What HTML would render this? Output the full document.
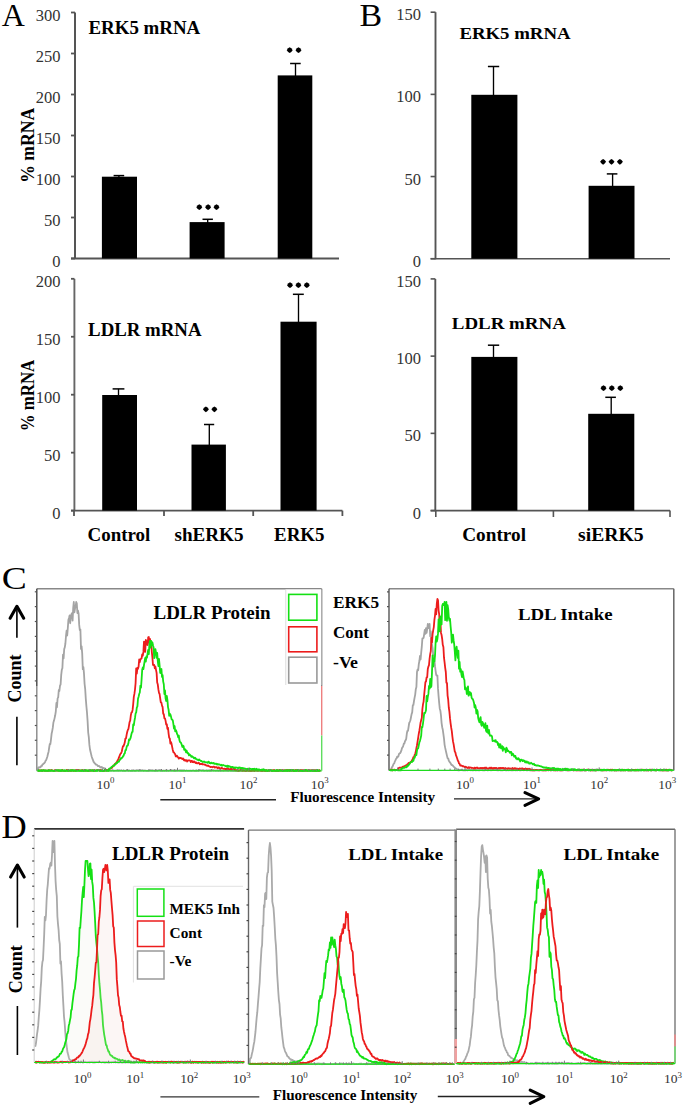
<!DOCTYPE html>
<html><head><meta charset="utf-8"><style>
html,body{margin:0;padding:0;background:#fff;}
svg{display:block;font-family:"Liberation Serif",serif;}
</style></head><body>
<svg width="685" height="1115" viewBox="0 0 685 1115">
<rect width="685" height="1115" fill="#fff"/>
<text x="1.8" y="26.3" font-size="32" font-weight="normal" text-anchor="start" fill="#000">A</text>
<line x1="75" y1="12.5" x2="75" y2="259.0" stroke="#555" stroke-width="2"/>
<line x1="71" y1="258.5" x2="339" y2="258.5" stroke="#555" stroke-width="1.8"/>
<line x1="71" y1="12.5" x2="75" y2="12.5" stroke="#555" stroke-width="1.8"/>
<text x="60.5" y="20.5" font-size="16.5" font-weight="normal" text-anchor="end" fill="#333">300</text>
<line x1="71" y1="53.5" x2="75" y2="53.5" stroke="#555" stroke-width="1.8"/>
<text x="60.5" y="61.5" font-size="16.5" font-weight="normal" text-anchor="end" fill="#333">250</text>
<line x1="71" y1="94.5" x2="75" y2="94.5" stroke="#555" stroke-width="1.8"/>
<text x="60.5" y="102.5" font-size="16.5" font-weight="normal" text-anchor="end" fill="#333">200</text>
<line x1="71" y1="135.5" x2="75" y2="135.5" stroke="#555" stroke-width="1.8"/>
<text x="60.5" y="143.5" font-size="16.5" font-weight="normal" text-anchor="end" fill="#333">150</text>
<line x1="71" y1="176.5" x2="75" y2="176.5" stroke="#555" stroke-width="1.8"/>
<text x="60.5" y="184.5" font-size="16.5" font-weight="normal" text-anchor="end" fill="#333">100</text>
<line x1="71" y1="217.5" x2="75" y2="217.5" stroke="#555" stroke-width="1.8"/>
<text x="60.5" y="225.5" font-size="16.5" font-weight="normal" text-anchor="end" fill="#333">50</text>
<line x1="71" y1="258.5" x2="75" y2="258.5" stroke="#555" stroke-width="1.8"/>
<text x="60.5" y="266.5" font-size="16.5" font-weight="normal" text-anchor="end" fill="#333">0</text>
<text x="88.5" y="33.6" font-size="18.5" font-weight="bold" text-anchor="start" fill="#000" textLength="111.7" lengthAdjust="spacingAndGlyphs">ERK5 mRNA</text>
<text transform="translate(34.3,145.2) rotate(-90)" font-size="17.8" font-weight="bold" text-anchor="middle" textLength="75" lengthAdjust="spacingAndGlyphs">% mRNA</text>
<line x1="118.9" y1="175.6" x2="118.9" y2="177.7" stroke="#000" stroke-width="1.35"/>
<line x1="113.6" y1="175.6" x2="124.2" y2="175.6" stroke="#000" stroke-width="1.5"/>
<rect x="101.9" y="176.7" width="35.099999999999994" height="81.80000000000001" fill="#000" stroke="#000" stroke-width="0"/>
<line x1="207.7" y1="219.3" x2="207.7" y2="223.1" stroke="#000" stroke-width="1.35"/>
<line x1="202.5" y1="219.3" x2="212.9" y2="219.3" stroke="#000" stroke-width="1.5"/>
<rect x="189.6" y="222.1" width="35.0" height="36.400000000000006" fill="#000" stroke="#000" stroke-width="0"/>
<line x1="295.5" y1="63.5" x2="295.5" y2="76.4" stroke="#000" stroke-width="1.35"/>
<line x1="290.1" y1="63.5" x2="300.7" y2="63.5" stroke="#000" stroke-width="1.5"/>
<rect x="277.7" y="75.4" width="34.60000000000002" height="183.1" fill="#000" stroke="#000" stroke-width="0"/>
<path d="M196.30,207.2 Q197.65,205.02 199.3,204.30 Q200.95,205.02 202.30,207.2 Q200.95,209.38 199.3,210.10 Q197.65,209.38 196.30,207.2 Z" fill="#000"/>
<path d="M205.10,207.2 Q206.45,205.02 208.1,204.30 Q209.75,205.02 211.10,207.2 Q209.75,209.38 208.1,210.10 Q206.45,209.38 205.10,207.2 Z" fill="#000"/>
<path d="M213.50,207.2 Q214.85,205.02 216.5,204.30 Q218.15,205.02 219.50,207.2 Q218.15,209.38 216.5,210.10 Q214.85,209.38 213.50,207.2 Z" fill="#000"/>
<path d="M286.70,50.2 Q288.05,48.03 289.7,47.30 Q291.35,48.03 292.70,50.2 Q291.35,52.38 289.7,53.10 Q288.05,52.38 286.70,50.2 Z" fill="#000"/>
<path d="M295.50,50.2 Q296.85,48.03 298.5,47.30 Q300.15,48.03 301.50,50.2 Q300.15,52.38 298.5,53.10 Q296.85,52.38 295.50,50.2 Z" fill="#000"/>
<line x1="74.4" y1="278.8" x2="74.4" y2="511.1" stroke="#666" stroke-width="1.9"/>
<line x1="71" y1="510.6" x2="342.4" y2="510.6" stroke="#555" stroke-width="1.8"/>
<line x1="74" y1="510.6" x2="74" y2="516" stroke="#555" stroke-width="1.8"/>
<line x1="164" y1="510.6" x2="164" y2="516" stroke="#555" stroke-width="1.8"/>
<line x1="253.2" y1="510.6" x2="253.2" y2="516" stroke="#555" stroke-width="1.8"/>
<line x1="342.4" y1="510.6" x2="342.4" y2="516" stroke="#555" stroke-width="1.8"/>
<line x1="71" y1="278.8" x2="74.4" y2="278.8" stroke="#555" stroke-width="1.8"/>
<text x="60.5" y="286.8" font-size="16.5" font-weight="normal" text-anchor="end" fill="#333">200</text>
<line x1="71" y1="336.75" x2="74.4" y2="336.75" stroke="#555" stroke-width="1.8"/>
<text x="60.5" y="344.75" font-size="16.5" font-weight="normal" text-anchor="end" fill="#333">150</text>
<line x1="71" y1="394.70000000000005" x2="74.4" y2="394.70000000000005" stroke="#555" stroke-width="1.8"/>
<text x="60.5" y="402.70000000000005" font-size="16.5" font-weight="normal" text-anchor="end" fill="#333">100</text>
<line x1="71" y1="452.65000000000003" x2="74.4" y2="452.65000000000003" stroke="#555" stroke-width="1.8"/>
<text x="60.5" y="460.65000000000003" font-size="16.5" font-weight="normal" text-anchor="end" fill="#333">50</text>
<line x1="71" y1="510.6" x2="74.4" y2="510.6" stroke="#555" stroke-width="1.8"/>
<text x="60.5" y="518.6" font-size="16.5" font-weight="normal" text-anchor="end" fill="#333">0</text>
<text x="88.1" y="336.2" font-size="18.5" font-weight="bold" text-anchor="start" fill="#000" textLength="113.4" lengthAdjust="spacingAndGlyphs">LDLR mRNA</text>
<text transform="translate(34.2,395.5) rotate(-90)" font-size="18" font-weight="bold" text-anchor="middle" textLength="71.5" lengthAdjust="spacingAndGlyphs">% mRNA</text>
<line x1="118.5" y1="388.9" x2="118.5" y2="396" stroke="#000" stroke-width="1.35"/>
<line x1="112.6" y1="388.9" x2="124.4" y2="388.9" stroke="#000" stroke-width="1.5"/>
<rect x="102.2" y="395" width="34.8" height="115.60000000000002" fill="#000" stroke="#000" stroke-width="0"/>
<line x1="209.3" y1="424.5" x2="209.3" y2="445.6" stroke="#000" stroke-width="1.35"/>
<line x1="204" y1="424.5" x2="214.2" y2="424.5" stroke="#000" stroke-width="1.5"/>
<rect x="191.5" y="444.6" width="34.400000000000006" height="66.0" fill="#000" stroke="#000" stroke-width="0"/>
<line x1="298.5" y1="294.3" x2="298.5" y2="322.7" stroke="#000" stroke-width="1.35"/>
<line x1="292.9" y1="294.3" x2="303.8" y2="294.3" stroke="#000" stroke-width="1.5"/>
<rect x="280.5" y="321.7" width="36.10000000000002" height="188.90000000000003" fill="#000" stroke="#000" stroke-width="0"/>
<path d="M202.90,409.3 Q204.25,407.12 205.9,406.40 Q207.55,407.12 208.90,409.3 Q207.55,411.48 205.9,412.20 Q204.25,411.48 202.90,409.3 Z" fill="#000"/>
<path d="M211.40,409.3 Q212.75,407.12 214.4,406.40 Q216.05,407.12 217.40,409.3 Q216.05,411.48 214.4,412.20 Q212.75,411.48 211.40,409.3 Z" fill="#000"/>
<path d="M287.00,285.2 Q288.35,283.02 290,282.30 Q291.65,283.02 293.00,285.2 Q291.65,287.38 290,288.10 Q288.35,287.38 287.00,285.2 Z" fill="#000"/>
<path d="M295.40,285.2 Q296.75,283.02 298.4,282.30 Q300.05,283.02 301.40,285.2 Q300.05,287.38 298.4,288.10 Q296.75,287.38 295.40,285.2 Z" fill="#000"/>
<path d="M303.80,285.2 Q305.15,283.02 306.8,282.30 Q308.45,283.02 309.80,285.2 Q308.45,287.38 306.8,288.10 Q305.15,287.38 303.80,285.2 Z" fill="#000"/>
<text x="87.5" y="540.9" font-size="18.5" font-weight="bold" text-anchor="start" fill="#000" textLength="62.8" lengthAdjust="spacingAndGlyphs">Control</text>
<text x="174.5" y="540.9" font-size="18.5" font-weight="bold" text-anchor="start" fill="#000" textLength="69.0" lengthAdjust="spacingAndGlyphs">shERK5</text>
<text x="274.0" y="540.9" font-size="18.5" font-weight="bold" text-anchor="start" fill="#000" textLength="50.5" lengthAdjust="spacingAndGlyphs">ERK5</text>
<text x="359.6" y="26.2" font-size="31.5" font-weight="normal" text-anchor="start" fill="#000" textLength="22.6" lengthAdjust="spacingAndGlyphs">B</text>
<line x1="435.5" y1="12.2" x2="435.5" y2="259.2" stroke="#555" stroke-width="1.9"/>
<line x1="430.6" y1="258.7" x2="670" y2="258.7" stroke="#555" stroke-width="1.6"/>
<line x1="430.6" y1="12.2" x2="435.5" y2="12.2" stroke="#555" stroke-width="1.6"/>
<text x="421" y="20.2" font-size="16.5" font-weight="normal" text-anchor="end" fill="#333">150</text>
<line x1="430.6" y1="94.37" x2="435.5" y2="94.37" stroke="#555" stroke-width="1.6"/>
<text x="421" y="102.37" font-size="16.5" font-weight="normal" text-anchor="end" fill="#333">100</text>
<line x1="430.6" y1="176.54" x2="435.5" y2="176.54" stroke="#555" stroke-width="1.6"/>
<text x="421" y="184.54" font-size="16.5" font-weight="normal" text-anchor="end" fill="#333">50</text>
<line x1="430.6" y1="258.71" x2="435.5" y2="258.71" stroke="#555" stroke-width="1.6"/>
<text x="421" y="266.71" font-size="16.5" font-weight="normal" text-anchor="end" fill="#333">0</text>
<text x="459.4" y="39.2" font-size="17" font-weight="bold" text-anchor="start" fill="#000" textLength="111.2" lengthAdjust="spacingAndGlyphs">ERK5 mRNA</text>
<line x1="493.5" y1="66.5" x2="493.5" y2="95.8" stroke="#000" stroke-width="1.35"/>
<line x1="487.9" y1="66.5" x2="499.2" y2="66.5" stroke="#000" stroke-width="1.5"/>
<rect x="471.3" y="94.8" width="46.099999999999966" height="163.89999999999998" fill="#000" stroke="#000" stroke-width="0"/>
<line x1="612.6" y1="173.9" x2="612.6" y2="186.8" stroke="#000" stroke-width="1.35"/>
<line x1="606.8" y1="173.9" x2="617.4" y2="173.9" stroke="#000" stroke-width="1.5"/>
<rect x="588.6" y="185.8" width="45.89999999999998" height="72.89999999999998" fill="#000" stroke="#000" stroke-width="0"/>
<path d="M600.10,161.8 Q601.45,159.62 603.1,158.90 Q604.75,159.62 606.10,161.8 Q604.75,163.98 603.1,164.70 Q601.45,163.98 600.10,161.8 Z" fill="#000"/>
<path d="M608.50,161.8 Q609.85,159.62 611.5,158.90 Q613.15,159.62 614.50,161.8 Q613.15,163.98 611.5,164.70 Q609.85,163.98 608.50,161.8 Z" fill="#000"/>
<path d="M616.90,161.8 Q618.25,159.62 619.9,158.90 Q621.55,159.62 622.90,161.8 Q621.55,163.98 619.9,164.70 Q618.25,163.98 616.90,161.8 Z" fill="#000"/>
<line x1="435.3" y1="278.9" x2="435.3" y2="511.1" stroke="#555" stroke-width="1.9"/>
<line x1="430.6" y1="510.6" x2="670" y2="510.6" stroke="#555" stroke-width="1.6"/>
<line x1="435.8" y1="510.6" x2="435.8" y2="517" stroke="#555" stroke-width="1.6"/>
<line x1="553.4" y1="510.6" x2="553.4" y2="517" stroke="#555" stroke-width="1.6"/>
<line x1="670" y1="510.6" x2="670" y2="517" stroke="#555" stroke-width="1.6"/>
<line x1="430.6" y1="278.9" x2="435.3" y2="278.9" stroke="#555" stroke-width="1.6"/>
<text x="421" y="286.9" font-size="16.5" font-weight="normal" text-anchor="end" fill="#333">150</text>
<line x1="430.6" y1="356.13" x2="435.3" y2="356.13" stroke="#555" stroke-width="1.6"/>
<text x="421" y="364.13" font-size="16.5" font-weight="normal" text-anchor="end" fill="#333">100</text>
<line x1="430.6" y1="433.36" x2="435.3" y2="433.36" stroke="#555" stroke-width="1.6"/>
<text x="421" y="441.36" font-size="16.5" font-weight="normal" text-anchor="end" fill="#333">50</text>
<line x1="430.6" y1="510.59" x2="435.3" y2="510.59" stroke="#555" stroke-width="1.6"/>
<text x="421" y="518.5899999999999" font-size="16.5" font-weight="normal" text-anchor="end" fill="#333">0</text>
<text x="451.8" y="329.2" font-size="17.5" font-weight="bold" text-anchor="start" fill="#000" textLength="114.0" lengthAdjust="spacingAndGlyphs">LDLR mRNA</text>
<line x1="493.5" y1="345.2" x2="493.5" y2="357.9" stroke="#000" stroke-width="1.35"/>
<line x1="487.9" y1="345.2" x2="499.2" y2="345.2" stroke="#000" stroke-width="1.5"/>
<rect x="471.3" y="356.9" width="46.099999999999966" height="153.70000000000005" fill="#000" stroke="#000" stroke-width="0"/>
<line x1="611.2" y1="397.3" x2="611.2" y2="414.8" stroke="#000" stroke-width="1.35"/>
<line x1="605.3" y1="397.3" x2="615.9" y2="397.3" stroke="#000" stroke-width="1.5"/>
<rect x="588.2" y="413.8" width="46.09999999999991" height="96.80000000000001" fill="#000" stroke="#000" stroke-width="0"/>
<path d="M600.50,388.2 Q601.85,386.02 603.5,385.30 Q605.15,386.02 606.50,388.2 Q605.15,390.38 603.5,391.10 Q601.85,390.38 600.50,388.2 Z" fill="#000"/>
<path d="M608.80,388.2 Q610.15,386.02 611.8,385.30 Q613.45,386.02 614.80,388.2 Q613.45,390.38 611.8,391.10 Q610.15,390.38 608.80,388.2 Z" fill="#000"/>
<path d="M617.30,388.2 Q618.65,386.02 620.3,385.30 Q621.95,386.02 623.30,388.2 Q621.95,390.38 620.3,391.10 Q618.65,390.38 617.30,388.2 Z" fill="#000"/>
<text x="462.2" y="541.3" font-size="18" font-weight="bold" text-anchor="start" fill="#000" textLength="63.8" lengthAdjust="spacingAndGlyphs">Control</text>
<text x="578.1" y="541.3" font-size="18" font-weight="bold" text-anchor="start" fill="#000" textLength="65.5" lengthAdjust="spacingAndGlyphs">siERK5</text>
<text x="1.8" y="588.6" font-size="30.5" fill="#000" textLength="25" lengthAdjust="spacingAndGlyphs">C</text>
<path d="M37.8,770.1 L38.4,767.4 L39.0,767.7 L39.6,767.1 L40.2,767.4 L40.8,766.9 L41.4,765.6 L42.0,765.9 L42.6,764.3 L43.2,764.1 L43.8,763.4 L44.4,763.1 L45.0,762.2 L45.6,760.6 L46.2,760.1 L46.8,758.2 L47.4,756.5 L48.0,753.8 L48.6,751.7 L49.2,747.5 L49.8,743.9 L50.4,744.0 L51.0,739.3 L51.6,733.8 L52.2,731.1 L52.8,727.7 L53.4,722.5 L54.0,720.6 L54.6,718.1 L55.2,715.3 L55.8,711.5 L56.4,703.0 L57.0,707.3 L57.6,698.4 L58.2,697.4 L58.8,690.0 L59.4,691.0 L60.0,685.7 L60.6,684.5 L61.2,675.2 L61.8,669.8 L62.4,668.1 L63.0,654.7 L63.6,658.4 L64.2,649.1 L64.8,647.3 L65.4,643.5 L66.0,636.0 L66.6,630.7 L67.2,635.5 L67.8,628.3 L68.4,619.7 L69.0,618.0 L69.6,615.4 L70.2,623.3 L70.8,616.1 L71.4,614.5 L72.0,613.2 L72.6,620.6 L73.2,608.1 L73.8,602.0 L74.4,612.4 L75.0,608.5 L75.6,607.0 L76.2,602.0 L76.8,603.4 L77.4,613.0 L78.0,610.7 L78.6,613.7 L79.2,624.9 L79.8,630.2 L80.4,629.5 L81.0,648.9 L81.6,646.4 L82.2,653.4 L82.8,669.1 L83.4,667.0 L84.0,673.7 L84.6,684.0 L85.2,689.2 L85.8,698.9 L86.4,706.3 L87.0,712.7 L87.6,721.1 L88.2,732.5 L88.8,737.1 L89.4,744.9 L90.0,749.5 L90.6,752.0 L91.2,754.6 L91.8,757.0 L92.4,758.6 L93.0,760.1 L93.6,761.9 L94.2,762.5 L94.8,763.5 L95.4,763.6 L96.0,764.7 L96.6,764.7 L97.2,765.0 L97.8,766.1 L98.4,766.2 L99.0,765.9 L99.6,766.4 L100.2,767.3 L100.8,767.5 L101.4,767.0 L102.0,767.2 L102.6,768.4 L103.2,767.9 L103.8,768.1 L104.4,768.4 L105.0,770.1 L105.6,770.6 L106.2,770.3 L106.8,770.1 L107.4,770.1 L108.0,770.5 L108.6,770.1 L109.2,770.5 L109.8,770.6 L110.4,770.5 L111.0,770.8 L111.6,770.5 L112.2,770.4 L112.8,770.0 L113.4,770.8 L114.0,770.8 L114.6,770.6 L115.2,770.6 L115.8,770.7 L116.4,770.5 L117.0,770.5 L117.6,770.0 L118.2,770.8 L118.8,770.1 L119.4,770.2 L120.0,770.7 L120.6,770.7 L121.2,770.1 L121.8,770.5 L122.4,770.8 L123.0,770.8 L123.6,770.3 L124.2,770.8 L124.8,770.8 L125.4,770.8 L126.0,770.6 L126.6,770.2 L127.2,770.4 L127.8,770.1 L128.4,770.8 L129.0,770.4 L129.6,770.5 L130.2,770.8 L130.8,770.8 L131.4,770.8 L132.0,770.1 L132.6,770.8 L133.2,770.4 L133.8,770.2 L134.4,770.8 L135.0,770.8 L135.6,770.8 L136.2,770.1 L136.8,770.5 L137.4,770.4 L138.0,770.2 L138.6,770.7 L139.2,770.2 L139.8,770.4 L140.4,770.7 L141.0,770.2 L141.6,770.6 L142.2,770.4 L142.8,770.1 L143.4,770.8 L144.0,770.8 L144.6,770.4 L145.2,770.5 L145.8,770.8 L146.4,770.8 L147.0,770.7 L147.6,770.8 L148.2,770.8 L148.8,770.8 L149.4,770.7 L150.0,770.1 L150.6,770.2 L151.2,770.7 L151.8,770.1 L152.4,770.1 L153.0,770.8 L153.6,770.5 L154.2,770.8 L154.8,770.8 L155.4,770.1 L156.0,770.8 L156.6,770.7 L157.2,770.6 L157.8,770.8 L158.4,770.2 L159.0,770.1 L159.6,770.0 L160.2,770.8 L160.8,770.0 L161.4,770.7 L162.0,770.8 L162.6,770.6 L163.2,770.8 L163.8,770.5 L164.4,770.8 L165.0,770.6 L165.6,770.5 L166.2,770.8 L166.8,770.8 L167.4,770.5 L168.0,770.6 L168.6,770.8 L169.2,770.6 L169.8,770.4 L170.4,770.0 L171.0,770.7 L171.6,770.0 L172.2,770.4 L172.8,770.6 L173.4,770.7 L174.0,770.8 L174.6,770.8 L175.2,770.1 L175.8,770.8 L176.4,770.3 L177.0,770.7 L177.6,770.3 L178.2,770.7 L178.8,770.5 L179.4,770.2 L180.0,770.8 L180.6,770.3 L181.2,770.8 L181.8,770.1 L182.4,770.8 L183.0,770.3 L183.6,770.8 L184.2,770.2 L184.8,770.7 L185.4,770.8 L186.0,770.6 L186.6,770.3 L187.2,770.7 L187.8,770.8 L188.4,770.8 L189.0,770.5 L189.6,770.8 L190.2,770.8 L190.8,770.4 L191.4,770.8 L192.0,770.8 L192.6,770.5 L193.2,770.4 L193.8,770.4 L194.4,770.8 L195.0,770.8 L195.6,770.8 L196.2,770.1 L196.8,770.8 L197.4,770.6 L198.0,770.7 L198.6,770.8 L199.2,770.1 L199.8,770.2 L200.4,770.2 L201.0,770.3 L201.6,770.7 L202.2,770.2 L202.8,770.4 L203.4,770.2 L204.0,770.8 L204.6,770.6 L205.2,770.7 L205.8,770.5 L206.4,770.2 L207.0,770.8 L207.6,770.8 L208.2,770.3 L208.8,770.6 L209.4,770.1 L210.0,770.8 L210.6,770.1 L211.2,770.7 L211.8,770.1 L212.4,770.3 L213.0,770.0 L213.6,770.6 L214.2,770.3 L214.8,770.5 L215.4,770.8 L216.0,770.4 L216.6,770.3 L217.2,770.7 L217.8,770.4 L218.4,770.8 L219.0,770.2 L219.6,770.2 L220.2,770.8 L220.8,770.8 L221.4,770.6 L222.0,770.5 L222.6,770.7 L223.2,770.8 L223.8,770.8 L224.4,770.4 L225.0,770.6 L225.6,770.3 L226.2,770.7 L226.8,770.6 L227.4,770.7 L228.0,770.8 L228.6,770.8 L229.2,770.4 L229.8,770.0 L230.4,770.7 L231.0,770.8 L231.6,770.6 L232.2,770.7 L232.8,770.8 L233.4,770.1 L234.0,770.8 L234.6,770.3 L235.2,770.7 L235.8,770.8 L236.4,770.1 L237.0,770.8 L237.6,770.8 L238.2,770.3 L238.8,770.8 L239.4,770.8 L240.0,770.8 L240.6,770.4 L241.2,770.6 L241.8,770.1 L242.4,770.7 L243.0,770.4 L243.6,770.1 L244.2,770.6 L244.8,770.7 L245.4,770.3 L246.0,770.8 L246.6,770.8 L247.2,770.8 L247.8,770.2 L248.4,770.2 L249.0,770.1 L249.6,770.1 L250.2,770.6 L250.8,770.8 L251.4,770.6 L252.0,770.3 L252.6,770.2 L253.2,770.8 L253.8,770.5 L254.4,770.8 L255.0,770.8 L255.6,770.1 L256.2,770.7 L256.8,770.4 L257.4,770.3 L258.0,770.8 L258.6,770.5 L259.2,770.8 L259.8,770.3 L260.4,770.2 L261.0,770.6 L261.6,770.6 L262.2,770.8 L262.8,770.7 L263.4,770.4 L264.0,770.8 L264.6,770.4 L265.2,770.4 L265.8,770.8 L266.4,770.6 L267.0,770.6 L267.6,770.8 L268.2,770.2 L268.8,770.2 L269.4,770.8 L270.0,770.4 L270.6,770.1 L271.2,770.3 L271.8,770.8 L272.4,770.7 L273.0,770.8 L273.6,770.6 L274.2,770.7 L274.8,770.8 L275.4,770.4 L276.0,770.8 L276.6,770.6 L277.2,770.3 L277.8,770.0 L278.4,770.6 L279.0,770.2 L279.6,770.1 L280.2,770.8 L280.8,770.3 L281.4,770.4 L282.0,770.3 L282.6,770.2 L283.2,770.8 L283.8,770.8 L284.4,770.8 L285.0,770.5 L285.6,770.8 L286.2,770.8 L286.8,770.3 L287.4,770.8 L288.0,770.8 L288.6,770.5 L289.2,770.8 L289.8,770.3 L290.4,770.1 L291.0,770.4 L291.6,770.2 L292.2,770.6 L292.8,770.7 L293.4,770.8 L294.0,770.1 L294.6,770.8 L295.2,770.5 L295.8,770.1 L296.4,770.8 L297.0,770.7 L297.6,770.8 L298.2,770.3 L298.8,770.7 L299.4,770.8 L300.0,770.4 L300.6,770.7 L301.2,770.2 L301.8,770.8 L302.4,770.3 L303.0,770.4 L303.6,770.4 L304.2,770.6 L304.8,770.8 L305.4,770.7 L306.0,770.7 L306.6,770.1 L307.2,770.8 L307.8,770.2 L308.4,770.7 L309.0,770.7 L309.6,770.1 L310.2,770.7 L310.8,770.8 L311.4,770.1 L312.0,770.3 L312.6,770.8 L313.2,770.1 L313.8,770.6 L314.4,770.8 L315.0,770.4 L315.6,770.6 L316.2,770.2 L316.8,770.1 L317.4,770.2 L318.0,770.8 L318.6,770.6 L319.2,770.8 L319.8,770.4 L320.4,770.1" fill="none" stroke="#a4a4a4" stroke-width="1.8" stroke-linejoin="round"/>
<path d="M37.8,770.4 L38.4,770.8 L39.0,770.8 L39.6,770.2 L40.2,770.5 L40.8,770.4 L41.4,770.8 L42.0,770.1 L42.6,770.8 L43.2,770.3 L43.8,770.2 L44.4,770.8 L45.0,770.5 L45.6,770.8 L46.2,770.8 L46.8,770.6 L47.4,770.4 L48.0,770.8 L48.6,770.8 L49.2,770.2 L49.8,770.4 L50.4,770.6 L51.0,770.3 L51.6,770.0 L52.2,770.7 L52.8,770.7 L53.4,770.8 L54.0,770.8 L54.6,770.2 L55.2,770.5 L55.8,770.6 L56.4,770.5 L57.0,770.7 L57.6,770.3 L58.2,770.8 L58.8,770.3 L59.4,770.7 L60.0,770.4 L60.6,770.8 L61.2,770.8 L61.8,770.6 L62.4,770.0 L63.0,770.7 L63.6,770.8 L64.2,770.8 L64.8,770.8 L65.4,770.8 L66.0,770.8 L66.6,770.0 L67.2,770.0 L67.8,770.7 L68.4,770.2 L69.0,770.8 L69.6,770.5 L70.2,770.8 L70.8,770.1 L71.4,770.8 L72.0,770.1 L72.6,770.5 L73.2,770.3 L73.8,770.8 L74.4,770.8 L75.0,770.8 L75.6,770.1 L76.2,770.6 L76.8,770.0 L77.4,770.1 L78.0,770.0 L78.6,770.5 L79.2,770.1 L79.8,770.7 L80.4,770.7 L81.0,770.8 L81.6,770.3 L82.2,770.1 L82.8,770.1 L83.4,770.7 L84.0,770.8 L84.6,770.1 L85.2,770.3 L85.8,770.8 L86.4,770.5 L87.0,770.8 L87.6,770.7 L88.2,770.8 L88.8,770.8 L89.4,770.3 L90.0,770.4 L90.6,770.8 L91.2,770.6 L91.8,770.4 L92.4,770.7 L93.0,770.1 L93.6,770.8 L94.2,770.8 L94.8,770.6 L95.4,770.5 L96.0,770.3 L96.6,770.4 L97.2,770.2 L97.8,770.2 L98.4,770.2 L99.0,770.3 L99.6,770.7 L100.2,770.0 L100.8,770.5 L101.4,770.3 L102.0,770.7 L102.6,770.8 L103.2,770.8 L103.8,770.8 L104.4,770.8 L105.0,770.1 L105.6,770.4 L106.2,770.1 L106.8,770.7 L107.4,770.2 L108.0,770.4 L108.6,770.4 L109.2,769.0 L109.8,768.8 L110.4,768.4 L111.0,768.3 L111.6,768.0 L112.2,767.5 L112.8,766.3 L113.4,766.0 L114.0,765.4 L114.6,764.4 L115.2,763.7 L115.8,763.9 L116.4,762.4 L117.0,761.9 L117.6,760.4 L118.2,759.7 L118.8,757.8 L119.4,756.3 L120.0,754.7 L120.6,753.6 L121.2,753.0 L121.8,751.5 L122.4,748.4 L123.0,746.1 L123.6,746.0 L124.2,744.4 L124.8,742.3 L125.4,738.5 L126.0,738.3 L126.6,734.9 L127.2,732.0 L127.8,730.0 L128.4,729.1 L129.0,725.6 L129.6,722.0 L130.2,720.6 L130.8,715.5 L131.4,712.6 L132.0,712.3 L132.6,709.9 L133.2,704.1 L133.8,696.9 L134.4,693.9 L135.0,689.5 L135.6,683.0 L136.2,668.4 L136.8,673.6 L137.4,667.9 L138.0,668.8 L138.6,666.5 L139.2,659.5 L139.8,662.0 L140.4,659.5 L141.0,658.8 L141.6,658.3 L142.2,654.3 L142.8,655.7 L143.4,651.9 L144.0,641.6 L144.6,651.2 L145.2,651.9 L145.8,640.0 L146.4,641.3 L147.0,644.5 L147.6,645.0 L148.2,637.3 L148.8,637.0 L149.4,642.9 L150.0,639.0 L150.6,643.7 L151.2,643.0 L151.8,651.8 L152.4,657.4 L153.0,665.0 L153.6,664.9 L154.2,664.8 L154.8,668.3 L155.4,666.6 L156.0,669.9 L156.6,672.9 L157.2,682.6 L157.8,684.6 L158.4,689.4 L159.0,692.8 L159.6,694.0 L160.2,698.4 L160.8,702.4 L161.4,702.6 L162.0,705.7 L162.6,707.0 L163.2,713.7 L163.8,714.2 L164.4,718.4 L165.0,718.4 L165.6,720.9 L166.2,724.5 L166.8,724.2 L167.4,729.0 L168.0,727.8 L168.6,733.6 L169.2,737.9 L169.8,738.4 L170.4,743.6 L171.0,742.1 L171.6,744.1 L172.2,747.2 L172.8,750.0 L173.4,752.2 L174.0,752.3 L174.6,753.6 L175.2,754.2 L175.8,756.4 L176.4,756.2 L177.0,755.8 L177.6,757.0 L178.2,757.3 L178.8,758.6 L179.4,757.8 L180.0,758.1 L180.6,757.8 L181.2,758.2 L181.8,758.7 L182.4,759.0 L183.0,758.4 L183.6,759.6 L184.2,760.4 L184.8,759.6 L185.4,760.8 L186.0,760.3 L186.6,760.2 L187.2,761.5 L187.8,760.5 L188.4,760.5 L189.0,760.3 L189.6,760.4 L190.2,760.7 L190.8,762.0 L191.4,760.9 L192.0,760.8 L192.6,762.1 L193.2,761.5 L193.8,762.3 L194.4,761.5 L195.0,762.2 L195.6,763.0 L196.2,762.4 L196.8,763.3 L197.4,763.4 L198.0,763.1 L198.6,762.8 L199.2,763.0 L199.8,764.3 L200.4,763.9 L201.0,763.9 L201.6,764.0 L202.2,763.8 L202.8,764.5 L203.4,764.3 L204.0,764.3 L204.6,764.6 L205.2,764.9 L205.8,765.0 L206.4,765.7 L207.0,765.6 L207.6,765.8 L208.2,765.5 L208.8,766.2 L209.4,766.5 L210.0,766.6 L210.6,767.1 L211.2,766.8 L211.8,767.0 L212.4,767.3 L213.0,766.8 L213.6,766.6 L214.2,766.9 L214.8,767.6 L215.4,767.1 L216.0,767.3 L216.6,767.1 L217.2,767.8 L217.8,768.2 L218.4,767.4 L219.0,767.5 L219.6,768.4 L220.2,768.4 L220.8,768.7 L221.4,768.0 L222.0,767.9 L222.6,768.4 L223.2,768.8 L223.8,768.8 L224.4,768.6 L225.0,768.9 L225.6,769.2 L226.2,769.3 L226.8,768.4 L227.4,769.1 L228.0,768.6 L228.6,769.0 L229.2,769.1 L229.8,769.5 L230.4,769.4 L231.0,768.6 L231.6,769.5 L232.2,769.4 L232.8,769.1 L233.4,768.9 L234.0,768.9 L234.6,768.9 L235.2,770.4 L235.8,770.3 L236.4,770.4 L237.0,770.1 L237.6,770.1 L238.2,770.8 L238.8,770.6 L239.4,770.5 L240.0,770.1 L240.6,770.0 L241.2,770.6 L241.8,770.1 L242.4,770.6 L243.0,770.8 L243.6,770.4 L244.2,770.5 L244.8,770.8 L245.4,770.1 L246.0,770.8 L246.6,770.6 L247.2,770.1 L247.8,770.1 L248.4,770.8 L249.0,770.7 L249.6,770.8 L250.2,770.7 L250.8,770.8 L251.4,770.8 L252.0,770.8 L252.6,770.1 L253.2,770.0 L253.8,770.8 L254.4,770.8 L255.0,770.2 L255.6,770.3 L256.2,770.4 L256.8,770.5 L257.4,770.4 L258.0,770.8 L258.6,770.4 L259.2,770.2 L259.8,770.3 L260.4,770.6 L261.0,770.8 L261.6,770.7 L262.2,770.8 L262.8,770.8 L263.4,770.2 L264.0,770.3 L264.6,770.8 L265.2,770.7 L265.8,770.8 L266.4,770.2 L267.0,770.6 L267.6,770.8 L268.2,770.4 L268.8,770.8 L269.4,770.7 L270.0,770.3 L270.6,770.1 L271.2,770.5 L271.8,770.8 L272.4,770.8 L273.0,770.2 L273.6,770.2 L274.2,770.0 L274.8,770.8 L275.4,770.8 L276.0,770.8 L276.6,770.8 L277.2,770.1 L277.8,770.8 L278.4,770.6 L279.0,770.8 L279.6,770.0 L280.2,770.6 L280.8,770.3 L281.4,770.3 L282.0,770.8 L282.6,770.6 L283.2,770.6 L283.8,770.1 L284.4,770.5 L285.0,770.4 L285.6,770.7 L286.2,770.4 L286.8,770.2 L287.4,770.0 L288.0,770.8 L288.6,770.4 L289.2,770.0 L289.8,770.8 L290.4,770.5 L291.0,770.6 L291.6,770.7 L292.2,770.4 L292.8,770.3 L293.4,770.8 L294.0,770.1 L294.6,770.8 L295.2,770.5 L295.8,770.5 L296.4,770.1 L297.0,770.4 L297.6,770.3 L298.2,770.6 L298.8,770.8 L299.4,770.5 L300.0,770.8 L300.6,770.1 L301.2,770.2 L301.8,770.3 L302.4,770.8 L303.0,770.1 L303.6,770.7 L304.2,770.5 L304.8,770.2 L305.4,770.6 L306.0,770.8 L306.6,770.5 L307.2,770.6 L307.8,770.7 L308.4,770.2 L309.0,770.6 L309.6,770.3 L310.2,770.4 L310.8,770.3 L311.4,770.5 L312.0,770.5 L312.6,770.3 L313.2,770.7 L313.8,770.3 L314.4,770.8 L315.0,770.1 L315.6,770.8 L316.2,770.8 L316.8,770.6 L317.4,770.5 L318.0,770.8 L318.6,770.8 L319.2,770.2 L319.8,770.8 L320.4,770.8" fill="none" stroke="#ec1c1c" stroke-width="1.8" stroke-linejoin="round"/>
<path d="M37.8,770.3 L38.4,770.2 L39.0,770.8 L39.6,770.8 L40.2,770.5 L40.8,770.8 L41.4,770.2 L42.0,770.4 L42.6,770.8 L43.2,770.1 L43.8,770.2 L44.4,770.3 L45.0,770.8 L45.6,770.2 L46.2,770.5 L46.8,770.6 L47.4,770.8 L48.0,770.8 L48.6,770.0 L49.2,770.3 L49.8,770.8 L50.4,770.4 L51.0,770.8 L51.6,770.5 L52.2,770.4 L52.8,770.7 L53.4,770.8 L54.0,770.8 L54.6,770.8 L55.2,770.4 L55.8,770.3 L56.4,770.1 L57.0,770.2 L57.6,770.2 L58.2,770.6 L58.8,770.1 L59.4,770.8 L60.0,770.2 L60.6,770.8 L61.2,770.0 L61.8,770.8 L62.4,770.4 L63.0,770.7 L63.6,770.3 L64.2,770.8 L64.8,770.3 L65.4,770.8 L66.0,770.4 L66.6,770.8 L67.2,770.6 L67.8,770.8 L68.4,770.0 L69.0,770.8 L69.6,770.4 L70.2,770.7 L70.8,770.2 L71.4,770.6 L72.0,770.0 L72.6,770.4 L73.2,770.8 L73.8,770.1 L74.4,770.3 L75.0,770.2 L75.6,770.8 L76.2,770.8 L76.8,770.8 L77.4,770.8 L78.0,770.7 L78.6,770.4 L79.2,770.8 L79.8,770.6 L80.4,770.5 L81.0,770.6 L81.6,770.8 L82.2,770.2 L82.8,770.8 L83.4,770.8 L84.0,770.8 L84.6,770.1 L85.2,770.0 L85.8,770.8 L86.4,770.2 L87.0,770.5 L87.6,770.8 L88.2,770.1 L88.8,770.8 L89.4,770.7 L90.0,770.2 L90.6,770.4 L91.2,770.1 L91.8,770.6 L92.4,770.5 L93.0,770.1 L93.6,770.8 L94.2,770.2 L94.8,770.5 L95.4,770.8 L96.0,770.8 L96.6,770.3 L97.2,770.8 L97.8,770.0 L98.4,770.2 L99.0,770.2 L99.6,770.3 L100.2,770.8 L100.8,770.8 L101.4,770.8 L102.0,770.2 L102.6,770.8 L103.2,770.8 L103.8,770.8 L104.4,770.2 L105.0,770.0 L105.6,770.3 L106.2,770.6 L106.8,770.1 L107.4,770.7 L108.0,770.6 L108.6,770.8 L109.2,768.6 L109.8,768.5 L110.4,768.3 L111.0,767.6 L111.6,767.0 L112.2,766.6 L112.8,766.2 L113.4,765.4 L114.0,765.7 L114.6,765.2 L115.2,764.4 L115.8,763.6 L116.4,763.2 L117.0,763.2 L117.6,761.8 L118.2,761.9 L118.8,761.8 L119.4,760.3 L120.0,759.8 L120.6,758.3 L121.2,758.6 L121.8,757.8 L122.4,757.6 L123.0,756.2 L123.6,755.7 L124.2,753.7 L124.8,753.4 L125.4,750.2 L126.0,750.1 L126.6,747.1 L127.2,745.6 L127.8,745.4 L128.4,743.3 L129.0,739.3 L129.6,740.0 L130.2,738.9 L130.8,737.1 L131.4,734.3 L132.0,732.2 L132.6,732.0 L133.2,724.5 L133.8,725.3 L134.4,721.1 L135.0,717.9 L135.6,713.5 L136.2,712.4 L136.8,707.7 L137.4,706.4 L138.0,698.7 L138.6,696.7 L139.2,694.0 L139.8,692.5 L140.4,685.7 L141.0,687.7 L141.6,679.2 L142.2,669.7 L142.8,667.4 L143.4,669.2 L144.0,665.0 L144.6,661.5 L145.2,658.0 L145.8,661.7 L146.4,656.4 L147.0,657.6 L147.6,653.5 L148.2,649.8 L148.8,654.2 L149.4,644.4 L150.0,641.0 L150.6,647.6 L151.2,641.0 L151.8,645.2 L152.4,642.5 L153.0,645.2 L153.6,647.4 L154.2,658.1 L154.8,651.4 L155.4,649.1 L156.0,652.3 L156.6,657.8 L157.2,653.0 L157.8,661.1 L158.4,666.2 L159.0,659.0 L159.6,665.3 L160.2,673.0 L160.8,669.9 L161.4,668.9 L162.0,677.0 L162.6,675.1 L163.2,681.6 L163.8,684.2 L164.4,694.0 L165.0,690.5 L165.6,698.6 L166.2,701.0 L166.8,695.8 L167.4,699.8 L168.0,707.1 L168.6,709.7 L169.2,715.8 L169.8,713.7 L170.4,714.5 L171.0,716.6 L171.6,719.2 L172.2,719.7 L172.8,720.3 L173.4,724.2 L174.0,728.6 L174.6,726.2 L175.2,731.4 L175.8,730.0 L176.4,731.3 L177.0,733.8 L177.6,734.9 L178.2,737.4 L178.8,735.7 L179.4,740.1 L180.0,742.1 L180.6,742.3 L181.2,743.3 L181.8,745.0 L182.4,747.0 L183.0,745.6 L183.6,746.1 L184.2,749.8 L184.8,749.0 L185.4,750.0 L186.0,752.4 L186.6,750.5 L187.2,752.5 L187.8,753.4 L188.4,753.2 L189.0,755.4 L189.6,754.5 L190.2,754.9 L190.8,755.8 L191.4,756.9 L192.0,756.1 L192.6,756.8 L193.2,757.0 L193.8,758.1 L194.4,758.4 L195.0,757.7 L195.6,758.3 L196.2,759.2 L196.8,759.4 L197.4,759.8 L198.0,759.6 L198.6,760.4 L199.2,759.4 L199.8,760.1 L200.4,760.6 L201.0,761.1 L201.6,761.0 L202.2,761.7 L202.8,762.0 L203.4,761.8 L204.0,761.4 L204.6,762.0 L205.2,762.3 L205.8,762.2 L206.4,762.4 L207.0,762.3 L207.6,762.8 L208.2,761.8 L208.8,761.6 L209.4,763.0 L210.0,763.0 L210.6,763.4 L211.2,762.6 L211.8,762.9 L212.4,763.1 L213.0,763.4 L213.6,762.9 L214.2,763.8 L214.8,763.7 L215.4,763.8 L216.0,763.6 L216.6,764.0 L217.2,764.6 L217.8,763.9 L218.4,764.3 L219.0,764.6 L219.6,764.4 L220.2,764.9 L220.8,765.4 L221.4,764.8 L222.0,765.8 L222.6,765.2 L223.2,765.0 L223.8,765.3 L224.4,765.5 L225.0,765.7 L225.6,766.2 L226.2,766.5 L226.8,765.9 L227.4,765.7 L228.0,767.0 L228.6,765.9 L229.2,766.5 L229.8,766.5 L230.4,766.6 L231.0,767.5 L231.6,767.1 L232.2,766.9 L232.8,767.0 L233.4,767.5 L234.0,767.9 L234.6,767.4 L235.2,768.1 L235.8,767.3 L236.4,767.5 L237.0,767.7 L237.6,767.9 L238.2,768.3 L238.8,767.4 L239.4,767.8 L240.0,767.4 L240.6,768.6 L241.2,768.0 L241.8,767.8 L242.4,768.8 L243.0,767.9 L243.6,768.8 L244.2,768.3 L244.8,768.7 L245.4,768.7 L246.0,768.8 L246.6,769.0 L247.2,769.1 L247.8,768.6 L248.4,769.2 L249.0,769.1 L249.6,768.4 L250.2,768.9 L250.8,768.9 L251.4,769.1 L252.0,769.2 L252.6,768.8 L253.2,769.1 L253.8,768.8 L254.4,768.7 L255.0,769.5 L255.6,769.7 L256.2,768.8 L256.8,769.1 L257.4,769.5 L258.0,769.6 L258.6,769.3 L259.2,769.4 L259.8,770.0 L260.4,769.9 L261.0,769.9 L261.6,769.7 L262.2,769.5 L262.8,770.2 L263.4,769.3 L264.0,769.7 L264.6,769.6 L265.2,770.6 L265.8,770.1 L266.4,770.2 L267.0,770.8 L267.6,770.8 L268.2,770.4 L268.8,770.1 L269.4,770.3 L270.0,770.1 L270.6,770.1 L271.2,770.1 L271.8,770.8 L272.4,770.5 L273.0,770.8 L273.6,770.8 L274.2,770.6 L274.8,770.6 L275.4,770.5 L276.0,770.8 L276.6,770.0 L277.2,770.8 L277.8,770.4 L278.4,770.8 L279.0,770.5 L279.6,770.1 L280.2,770.5 L280.8,770.3 L281.4,770.5 L282.0,770.6 L282.6,770.8 L283.2,770.8 L283.8,770.8 L284.4,770.4 L285.0,770.8 L285.6,770.2 L286.2,770.1 L286.8,770.8 L287.4,770.8 L288.0,770.1 L288.6,770.1 L289.2,770.3 L289.8,770.7 L290.4,770.0 L291.0,770.6 L291.6,770.5 L292.2,770.0 L292.8,770.3 L293.4,770.1 L294.0,770.8 L294.6,770.8 L295.2,770.8 L295.8,770.1 L296.4,770.8 L297.0,770.8 L297.6,770.0 L298.2,770.1 L298.8,770.6 L299.4,770.4 L300.0,770.7 L300.6,770.5 L301.2,770.8 L301.8,770.8 L302.4,770.6 L303.0,770.8 L303.6,770.8 L304.2,770.8 L304.8,770.4 L305.4,770.0 L306.0,770.0 L306.6,770.2 L307.2,770.7 L307.8,770.8 L308.4,770.5 L309.0,770.5 L309.6,770.8 L310.2,770.6 L310.8,770.8 L311.4,770.7 L312.0,770.3 L312.6,770.8 L313.2,770.8 L313.8,770.6 L314.4,770.5 L315.0,770.8 L315.6,770.8 L316.2,770.2 L316.8,770.8 L317.4,770.0 L318.0,770.8 L318.6,770.5 L319.2,770.8 L319.8,770.5 L320.4,770.7" fill="none" stroke="#14e014" stroke-width="1.8" stroke-linejoin="round"/>
<line x1="36.8" y1="588.8" x2="321.7" y2="588.8" stroke="#888" stroke-width="1.4"/>
<line x1="36.8" y1="588.8" x2="36.8" y2="686.0" stroke="#444" stroke-width="1.4"/>
<line x1="36.8" y1="686.0" x2="36.8" y2="770.8" stroke="#888" stroke-width="1.4"/>
<line x1="36.8" y1="770.8" x2="321.7" y2="770.8" stroke="#1edc1e" stroke-width="1.2"/>
<line x1="321.7" y1="588.8" x2="321.7" y2="686.0" stroke="#888" stroke-width="1.4"/>
<line x1="321.7" y1="686.0" x2="321.7" y2="735.6" stroke="#ee8080" stroke-width="1.4"/>
<line x1="321.7" y1="735.6" x2="321.7" y2="770.8" stroke="#60dd60" stroke-width="1.4"/>
<line x1="34.8" y1="591.8" x2="36.8" y2="591.8" stroke="#555" stroke-width="1.2"/>
<line x1="34.8" y1="606.6" x2="36.8" y2="606.6" stroke="#555" stroke-width="1.2"/>
<line x1="34.8" y1="621.5" x2="36.8" y2="621.5" stroke="#555" stroke-width="1.2"/>
<line x1="34.8" y1="636.4" x2="36.8" y2="636.4" stroke="#555" stroke-width="1.2"/>
<line x1="34.8" y1="651.2" x2="36.8" y2="651.2" stroke="#555" stroke-width="1.2"/>
<line x1="34.8" y1="666.1" x2="36.8" y2="666.1" stroke="#555" stroke-width="1.2"/>
<line x1="34.8" y1="680.9" x2="36.8" y2="680.9" stroke="#555" stroke-width="1.2"/>
<line x1="34.8" y1="695.8" x2="36.8" y2="695.8" stroke="#555" stroke-width="1.2"/>
<line x1="34.8" y1="710.6" x2="36.8" y2="710.6" stroke="#555" stroke-width="1.2"/>
<line x1="34.8" y1="725.5" x2="36.8" y2="725.5" stroke="#555" stroke-width="1.2"/>
<line x1="34.8" y1="740.3" x2="36.8" y2="740.3" stroke="#555" stroke-width="1.2"/>
<line x1="34.8" y1="755.2" x2="36.8" y2="755.2" stroke="#555" stroke-width="1.2"/>
<line x1="55.7" y1="770.8" x2="55.7" y2="769.0" stroke="#777" stroke-width="1"/>
<line x1="68.3" y1="770.8" x2="68.3" y2="769.0" stroke="#777" stroke-width="1"/>
<line x1="77.2" y1="770.8" x2="77.2" y2="769.0" stroke="#777" stroke-width="1"/>
<line x1="84.1" y1="770.8" x2="84.1" y2="769.0" stroke="#777" stroke-width="1"/>
<line x1="89.8" y1="770.8" x2="89.8" y2="769.0" stroke="#777" stroke-width="1"/>
<line x1="94.5" y1="770.8" x2="94.5" y2="769.0" stroke="#777" stroke-width="1"/>
<line x1="98.7" y1="770.8" x2="98.7" y2="769.0" stroke="#777" stroke-width="1"/>
<line x1="102.3" y1="770.8" x2="102.3" y2="769.0" stroke="#777" stroke-width="1"/>
<line x1="105.6" y1="770.8" x2="105.6" y2="767.8" stroke="#777" stroke-width="1"/>
<line x1="127.2" y1="770.8" x2="127.2" y2="769.0" stroke="#777" stroke-width="1"/>
<line x1="139.9" y1="770.8" x2="139.9" y2="769.0" stroke="#777" stroke-width="1"/>
<line x1="148.9" y1="770.8" x2="148.9" y2="769.0" stroke="#777" stroke-width="1"/>
<line x1="155.9" y1="770.8" x2="155.9" y2="769.0" stroke="#777" stroke-width="1"/>
<line x1="161.5" y1="770.8" x2="161.5" y2="769.0" stroke="#777" stroke-width="1"/>
<line x1="166.4" y1="770.8" x2="166.4" y2="769.0" stroke="#777" stroke-width="1"/>
<line x1="170.5" y1="770.8" x2="170.5" y2="769.0" stroke="#777" stroke-width="1"/>
<line x1="174.2" y1="770.8" x2="174.2" y2="769.0" stroke="#777" stroke-width="1"/>
<line x1="177.5" y1="770.8" x2="177.5" y2="767.8" stroke="#777" stroke-width="1"/>
<line x1="198.9" y1="770.8" x2="198.9" y2="769.0" stroke="#777" stroke-width="1"/>
<line x1="211.4" y1="770.8" x2="211.4" y2="769.0" stroke="#777" stroke-width="1"/>
<line x1="220.3" y1="770.8" x2="220.3" y2="769.0" stroke="#777" stroke-width="1"/>
<line x1="227.2" y1="770.8" x2="227.2" y2="769.0" stroke="#777" stroke-width="1"/>
<line x1="232.8" y1="770.8" x2="232.8" y2="769.0" stroke="#777" stroke-width="1"/>
<line x1="237.6" y1="770.8" x2="237.6" y2="769.0" stroke="#777" stroke-width="1"/>
<line x1="241.7" y1="770.8" x2="241.7" y2="769.0" stroke="#777" stroke-width="1"/>
<line x1="245.3" y1="770.8" x2="245.3" y2="769.0" stroke="#777" stroke-width="1"/>
<line x1="248.6" y1="770.8" x2="248.6" y2="767.8" stroke="#777" stroke-width="1"/>
<line x1="270.0" y1="770.8" x2="270.0" y2="769.0" stroke="#777" stroke-width="1"/>
<line x1="282.6" y1="770.8" x2="282.6" y2="769.0" stroke="#777" stroke-width="1"/>
<line x1="291.5" y1="770.8" x2="291.5" y2="769.0" stroke="#777" stroke-width="1"/>
<line x1="298.4" y1="770.8" x2="298.4" y2="769.0" stroke="#777" stroke-width="1"/>
<line x1="304.0" y1="770.8" x2="304.0" y2="769.0" stroke="#777" stroke-width="1"/>
<line x1="308.8" y1="770.8" x2="308.8" y2="769.0" stroke="#777" stroke-width="1"/>
<line x1="312.9" y1="770.8" x2="312.9" y2="769.0" stroke="#777" stroke-width="1"/>
<line x1="316.5" y1="770.8" x2="316.5" y2="769.0" stroke="#777" stroke-width="1"/>
<text x="96.6" y="788.6" font-size="13.5" fill="#333">10<tspan font-size="8.9" dy="-5.5">0</tspan></text>
<text x="168.5" y="788.6" font-size="13.5" fill="#333">10<tspan font-size="8.9" dy="-5.5">1</tspan></text>
<text x="239.6" y="788.6" font-size="13.5" fill="#333">10<tspan font-size="8.9" dy="-5.5">2</tspan></text>
<text x="310.8" y="788.6" font-size="13.5" fill="#333">10<tspan font-size="8.9" dy="-5.5">3</tspan></text>
<rect x="285.8" y="589.5" width="35.5" height="95.5" fill="#fff" stroke="none"/>
<line x1="285.8" y1="589.5" x2="285.8" y2="685" stroke="#dcdcdc" stroke-width="1"/>
<rect x="288.7" y="594.4" width="28.2" height="25.8" fill="#fff" stroke="#14e014" stroke-width="1.6"/>
<rect x="288.7" y="626.8" width="28.2" height="25" fill="#fff" stroke="#ec1c1c" stroke-width="1.6"/>
<rect x="288.7" y="657.2" width="28.2" height="25.8" fill="#fff" stroke="#999" stroke-width="1.6"/>
<text x="333.0" y="607.8" font-size="16" font-weight="bold" text-anchor="start" fill="#000" textLength="46.0" lengthAdjust="spacingAndGlyphs">ERK5</text>
<text x="333.0" y="637.6" font-size="16" font-weight="bold" text-anchor="start" fill="#000" textLength="36.0" lengthAdjust="spacingAndGlyphs">Cont</text>
<text x="333.0" y="667.6" font-size="16" font-weight="bold" text-anchor="start" fill="#000" textLength="25.0" lengthAdjust="spacingAndGlyphs">-Ve</text>
<text x="153.5" y="618.7" font-size="18" font-weight="bold" text-anchor="start" fill="#000" textLength="117.1" lengthAdjust="spacingAndGlyphs">LDLR Protein</text>
<path d="M390.0,770.0 L390.6,770.2 L391.2,769.8 L391.8,767.2 L392.4,766.9 L393.0,765.4 L393.6,763.9 L394.2,763.4 L394.8,761.4 L395.4,760.5 L396.0,758.9 L396.6,758.4 L397.2,756.6 L397.8,757.0 L398.4,756.3 L399.0,754.0 L399.6,753.4 L400.2,753.1 L400.8,752.0 L401.4,750.4 L402.0,748.1 L402.6,747.3 L403.2,746.1 L403.8,743.6 L404.4,743.5 L405.0,741.3 L405.6,740.3 L406.2,738.8 L406.8,733.8 L407.4,730.8 L408.0,730.9 L408.6,727.0 L409.2,723.0 L409.8,721.8 L410.4,720.2 L411.0,717.2 L411.6,714.1 L412.2,712.4 L412.8,705.3 L413.4,705.0 L414.0,701.0 L414.6,697.7 L415.2,694.6 L415.8,689.2 L416.4,687.1 L417.0,671.9 L417.6,669.4 L418.2,670.2 L418.8,664.1 L419.4,661.0 L420.0,655.8 L420.6,659.5 L421.2,652.6 L421.8,646.7 L422.4,638.4 L423.0,638.4 L423.6,637.8 L424.2,634.0 L424.8,629.9 L425.4,633.8 L426.0,628.2 L426.6,632.8 L427.2,629.3 L427.8,624.0 L428.4,628.1 L429.0,627.6 L429.6,624.0 L430.2,636.2 L430.8,631.5 L431.4,642.2 L432.0,644.4 L432.6,648.1 L433.2,655.5 L433.8,654.9 L434.4,659.9 L435.0,666.2 L435.6,670.9 L436.2,674.9 L436.8,675.8 L437.4,675.5 L438.0,688.4 L438.6,696.4 L439.2,703.2 L439.8,708.9 L440.4,710.8 L441.0,715.7 L441.6,723.1 L442.2,727.2 L442.8,729.8 L443.4,734.1 L444.0,738.7 L444.6,744.8 L445.2,747.9 L445.8,750.6 L446.4,753.2 L447.0,755.9 L447.6,758.4 L448.2,758.3 L448.8,760.7 L449.4,761.6 L450.0,762.4 L450.6,763.2 L451.2,764.5 L451.8,765.0 L452.4,765.1 L453.0,765.8 L453.6,766.5 L454.2,767.2 L454.8,767.6 L455.4,768.5 L456.0,768.8 L456.6,768.7 L457.2,769.5 L457.8,770.1 L458.4,770.4 L459.0,770.4 L459.6,770.0 L460.2,770.0 L460.8,769.7 L461.4,770.1 L462.0,769.9 L462.6,770.1 L463.2,770.4 L463.8,770.4 L464.4,770.0 L465.0,770.4 L465.6,770.4 L466.2,769.8 L466.8,770.0 L467.4,770.4 L468.0,770.1 L468.6,769.7 L469.2,769.7 L469.8,769.7 L470.4,770.3 L471.0,770.0 L471.6,770.0 L472.2,770.4 L472.8,769.7 L473.4,770.4 L474.0,769.8 L474.6,769.9 L475.2,770.4 L475.8,770.3 L476.4,769.8 L477.0,770.3 L477.6,770.2 L478.2,770.1 L478.8,770.4 L479.4,770.4 L480.0,769.7 L480.6,770.1 L481.2,770.2 L481.8,770.0 L482.4,770.0 L483.0,770.4 L483.6,770.2 L484.2,770.4 L484.8,770.4 L485.4,769.8 L486.0,769.9 L486.6,769.9 L487.2,770.3 L487.8,770.4 L488.4,770.1 L489.0,769.6 L489.6,769.9 L490.2,769.8 L490.8,770.3 L491.4,769.8 L492.0,770.3 L492.6,770.0 L493.2,769.7 L493.8,769.9 L494.4,769.8 L495.0,769.8 L495.6,769.8 L496.2,769.7 L496.8,770.0 L497.4,770.4 L498.0,769.9 L498.6,770.4 L499.2,770.2 L499.8,769.9 L500.4,770.3 L501.0,770.0 L501.6,770.4 L502.2,770.4 L502.8,770.4 L503.4,769.7 L504.0,769.9 L504.6,770.0 L505.2,769.6 L505.8,770.3 L506.4,770.3 L507.0,770.3 L507.6,770.2 L508.2,770.1 L508.8,770.4 L509.4,770.0 L510.0,770.1 L510.6,770.1 L511.2,770.4 L511.8,769.8 L512.4,770.4 L513.0,770.4 L513.6,770.0 L514.2,769.8 L514.8,770.1 L515.4,770.4 L516.0,770.4 L516.6,769.9 L517.2,770.4 L517.8,770.0 L518.4,770.1 L519.0,769.8 L519.6,770.4 L520.2,770.4 L520.8,770.3 L521.4,769.8 L522.0,769.7 L522.6,769.9 L523.2,769.7 L523.8,770.4 L524.4,769.9 L525.0,770.1 L525.6,770.0 L526.2,770.0 L526.8,770.4 L527.4,770.4 L528.0,769.8 L528.6,769.9 L529.2,770.4 L529.8,770.0 L530.4,770.3 L531.0,769.7 L531.6,770.0 L532.2,770.2 L532.8,770.4 L533.4,770.2 L534.0,770.4 L534.6,769.7 L535.2,770.4 L535.8,770.4 L536.4,770.0 L537.0,770.4 L537.6,769.9 L538.2,770.1 L538.8,770.0 L539.4,769.8 L540.0,770.3 L540.6,769.7 L541.2,770.0 L541.8,769.9 L542.4,769.7 L543.0,770.4 L543.6,770.3 L544.2,769.6 L544.8,770.0 L545.4,770.4 L546.0,770.0 L546.6,769.9 L547.2,769.7 L547.8,769.8 L548.4,769.9 L549.0,770.1 L549.6,770.2 L550.2,770.0 L550.8,770.3 L551.4,770.4 L552.0,770.2 L552.6,769.9 L553.2,770.4 L553.8,770.1 L554.4,769.9 L555.0,770.2 L555.6,770.4 L556.2,770.3 L556.8,769.6 L557.4,770.4 L558.0,769.9 L558.6,769.8 L559.2,769.7 L559.8,770.3 L560.4,770.4 L561.0,769.8 L561.6,770.4 L562.2,770.3 L562.8,769.8 L563.4,770.4 L564.0,769.8 L564.6,769.8 L565.2,769.9 L565.8,770.4 L566.4,770.4 L567.0,770.4 L567.6,769.8 L568.2,769.9 L568.8,770.3 L569.4,770.4 L570.0,769.6 L570.6,770.4 L571.2,770.2 L571.8,769.9 L572.4,770.0 L573.0,769.6 L573.6,770.4 L574.2,769.9 L574.8,770.4 L575.4,770.1 L576.0,769.9 L576.6,770.4 L577.2,770.0 L577.8,770.0 L578.4,769.6 L579.0,770.2 L579.6,770.0 L580.2,770.3 L580.8,770.4 L581.4,770.4 L582.0,770.4 L582.6,769.7 L583.2,770.4 L583.8,770.4 L584.4,770.4 L585.0,770.1 L585.6,770.4 L586.2,770.4 L586.8,769.8 L587.4,770.0 L588.0,769.9 L588.6,770.4 L589.2,770.1 L589.8,769.9 L590.4,770.4 L591.0,770.0 L591.6,769.7 L592.2,770.4 L592.8,769.9 L593.4,770.2 L594.0,770.4 L594.6,769.7 L595.2,770.4 L595.8,770.4 L596.4,770.1 L597.0,769.9 L597.6,769.6 L598.2,769.8 L598.8,770.2 L599.4,769.9 L600.0,769.9 L600.6,770.2 L601.2,770.3 L601.8,770.4 L602.4,769.7 L603.0,770.0 L603.6,770.1 L604.2,769.7 L604.8,770.3 L605.4,770.3 L606.0,770.0 L606.6,769.6 L607.2,770.3 L607.8,769.8 L608.4,770.4 L609.0,770.0 L609.6,770.4 L610.2,769.6 L610.8,769.8 L611.4,770.0 L612.0,769.8 L612.6,770.2 L613.2,770.4 L613.8,770.1 L614.4,770.3 L615.0,769.6 L615.6,770.4 L616.2,770.1 L616.8,770.3 L617.4,770.4 L618.0,770.1 L618.6,769.8 L619.2,769.9 L619.8,770.3 L620.4,770.1 L621.0,770.4 L621.6,770.3 L622.2,770.4 L622.8,769.8 L623.4,769.9 L624.0,770.2 L624.6,770.0 L625.2,769.9 L625.8,770.4 L626.4,769.8 L627.0,770.2 L627.6,769.8 L628.2,770.3 L628.8,769.7 L629.4,770.4 L630.0,769.9 L630.6,770.4 L631.2,770.4 L631.8,770.4 L632.4,769.7 L633.0,770.2 L633.6,770.3 L634.2,770.4 L634.8,770.4 L635.4,770.1 L636.0,770.0 L636.6,770.1 L637.2,770.2 L637.8,769.7 L638.4,769.8 L639.0,770.3 L639.6,770.2 L640.2,770.2 L640.8,770.4 L641.4,770.4 L642.0,770.0 L642.6,770.0 L643.2,769.7 L643.8,770.4 L644.4,770.4 L645.0,769.6 L645.6,769.8 L646.2,770.4 L646.8,770.3 L647.4,770.3 L648.0,770.4 L648.6,770.1 L649.2,770.1 L649.8,770.1 L650.4,769.9 L651.0,769.7 L651.6,770.0 L652.2,770.4 L652.8,769.9 L653.4,770.4 L654.0,770.4 L654.6,770.4 L655.2,770.1 L655.8,769.8 L656.4,769.9 L657.0,769.8 L657.6,770.2 L658.2,769.8 L658.8,770.0 L659.4,769.8 L660.0,770.4 L660.6,770.4 L661.2,770.0 L661.8,769.7 L662.4,770.2 L663.0,770.4 L663.6,770.4 L664.2,770.4 L664.8,770.4 L665.4,769.7 L666.0,769.7 L666.6,769.8 L667.2,770.4 L667.8,770.3 L668.4,770.4 L669.0,770.3 L669.6,770.4 L670.2,769.8 L670.8,769.7 L671.4,770.4 L672.0,770.1 L672.6,770.3" fill="none" stroke="#a4a4a4" stroke-width="1.8" stroke-linejoin="round"/>
<path d="M390.0,770.4 L390.6,769.6 L391.2,770.0 L391.8,770.3 L392.4,769.6 L393.0,770.3 L393.6,769.9 L394.2,769.7 L394.8,769.7 L395.4,770.1 L396.0,769.8 L396.6,770.1 L397.2,769.6 L397.8,770.1 L398.4,768.5 L399.0,767.8 L399.6,767.6 L400.2,767.7 L400.8,767.6 L401.4,767.9 L402.0,767.8 L402.6,766.7 L403.2,767.1 L403.8,766.4 L404.4,766.3 L405.0,765.9 L405.6,765.6 L406.2,765.1 L406.8,765.4 L407.4,764.1 L408.0,764.3 L408.6,763.0 L409.2,763.1 L409.8,763.2 L410.4,762.0 L411.0,761.8 L411.6,761.2 L412.2,760.0 L412.8,759.0 L413.4,757.1 L414.0,757.6 L414.6,755.0 L415.2,753.8 L415.8,751.6 L416.4,748.2 L417.0,745.2 L417.6,741.3 L418.2,737.6 L418.8,733.6 L419.4,730.5 L420.0,726.7 L420.6,722.5 L421.2,720.1 L421.8,718.0 L422.4,709.0 L423.0,704.4 L423.6,701.6 L424.2,694.5 L424.8,688.5 L425.4,682.1 L426.0,681.5 L426.6,677.4 L427.2,677.3 L427.8,668.9 L428.4,666.6 L429.0,665.2 L429.6,658.5 L430.2,654.2 L430.8,651.1 L431.4,637.8 L432.0,642.4 L432.6,633.9 L433.2,630.3 L433.8,627.2 L434.4,619.9 L435.0,615.6 L435.6,608.8 L436.2,614.4 L436.8,603.6 L437.4,599.0 L438.0,600.1 L438.6,610.6 L439.2,614.4 L439.8,628.7 L440.4,620.7 L441.0,632.9 L441.6,635.1 L442.2,639.0 L442.8,645.1 L443.4,647.0 L444.0,657.7 L444.6,662.5 L445.2,667.8 L445.8,672.0 L446.4,682.8 L447.0,683.1 L447.6,695.6 L448.2,699.7 L448.8,707.7 L449.4,711.7 L450.0,718.2 L450.6,723.3 L451.2,727.7 L451.8,731.1 L452.4,736.6 L453.0,741.4 L453.6,744.1 L454.2,747.9 L454.8,751.6 L455.4,752.5 L456.0,755.4 L456.6,756.7 L457.2,758.5 L457.8,760.6 L458.4,761.3 L459.0,763.5 L459.6,763.8 L460.2,765.5 L460.8,765.6 L461.4,765.5 L462.0,765.8 L462.6,766.4 L463.2,766.2 L463.8,766.4 L464.4,766.9 L465.0,767.3 L465.6,766.7 L466.2,767.0 L466.8,767.6 L467.4,768.0 L468.0,767.8 L468.6,767.1 L469.2,768.0 L469.8,767.3 L470.4,767.6 L471.0,767.6 L471.6,768.0 L472.2,767.8 L472.8,768.0 L473.4,768.3 L474.0,768.5 L474.6,767.6 L475.2,768.5 L475.8,767.9 L476.4,767.8 L477.0,767.5 L477.6,768.1 L478.2,768.1 L478.8,768.3 L479.4,768.2 L480.0,768.1 L480.6,768.0 L481.2,768.3 L481.8,767.9 L482.4,768.3 L483.0,767.9 L483.6,768.1 L484.2,768.4 L484.8,767.7 L485.4,768.3 L486.0,767.5 L486.6,768.2 L487.2,768.5 L487.8,768.4 L488.4,768.6 L489.0,768.1 L489.6,768.0 L490.2,767.6 L490.8,768.3 L491.4,767.7 L492.0,767.9 L492.6,768.6 L493.2,768.5 L493.8,767.9 L494.4,767.8 L495.0,768.4 L495.6,767.9 L496.2,768.0 L496.8,768.1 L497.4,768.6 L498.0,768.7 L498.6,768.0 L499.2,767.8 L499.8,768.5 L500.4,767.8 L501.0,768.0 L501.6,768.1 L502.2,768.0 L502.8,768.1 L503.4,768.0 L504.0,768.5 L504.6,768.8 L505.2,768.0 L505.8,768.4 L506.4,768.7 L507.0,768.5 L507.6,768.9 L508.2,768.2 L508.8,768.3 L509.4,768.6 L510.0,768.5 L510.6,768.6 L511.2,768.6 L511.8,768.9 L512.4,768.0 L513.0,769.1 L513.6,768.7 L514.2,768.3 L514.8,768.1 L515.4,768.9 L516.0,768.3 L516.6,768.9 L517.2,768.9 L517.8,768.6 L518.4,769.1 L519.0,769.0 L519.6,768.5 L520.2,768.6 L520.8,768.6 L521.4,768.9 L522.0,768.4 L522.6,768.3 L523.2,769.1 L523.8,769.2 L524.4,768.9 L525.0,769.1 L525.6,768.5 L526.2,769.0 L526.8,769.0 L527.4,769.3 L528.0,768.6 L528.6,769.4 L529.2,769.1 L529.8,768.8 L530.4,770.2 L531.0,769.7 L531.6,770.4 L532.2,770.3 L532.8,769.6 L533.4,770.3 L534.0,770.3 L534.6,770.4 L535.2,770.0 L535.8,769.9 L536.4,769.8 L537.0,770.1 L537.6,770.1 L538.2,770.4 L538.8,770.4 L539.4,770.4 L540.0,769.8 L540.6,770.1 L541.2,769.9 L541.8,770.4 L542.4,770.4 L543.0,770.3 L543.6,770.3 L544.2,770.4 L544.8,770.4 L545.4,769.7 L546.0,770.4 L546.6,770.4 L547.2,769.7 L547.8,769.6 L548.4,770.4 L549.0,770.1 L549.6,769.6 L550.2,770.1 L550.8,770.4 L551.4,769.7 L552.0,769.7 L552.6,769.9 L553.2,769.9 L553.8,770.3 L554.4,770.4 L555.0,770.4 L555.6,770.4 L556.2,770.1 L556.8,769.8 L557.4,770.4 L558.0,770.4 L558.6,769.7 L559.2,769.9 L559.8,770.4 L560.4,770.0 L561.0,770.4 L561.6,770.4 L562.2,770.4 L562.8,769.9 L563.4,770.0 L564.0,770.2 L564.6,770.2 L565.2,769.9 L565.8,769.7 L566.4,769.7 L567.0,769.7 L567.6,770.4 L568.2,770.4 L568.8,770.4 L569.4,770.2 L570.0,769.9 L570.6,770.2 L571.2,769.8 L571.8,770.0 L572.4,770.0 L573.0,770.1 L573.6,770.4 L574.2,770.1 L574.8,769.8 L575.4,770.2 L576.0,770.3 L576.6,770.4 L577.2,770.4 L577.8,769.7 L578.4,770.3 L579.0,770.4 L579.6,770.4 L580.2,770.1 L580.8,769.7 L581.4,770.3 L582.0,769.9 L582.6,770.3 L583.2,769.7 L583.8,769.9 L584.4,769.7 L585.0,770.4 L585.6,770.3 L586.2,770.3 L586.8,770.2 L587.4,769.6 L588.0,770.0 L588.6,769.6 L589.2,769.8 L589.8,769.9 L590.4,770.4 L591.0,769.7 L591.6,770.4 L592.2,770.4 L592.8,770.4 L593.4,769.9 L594.0,769.9 L594.6,769.8 L595.2,770.3 L595.8,770.4 L596.4,770.4 L597.0,770.1 L597.6,769.7 L598.2,770.1 L598.8,770.1 L599.4,770.0 L600.0,769.6 L600.6,770.0 L601.2,769.9 L601.8,770.3 L602.4,770.1 L603.0,770.4 L603.6,770.4 L604.2,770.4 L604.8,769.8 L605.4,770.0 L606.0,770.4 L606.6,770.2 L607.2,770.1 L607.8,769.6 L608.4,769.9 L609.0,770.0 L609.6,770.0 L610.2,770.0 L610.8,769.7 L611.4,770.4 L612.0,769.7 L612.6,769.7 L613.2,770.0 L613.8,770.1 L614.4,770.4 L615.0,770.4 L615.6,770.4 L616.2,770.4 L616.8,770.1 L617.4,770.0 L618.0,770.3 L618.6,770.4 L619.2,769.8 L619.8,769.7 L620.4,770.3 L621.0,769.9 L621.6,770.4 L622.2,770.0 L622.8,769.7 L623.4,770.4 L624.0,770.4 L624.6,769.9 L625.2,770.3 L625.8,770.4 L626.4,769.9 L627.0,770.1 L627.6,769.7 L628.2,770.4 L628.8,769.7 L629.4,770.4 L630.0,770.4 L630.6,770.4 L631.2,770.4 L631.8,770.1 L632.4,770.0 L633.0,769.8 L633.6,769.8 L634.2,769.9 L634.8,770.4 L635.4,770.4 L636.0,769.6 L636.6,770.4 L637.2,770.2 L637.8,770.4 L638.4,770.4 L639.0,770.2 L639.6,770.2 L640.2,770.2 L640.8,770.1 L641.4,769.6 L642.0,769.6 L642.6,770.0 L643.2,769.9 L643.8,770.3 L644.4,769.9 L645.0,770.4 L645.6,770.1 L646.2,770.0 L646.8,770.3 L647.4,770.4 L648.0,770.2 L648.6,770.4 L649.2,770.0 L649.8,769.6 L650.4,770.0 L651.0,770.4 L651.6,770.4 L652.2,769.7 L652.8,770.0 L653.4,770.0 L654.0,769.8 L654.6,770.2 L655.2,770.3 L655.8,770.4 L656.4,770.3 L657.0,769.6 L657.6,770.2 L658.2,769.9 L658.8,770.2 L659.4,769.8 L660.0,770.2 L660.6,770.2 L661.2,770.4 L661.8,770.4 L662.4,770.0 L663.0,770.4 L663.6,770.4 L664.2,769.7 L664.8,770.4 L665.4,770.3 L666.0,770.4 L666.6,769.7 L667.2,770.4 L667.8,770.4 L668.4,770.4 L669.0,769.7 L669.6,770.1 L670.2,769.9 L670.8,770.4 L671.4,770.4 L672.0,770.3 L672.6,769.9" fill="none" stroke="#ec1c1c" stroke-width="1.8" stroke-linejoin="round"/>
<path d="M390.0,769.7 L390.6,770.4 L391.2,770.1 L391.8,770.4 L392.4,770.4 L393.0,770.2 L393.6,769.9 L394.2,770.2 L394.8,770.3 L395.4,770.4 L396.0,770.0 L396.6,770.0 L397.2,769.9 L397.8,770.3 L398.4,770.4 L399.0,770.4 L399.6,770.1 L400.2,770.2 L400.8,770.4 L401.4,768.5 L402.0,768.6 L402.6,768.6 L403.2,767.8 L403.8,767.4 L404.4,767.9 L405.0,767.4 L405.6,767.3 L406.2,767.3 L406.8,765.9 L407.4,766.5 L408.0,765.8 L408.6,764.6 L409.2,764.6 L409.8,763.3 L410.4,762.6 L411.0,762.1 L411.6,761.8 L412.2,761.9 L412.8,760.3 L413.4,760.9 L414.0,758.2 L414.6,758.0 L415.2,756.0 L415.8,754.9 L416.4,755.0 L417.0,750.4 L417.6,748.4 L418.2,748.4 L418.8,745.1 L419.4,742.2 L420.0,740.8 L420.6,738.3 L421.2,735.6 L421.8,726.9 L422.4,727.1 L423.0,723.3 L423.6,718.7 L424.2,712.9 L424.8,713.4 L425.4,712.1 L426.0,710.3 L426.6,696.0 L427.2,701.4 L427.8,696.9 L428.4,693.9 L429.0,685.8 L429.6,688.6 L430.2,679.0 L430.8,687.4 L431.4,686.2 L432.0,672.0 L432.6,655.3 L433.2,666.7 L433.8,658.7 L434.4,661.4 L435.0,656.0 L435.6,642.4 L436.2,636.4 L436.8,641.5 L437.4,639.0 L438.0,633.4 L438.6,619.4 L439.2,631.4 L439.8,631.0 L440.4,616.5 L441.0,619.0 L441.6,624.5 L442.2,606.1 L442.8,603.9 L443.4,605.2 L444.0,605.0 L444.6,602.0 L445.2,620.2 L445.8,611.9 L446.4,602.0 L447.0,620.8 L447.6,605.1 L448.2,609.2 L448.8,617.5 L449.4,620.7 L450.0,618.9 L450.6,626.3 L451.2,632.6 L451.8,642.6 L452.4,637.6 L453.0,634.7 L453.6,640.2 L454.2,644.4 L454.8,651.6 L455.4,660.4 L456.0,649.1 L456.6,646.7 L457.2,652.1 L457.8,658.0 L458.4,650.7 L459.0,668.6 L459.6,662.0 L460.2,671.6 L460.8,669.1 L461.4,674.2 L462.0,677.1 L462.6,671.4 L463.2,674.9 L463.8,678.6 L464.4,679.8 L465.0,689.3 L465.6,687.4 L466.2,688.5 L466.8,694.0 L467.4,692.9 L468.0,686.4 L468.6,695.7 L469.2,692.9 L469.8,691.9 L470.4,694.8 L471.0,693.2 L471.6,697.6 L472.2,698.8 L472.8,699.1 L473.4,700.7 L474.0,702.9 L474.6,707.7 L475.2,705.2 L475.8,707.7 L476.4,713.6 L477.0,709.9 L477.6,711.4 L478.2,718.1 L478.8,720.5 L479.4,722.3 L480.0,719.1 L480.6,717.1 L481.2,724.6 L481.8,725.8 L482.4,721.9 L483.0,723.2 L483.6,725.1 L484.2,727.8 L484.8,726.0 L485.4,723.2 L486.0,730.6 L486.6,731.8 L487.2,725.6 L487.8,732.1 L488.4,733.3 L489.0,730.0 L489.6,734.6 L490.2,735.8 L490.8,735.3 L491.4,735.5 L492.0,736.4 L492.6,741.1 L493.2,740.8 L493.8,740.9 L494.4,740.5 L495.0,741.5 L495.6,740.1 L496.2,742.0 L496.8,741.8 L497.4,742.3 L498.0,745.1 L498.6,743.5 L499.2,747.5 L499.8,745.4 L500.4,744.2 L501.0,748.3 L501.6,748.2 L502.2,746.1 L502.8,750.9 L503.4,747.2 L504.0,749.3 L504.6,749.0 L505.2,749.2 L505.8,752.3 L506.4,747.7 L507.0,749.0 L507.6,751.1 L508.2,750.6 L508.8,751.6 L509.4,751.6 L510.0,752.8 L510.6,751.9 L511.2,751.9 L511.8,755.3 L512.4,753.6 L513.0,753.9 L513.6,755.2 L514.2,756.7 L514.8,755.8 L515.4,755.9 L516.0,758.6 L516.6,758.2 L517.2,759.4 L517.8,758.3 L518.4,758.2 L519.0,759.7 L519.6,759.5 L520.2,761.5 L520.8,759.9 L521.4,759.7 L522.0,759.8 L522.6,761.1 L523.2,760.3 L523.8,760.9 L524.4,760.7 L525.0,762.2 L525.6,761.4 L526.2,762.6 L526.8,761.4 L527.4,762.4 L528.0,762.8 L528.6,762.2 L529.2,763.6 L529.8,763.4 L530.4,763.5 L531.0,762.8 L531.6,763.3 L532.2,763.7 L532.8,764.3 L533.4,764.2 L534.0,763.8 L534.6,765.1 L535.2,764.8 L535.8,765.4 L536.4,765.6 L537.0,765.3 L537.6,765.6 L538.2,765.5 L538.8,765.8 L539.4,765.9 L540.0,766.2 L540.6,766.3 L541.2,766.4 L541.8,766.6 L542.4,767.2 L543.0,767.1 L543.6,767.6 L544.2,767.3 L544.8,767.7 L545.4,767.5 L546.0,767.9 L546.6,767.4 L547.2,768.0 L547.8,768.1 L548.4,768.0 L549.0,767.9 L549.6,768.5 L550.2,768.2 L550.8,768.5 L551.4,768.9 L552.0,768.2 L552.6,768.0 L553.2,768.5 L553.8,767.9 L554.4,768.1 L555.0,769.1 L555.6,769.0 L556.2,768.6 L556.8,768.9 L557.4,769.1 L558.0,768.5 L558.6,768.8 L559.2,768.9 L559.8,769.5 L560.4,768.9 L561.0,769.4 L561.6,769.4 L562.2,769.4 L562.8,768.8 L563.4,769.5 L564.0,769.6 L564.6,768.9 L565.2,768.7 L565.8,768.7 L566.4,769.2 L567.0,768.7 L567.6,769.6 L568.2,769.1 L568.8,769.5 L569.4,769.9 L570.0,769.6 L570.6,770.0 L571.2,769.1 L571.8,769.2 L572.4,770.0 L573.0,769.2 L573.6,769.3 L574.2,769.2 L574.8,769.4 L575.4,769.5 L576.0,769.9 L576.6,770.0 L577.2,769.7 L577.8,769.9 L578.4,770.1 L579.0,769.4 L579.6,769.7 L580.2,770.3 L580.8,770.3 L581.4,769.6 L582.0,770.1 L582.6,770.2 L583.2,769.6 L583.8,770.2 L584.4,770.1 L585.0,770.4 L585.6,769.9 L586.2,770.2 L586.8,769.7 L587.4,770.2 L588.0,769.9 L588.6,770.4 L589.2,769.8 L589.8,770.4 L590.4,770.4 L591.0,770.0 L591.6,770.0 L592.2,769.8 L592.8,770.2 L593.4,770.4 L594.0,770.4 L594.6,770.0 L595.2,770.4 L595.8,770.4 L596.4,769.8 L597.0,769.7 L597.6,770.1 L598.2,770.4 L598.8,769.8 L599.4,769.8 L600.0,770.4 L600.6,770.1 L601.2,770.4 L601.8,769.7 L602.4,770.4 L603.0,770.4 L603.6,769.7 L604.2,769.7 L604.8,769.8 L605.4,770.0 L606.0,769.9 L606.6,770.4 L607.2,769.9 L607.8,770.2 L608.4,770.1 L609.0,770.2 L609.6,770.3 L610.2,770.3 L610.8,770.4 L611.4,770.4 L612.0,770.4 L612.6,770.4 L613.2,770.2 L613.8,769.9 L614.4,770.4 L615.0,770.0 L615.6,770.2 L616.2,770.4 L616.8,770.4 L617.4,770.0 L618.0,770.1 L618.6,769.6 L619.2,770.4 L619.8,769.8 L620.4,770.4 L621.0,770.4 L621.6,769.6 L622.2,769.7 L622.8,770.4 L623.4,770.3 L624.0,770.4 L624.6,769.8 L625.2,770.4 L625.8,769.9 L626.4,770.0 L627.0,769.8 L627.6,770.4 L628.2,769.7 L628.8,770.4 L629.4,769.9 L630.0,770.4 L630.6,770.4 L631.2,770.3 L631.8,769.7 L632.4,770.4 L633.0,770.4 L633.6,770.4 L634.2,770.2 L634.8,770.3 L635.4,770.4 L636.0,770.3 L636.6,770.3 L637.2,769.8 L637.8,770.3 L638.4,770.4 L639.0,769.8 L639.6,770.4 L640.2,770.4 L640.8,770.4 L641.4,769.8 L642.0,770.4 L642.6,769.9 L643.2,769.8 L643.8,770.4 L644.4,770.3 L645.0,770.0 L645.6,770.0 L646.2,770.4 L646.8,770.2 L647.4,770.0 L648.0,769.9 L648.6,770.4 L649.2,769.9 L649.8,770.2 L650.4,770.4 L651.0,770.4 L651.6,770.4 L652.2,769.9 L652.8,769.8 L653.4,769.9 L654.0,769.7 L654.6,769.7 L655.2,770.3 L655.8,770.4 L656.4,770.4 L657.0,770.1 L657.6,769.9 L658.2,770.0 L658.8,770.4 L659.4,769.8 L660.0,770.4 L660.6,769.7 L661.2,770.0 L661.8,770.1 L662.4,770.3 L663.0,770.4 L663.6,769.7 L664.2,769.8 L664.8,770.0 L665.4,769.9 L666.0,770.4 L666.6,770.4 L667.2,770.4 L667.8,770.1 L668.4,770.4 L669.0,769.8 L669.6,769.7 L670.2,770.1 L670.8,770.2 L671.4,770.3 L672.0,770.3 L672.6,770.1" fill="none" stroke="#14e014" stroke-width="1.8" stroke-linejoin="round"/>
<line x1="389.0" y1="588.7" x2="673.8" y2="588.7" stroke="#888" stroke-width="1.4"/>
<line x1="389.0" y1="588.7" x2="389.0" y2="770.4" stroke="#555" stroke-width="1.4"/>
<line x1="673.8" y1="588.7" x2="673.8" y2="770.4" stroke="#666" stroke-width="1.5"/>
<line x1="389.0" y1="770.4" x2="673.8" y2="770.4" stroke="#1edc1e" stroke-width="1.2"/>
<line x1="387.0" y1="591.8" x2="389.0" y2="591.8" stroke="#555" stroke-width="1.2"/>
<line x1="387.0" y1="606.6" x2="389.0" y2="606.6" stroke="#555" stroke-width="1.2"/>
<line x1="387.0" y1="621.5" x2="389.0" y2="621.5" stroke="#555" stroke-width="1.2"/>
<line x1="387.0" y1="636.4" x2="389.0" y2="636.4" stroke="#555" stroke-width="1.2"/>
<line x1="387.0" y1="651.2" x2="389.0" y2="651.2" stroke="#555" stroke-width="1.2"/>
<line x1="387.0" y1="666.1" x2="389.0" y2="666.1" stroke="#555" stroke-width="1.2"/>
<line x1="387.0" y1="680.9" x2="389.0" y2="680.9" stroke="#555" stroke-width="1.2"/>
<line x1="387.0" y1="695.8" x2="389.0" y2="695.8" stroke="#555" stroke-width="1.2"/>
<line x1="387.0" y1="710.6" x2="389.0" y2="710.6" stroke="#555" stroke-width="1.2"/>
<line x1="387.0" y1="725.5" x2="389.0" y2="725.5" stroke="#555" stroke-width="1.2"/>
<line x1="387.0" y1="740.3" x2="389.0" y2="740.3" stroke="#555" stroke-width="1.2"/>
<line x1="387.0" y1="755.2" x2="389.0" y2="755.2" stroke="#555" stroke-width="1.2"/>
<line x1="397.7" y1="770.4" x2="397.7" y2="767.4" stroke="#777" stroke-width="1"/>
<line x1="418.0" y1="770.4" x2="418.0" y2="768.6" stroke="#777" stroke-width="1"/>
<line x1="429.9" y1="770.4" x2="429.9" y2="768.6" stroke="#777" stroke-width="1"/>
<line x1="438.3" y1="770.4" x2="438.3" y2="768.6" stroke="#777" stroke-width="1"/>
<line x1="444.8" y1="770.4" x2="444.8" y2="768.6" stroke="#777" stroke-width="1"/>
<line x1="450.1" y1="770.4" x2="450.1" y2="768.6" stroke="#777" stroke-width="1"/>
<line x1="454.7" y1="770.4" x2="454.7" y2="768.6" stroke="#777" stroke-width="1"/>
<line x1="458.6" y1="770.4" x2="458.6" y2="768.6" stroke="#777" stroke-width="1"/>
<line x1="462.0" y1="770.4" x2="462.0" y2="768.6" stroke="#777" stroke-width="1"/>
<line x1="465.1" y1="770.4" x2="465.1" y2="767.4" stroke="#777" stroke-width="1"/>
<line x1="485.2" y1="770.4" x2="485.2" y2="768.6" stroke="#777" stroke-width="1"/>
<line x1="497.0" y1="770.4" x2="497.0" y2="768.6" stroke="#777" stroke-width="1"/>
<line x1="505.4" y1="770.4" x2="505.4" y2="768.6" stroke="#777" stroke-width="1"/>
<line x1="511.9" y1="770.4" x2="511.9" y2="768.6" stroke="#777" stroke-width="1"/>
<line x1="517.2" y1="770.4" x2="517.2" y2="768.6" stroke="#777" stroke-width="1"/>
<line x1="521.6" y1="770.4" x2="521.6" y2="768.6" stroke="#777" stroke-width="1"/>
<line x1="525.5" y1="770.4" x2="525.5" y2="768.6" stroke="#777" stroke-width="1"/>
<line x1="528.9" y1="770.4" x2="528.9" y2="768.6" stroke="#777" stroke-width="1"/>
<line x1="532.0" y1="770.4" x2="532.0" y2="767.4" stroke="#777" stroke-width="1"/>
<line x1="552.2" y1="770.4" x2="552.2" y2="768.6" stroke="#777" stroke-width="1"/>
<line x1="564.1" y1="770.4" x2="564.1" y2="768.6" stroke="#777" stroke-width="1"/>
<line x1="572.5" y1="770.4" x2="572.5" y2="768.6" stroke="#777" stroke-width="1"/>
<line x1="579.0" y1="770.4" x2="579.0" y2="768.6" stroke="#777" stroke-width="1"/>
<line x1="584.3" y1="770.4" x2="584.3" y2="768.6" stroke="#777" stroke-width="1"/>
<line x1="588.8" y1="770.4" x2="588.8" y2="768.6" stroke="#777" stroke-width="1"/>
<line x1="592.7" y1="770.4" x2="592.7" y2="768.6" stroke="#777" stroke-width="1"/>
<line x1="596.1" y1="770.4" x2="596.1" y2="768.6" stroke="#777" stroke-width="1"/>
<line x1="599.2" y1="770.4" x2="599.2" y2="767.4" stroke="#777" stroke-width="1"/>
<line x1="619.7" y1="770.4" x2="619.7" y2="768.6" stroke="#777" stroke-width="1"/>
<line x1="631.6" y1="770.4" x2="631.6" y2="768.6" stroke="#777" stroke-width="1"/>
<line x1="640.1" y1="770.4" x2="640.1" y2="768.6" stroke="#777" stroke-width="1"/>
<line x1="646.7" y1="770.4" x2="646.7" y2="768.6" stroke="#777" stroke-width="1"/>
<line x1="652.1" y1="770.4" x2="652.1" y2="768.6" stroke="#777" stroke-width="1"/>
<line x1="656.7" y1="770.4" x2="656.7" y2="768.6" stroke="#777" stroke-width="1"/>
<line x1="660.6" y1="770.4" x2="660.6" y2="768.6" stroke="#777" stroke-width="1"/>
<line x1="664.1" y1="770.4" x2="664.1" y2="768.6" stroke="#777" stroke-width="1"/>
<text x="456.1" y="788.6" font-size="13.5" fill="#333">10<tspan font-size="8.9" dy="-5.5">0</tspan></text>
<text x="523" y="788.6" font-size="13.5" fill="#333">10<tspan font-size="8.9" dy="-5.5">1</tspan></text>
<text x="590.2" y="788.6" font-size="13.5" fill="#333">10<tspan font-size="8.9" dy="-5.5">2</tspan></text>
<text x="658.2" y="788.6" font-size="13.5" fill="#333">10<tspan font-size="8.9" dy="-5.5">3</tspan></text>
<text x="517.9" y="619.5" font-size="17" font-weight="bold" text-anchor="start" fill="#000" textLength="94.6" lengthAdjust="spacingAndGlyphs">LDL Intake</text>
<path d="M10.099999999999998,618.2 L16.9,606.3000000000001 L23.7,618.2" fill="none" stroke="#000" stroke-width="3.1" stroke-linecap="round" stroke-linejoin="round"/>
<line x1="16.9" y1="605.7" x2="16.9" y2="637.7" stroke="#000" stroke-width="1.6"/>
<text transform="translate(21.099999999999998,678.5) rotate(-90)" font-size="18" font-weight="bold" text-anchor="middle" textLength="48" lengthAdjust="spacingAndGlyphs">Count</text>
<line x1="16.9" y1="716.8" x2="16.9" y2="765.2" stroke="#000" stroke-width="1.6"/>
<line x1="160.3" y1="799.8" x2="276.0" y2="799.8" stroke="#222" stroke-width="1.4"/>
<text x="290.2" y="801.9" font-size="14" font-weight="bold" text-anchor="start" fill="#000" textLength="145.0" lengthAdjust="spacingAndGlyphs">Fluorescence Intensity</text>
<line x1="454.0" y1="798.9" x2="537.0" y2="798.9" stroke="#222" stroke-width="1.4"/>
<path d="M525,792.6 L538.6,798.9 L525,805.4" fill="none" stroke="#000" stroke-width="3.1" stroke-linecap="round" stroke-linejoin="round"/>
<text x="1.6" y="838.2" font-size="33.5" fill="#000" textLength="25.2" lengthAdjust="spacingAndGlyphs">D</text>
<path d="M35.2,1046.8 L35.8,1044.4 L36.4,1039.6 L37.0,1034.4 L37.6,1030.5 L38.2,1025.4 L38.8,1017.0 L39.4,1009.7 L40.0,999.9 L40.6,988.7 L41.2,981.4 L41.8,967.9 L42.4,962.1 L43.0,960.0 L43.6,947.5 L44.2,934.2 L44.8,916.8 L45.4,920.3 L46.0,914.8 L46.6,900.2 L47.2,889.9 L47.8,884.3 L48.4,876.0 L49.0,868.2 L49.6,868.5 L50.2,864.0 L50.8,862.7 L51.4,865.7 L52.0,855.2 L52.6,841.0 L53.2,843.3 L53.8,852.2 L54.4,841.0 L55.0,864.9 L55.6,881.4 L56.2,890.2 L56.8,896.1 L57.4,916.5 L58.0,924.1 L58.6,929.8 L59.2,940.0 L59.8,944.0 L60.4,963.5 L61.0,961.3 L61.6,973.6 L62.2,981.6 L62.8,995.1 L63.4,1005.6 L64.0,1016.6 L64.6,1022.1 L65.2,1030.9 L65.8,1038.8 L66.4,1043.7 L67.0,1049.0 L67.6,1052.8 L68.2,1054.8 L68.8,1057.3 L69.4,1059.3 L70.0,1060.0 L70.6,1060.1 L71.2,1060.5 L71.8,1061.1 L72.4,1060.5 L73.0,1060.8 L73.6,1060.7 L74.2,1061.2 L74.8,1060.8 L75.4,1062.5 L76.0,1062.5 L76.6,1061.8 L77.2,1062.2 L77.8,1061.7 L78.4,1062.3 L79.0,1061.8 L79.6,1062.2 L80.2,1062.4 L80.8,1062.3 L81.4,1062.0 L82.0,1061.8 L82.6,1062.5 L83.2,1062.5 L83.8,1062.3 L84.4,1062.0 L85.0,1062.1 L85.6,1061.7 L86.2,1062.1 L86.8,1062.3 L87.4,1062.4 L88.0,1061.8 L88.6,1062.1 L89.2,1062.5 L89.8,1061.8 L90.4,1062.3 L91.0,1062.0 L91.6,1061.9 L92.2,1061.7 L92.8,1062.5 L93.4,1062.5 L94.0,1061.8 L94.6,1062.5 L95.2,1062.1 L95.8,1062.3 L96.4,1061.8 L97.0,1061.9 L97.6,1061.9 L98.2,1062.3 L98.8,1061.8 L99.4,1061.9 L100.0,1061.9 L100.6,1062.0 L101.2,1062.3 L101.8,1062.5 L102.4,1061.8 L103.0,1061.8 L103.6,1062.3 L104.2,1062.5 L104.8,1061.9 L105.4,1062.5 L106.0,1062.0 L106.6,1061.9 L107.2,1062.5 L107.8,1062.2 L108.4,1062.5 L109.0,1062.5 L109.6,1062.5 L110.2,1062.1 L110.8,1062.1 L111.4,1062.5 L112.0,1061.7 L112.6,1062.0 L113.2,1062.3 L113.8,1061.7 L114.4,1062.0 L115.0,1062.2 L115.6,1062.5 L116.2,1062.3 L116.8,1062.0 L117.4,1062.0 L118.0,1062.5 L118.6,1062.5 L119.2,1061.8 L119.8,1062.5 L120.4,1061.8 L121.0,1062.1 L121.6,1062.5 L122.2,1062.5 L122.8,1062.5 L123.4,1062.4 L124.0,1061.7 L124.6,1062.4 L125.2,1062.5 L125.8,1062.5 L126.4,1062.2 L127.0,1062.4 L127.6,1062.0 L128.2,1062.5 L128.8,1061.7 L129.4,1062.3 L130.0,1062.3 L130.6,1061.7 L131.2,1062.0 L131.8,1062.1 L132.4,1062.5 L133.0,1062.0 L133.6,1061.8 L134.2,1062.5 L134.8,1062.3 L135.4,1062.5 L136.0,1062.5 L136.6,1062.4 L137.2,1061.8 L137.8,1062.4 L138.4,1062.3 L139.0,1062.2 L139.6,1062.2 L140.2,1062.2 L140.8,1062.3 L141.4,1062.2 L142.0,1061.9 L142.6,1062.0 L143.2,1062.2 L143.8,1062.5 L144.4,1062.4 L145.0,1061.9 L145.6,1062.5 L146.2,1062.5 L146.8,1062.5 L147.4,1062.3 L148.0,1062.0 L148.6,1062.2 L149.2,1062.5 L149.8,1061.7 L150.4,1062.4 L151.0,1062.5 L151.6,1062.5 L152.2,1062.2 L152.8,1062.5 L153.4,1061.9 L154.0,1062.5 L154.6,1062.5 L155.2,1062.5 L155.8,1062.2 L156.4,1062.5 L157.0,1062.2 L157.6,1062.5 L158.2,1062.2 L158.8,1062.5 L159.4,1062.5 L160.0,1062.5 L160.6,1062.5 L161.2,1061.9 L161.8,1061.7 L162.4,1062.4 L163.0,1062.1 L163.6,1061.8 L164.2,1061.9 L164.8,1062.3 L165.4,1062.1 L166.0,1062.2 L166.6,1062.1 L167.2,1062.2 L167.8,1062.4 L168.4,1062.1 L169.0,1062.5 L169.6,1062.2 L170.2,1061.8 L170.8,1062.1 L171.4,1062.4 L172.0,1062.2 L172.6,1062.5 L173.2,1062.2 L173.8,1062.5 L174.4,1062.5 L175.0,1062.5 L175.6,1062.5 L176.2,1061.9 L176.8,1061.9 L177.4,1062.0 L178.0,1062.5 L178.6,1062.5 L179.2,1062.2 L179.8,1062.4 L180.4,1062.0 L181.0,1062.0 L181.6,1062.1 L182.2,1062.2 L182.8,1061.9 L183.4,1062.5 L184.0,1062.0 L184.6,1062.2 L185.2,1062.2 L185.8,1062.1 L186.4,1062.2 L187.0,1062.2 L187.6,1061.9 L188.2,1061.7 L188.8,1062.5 L189.4,1062.2 L190.0,1062.4 L190.6,1062.4 L191.2,1062.5 L191.8,1062.1 L192.4,1062.0 L193.0,1062.5 L193.6,1062.3 L194.2,1062.4 L194.8,1062.1 L195.4,1061.9 L196.0,1061.8 L196.6,1062.4 L197.2,1062.0 L197.8,1062.1 L198.4,1062.5 L199.0,1062.1 L199.6,1062.1 L200.2,1062.5 L200.8,1061.8 L201.4,1062.0 L202.0,1062.5 L202.6,1062.4 L203.2,1062.5 L203.8,1062.1 L204.4,1062.1 L205.0,1062.1 L205.6,1062.5 L206.2,1062.1 L206.8,1062.2 L207.4,1061.8 L208.0,1062.3 L208.6,1062.3 L209.2,1062.4 L209.8,1062.5 L210.4,1062.3 L211.0,1061.8 L211.6,1062.1 L212.2,1061.8 L212.8,1062.5 L213.4,1061.8 L214.0,1062.5 L214.6,1062.5 L215.2,1062.4 L215.8,1061.9 L216.4,1062.5 L217.0,1062.0 L217.6,1062.5 L218.2,1062.5 L218.8,1061.9 L219.4,1061.9 L220.0,1062.5 L220.6,1061.9 L221.2,1062.0 L221.8,1062.2 L222.4,1061.7 L223.0,1062.5 L223.6,1062.5 L224.2,1061.9 L224.8,1062.3 L225.4,1062.5 L226.0,1061.7 L226.6,1061.7 L227.2,1062.1 L227.8,1061.8 L228.4,1062.1 L229.0,1062.0 L229.6,1061.9 L230.2,1061.9 L230.8,1061.8 L231.4,1061.7 L232.0,1062.3 L232.6,1062.4 L233.2,1062.2 L233.8,1062.2 L234.4,1061.8 L235.0,1062.3 L235.6,1061.7 L236.2,1062.0 L236.8,1062.0 L237.4,1062.3 L238.0,1061.7 L238.6,1062.4 L239.2,1062.2 L239.8,1062.5 L240.4,1062.4 L241.0,1062.5 L241.6,1061.8 L242.2,1061.8 L242.8,1062.3 L243.4,1062.5 L244.0,1061.9" fill="none" stroke="#aaaaaa" stroke-width="1.8" stroke-linejoin="round"/>
<path d="M35.2,1062.5 L35.8,1061.8 L36.4,1062.5 L37.0,1062.2 L37.6,1061.8 L38.2,1061.8 L38.8,1062.0 L39.4,1062.5 L40.0,1061.9 L40.6,1061.9 L41.2,1062.5 L41.8,1062.5 L42.4,1062.5 L43.0,1062.5 L43.6,1062.4 L44.2,1062.5 L44.8,1062.5 L45.4,1061.9 L46.0,1062.2 L46.6,1062.0 L47.2,1062.4 L47.8,1062.5 L48.4,1062.3 L49.0,1062.5 L49.6,1062.3 L50.2,1062.0 L50.8,1062.1 L51.4,1061.2 L52.0,1061.0 L52.6,1061.0 L53.2,1059.9 L53.8,1059.5 L54.4,1059.4 L55.0,1059.1 L55.6,1059.2 L56.2,1058.5 L56.8,1057.4 L57.4,1057.3 L58.0,1056.6 L58.6,1056.5 L59.2,1055.7 L59.8,1054.0 L60.4,1053.9 L61.0,1053.5 L61.6,1051.9 L62.2,1051.6 L62.8,1049.4 L63.4,1048.0 L64.0,1047.3 L64.6,1045.6 L65.2,1042.8 L65.8,1041.0 L66.4,1039.1 L67.0,1034.0 L67.6,1033.3 L68.2,1030.9 L68.8,1025.4 L69.4,1023.4 L70.0,1020.1 L70.6,1017.3 L71.2,1010.1 L71.8,1009.7 L72.4,1003.4 L73.0,998.9 L73.6,994.0 L74.2,990.2 L74.8,988.9 L75.4,983.3 L76.0,979.0 L76.6,970.4 L77.2,965.7 L77.8,957.2 L78.4,956.4 L79.0,944.6 L79.6,927.7 L80.2,928.1 L80.8,919.2 L81.4,911.2 L82.0,900.2 L82.6,893.2 L83.2,887.0 L83.8,897.2 L84.4,884.9 L85.0,870.3 L85.6,861.0 L86.2,861.0 L86.8,861.0 L87.4,861.0 L88.0,869.8 L88.6,876.2 L89.2,873.6 L89.8,863.7 L90.4,863.4 L91.0,879.0 L91.6,869.6 L92.2,881.9 L92.8,885.7 L93.4,897.9 L94.0,902.5 L94.6,911.8 L95.2,923.2 L95.8,936.1 L96.4,942.8 L97.0,948.5 L97.6,956.1 L98.2,962.6 L98.8,974.6 L99.4,983.2 L100.0,989.5 L100.6,997.8 L101.2,1002.5 L101.8,1010.5 L102.4,1015.2 L103.0,1025.1 L103.6,1030.1 L104.2,1034.6 L104.8,1037.9 L105.4,1041.5 L106.0,1045.2 L106.6,1045.2 L107.2,1048.0 L107.8,1049.5 L108.4,1051.6 L109.0,1051.5 L109.6,1053.5 L110.2,1054.9 L110.8,1055.1 L111.4,1055.8 L112.0,1055.8 L112.6,1056.8 L113.2,1057.4 L113.8,1057.3 L114.4,1058.2 L115.0,1057.9 L115.6,1058.6 L116.2,1058.6 L116.8,1058.8 L117.4,1059.1 L118.0,1059.8 L118.6,1060.0 L119.2,1059.5 L119.8,1060.0 L120.4,1060.5 L121.0,1060.5 L121.6,1060.4 L122.2,1060.0 L122.8,1060.1 L123.4,1060.9 L124.0,1060.8 L124.6,1060.9 L125.2,1060.6 L125.8,1061.5 L126.4,1061.5 L127.0,1061.3 L127.6,1061.7 L128.2,1060.7 L128.8,1061.2 L129.4,1061.2 L130.0,1061.3 L130.6,1062.5 L131.2,1061.9 L131.8,1062.5 L132.4,1062.3 L133.0,1062.5 L133.6,1062.5 L134.2,1062.0 L134.8,1062.5 L135.4,1062.1 L136.0,1062.0 L136.6,1061.7 L137.2,1062.1 L137.8,1062.2 L138.4,1062.5 L139.0,1062.5 L139.6,1061.7 L140.2,1062.2 L140.8,1062.5 L141.4,1062.3 L142.0,1062.0 L142.6,1062.5 L143.2,1062.2 L143.8,1061.8 L144.4,1062.4 L145.0,1062.0 L145.6,1061.9 L146.2,1062.1 L146.8,1062.5 L147.4,1062.4 L148.0,1061.8 L148.6,1062.5 L149.2,1061.9 L149.8,1062.5 L150.4,1062.1 L151.0,1061.7 L151.6,1062.2 L152.2,1061.9 L152.8,1062.3 L153.4,1062.5 L154.0,1062.1 L154.6,1062.5 L155.2,1062.1 L155.8,1062.0 L156.4,1061.9 L157.0,1062.0 L157.6,1062.5 L158.2,1062.5 L158.8,1062.5 L159.4,1062.3 L160.0,1062.0 L160.6,1062.1 L161.2,1061.7 L161.8,1062.5 L162.4,1061.9 L163.0,1062.0 L163.6,1062.5 L164.2,1062.1 L164.8,1062.5 L165.4,1061.7 L166.0,1062.5 L166.6,1062.5 L167.2,1062.0 L167.8,1061.9 L168.4,1062.4 L169.0,1062.1 L169.6,1062.1 L170.2,1062.5 L170.8,1062.5 L171.4,1062.3 L172.0,1061.8 L172.6,1062.5 L173.2,1062.5 L173.8,1062.5 L174.4,1062.0 L175.0,1062.0 L175.6,1061.8 L176.2,1062.5 L176.8,1061.8 L177.4,1062.5 L178.0,1062.0 L178.6,1062.5 L179.2,1062.3 L179.8,1062.2 L180.4,1062.2 L181.0,1062.2 L181.6,1062.0 L182.2,1062.3 L182.8,1062.0 L183.4,1062.5 L184.0,1061.9 L184.6,1062.5 L185.2,1062.5 L185.8,1062.5 L186.4,1062.5 L187.0,1062.5 L187.6,1062.4 L188.2,1062.3 L188.8,1062.2 L189.4,1062.2 L190.0,1062.2 L190.6,1062.4 L191.2,1062.5 L191.8,1062.4 L192.4,1061.7 L193.0,1062.1 L193.6,1062.5 L194.2,1061.8 L194.8,1062.2 L195.4,1062.0 L196.0,1061.7 L196.6,1062.1 L197.2,1062.5 L197.8,1062.5 L198.4,1062.5 L199.0,1062.5 L199.6,1061.9 L200.2,1062.3 L200.8,1062.2 L201.4,1062.5 L202.0,1061.9 L202.6,1061.7 L203.2,1062.0 L203.8,1062.5 L204.4,1062.0 L205.0,1062.5 L205.6,1062.3 L206.2,1062.5 L206.8,1062.3 L207.4,1062.0 L208.0,1062.5 L208.6,1062.2 L209.2,1062.5 L209.8,1062.5 L210.4,1062.4 L211.0,1062.5 L211.6,1062.2 L212.2,1062.5 L212.8,1062.4 L213.4,1062.5 L214.0,1062.5 L214.6,1062.4 L215.2,1062.5 L215.8,1062.0 L216.4,1062.5 L217.0,1062.2 L217.6,1061.8 L218.2,1062.5 L218.8,1062.2 L219.4,1062.2 L220.0,1061.7 L220.6,1062.5 L221.2,1062.4 L221.8,1062.5 L222.4,1062.5 L223.0,1061.9 L223.6,1062.3 L224.2,1061.9 L224.8,1061.9 L225.4,1062.5 L226.0,1062.4 L226.6,1062.0 L227.2,1062.1 L227.8,1062.5 L228.4,1061.7 L229.0,1062.5 L229.6,1062.3 L230.2,1062.5 L230.8,1061.9 L231.4,1062.4 L232.0,1062.0 L232.6,1061.9 L233.2,1062.5 L233.8,1061.9 L234.4,1062.5 L235.0,1062.3 L235.6,1062.0 L236.2,1062.5 L236.8,1061.9 L237.4,1062.5 L238.0,1061.9 L238.6,1062.5 L239.2,1062.5 L239.8,1062.2 L240.4,1062.3 L241.0,1062.0 L241.6,1062.0 L242.2,1062.1 L242.8,1062.3 L243.4,1061.9 L244.0,1062.5 L244.0,1062.5 L35.2,1062.5 Z" fill="rgba(225,225,205,0.12)" stroke="none"/>
<path d="M35.2,1062.5 L35.8,1061.8 L36.4,1062.5 L37.0,1062.2 L37.6,1061.8 L38.2,1061.8 L38.8,1062.0 L39.4,1062.5 L40.0,1061.9 L40.6,1061.9 L41.2,1062.5 L41.8,1062.5 L42.4,1062.5 L43.0,1062.5 L43.6,1062.4 L44.2,1062.5 L44.8,1062.5 L45.4,1061.9 L46.0,1062.2 L46.6,1062.0 L47.2,1062.4 L47.8,1062.5 L48.4,1062.3 L49.0,1062.5 L49.6,1062.3 L50.2,1062.0 L50.8,1062.1 L51.4,1061.2 L52.0,1061.0 L52.6,1061.0 L53.2,1059.9 L53.8,1059.5 L54.4,1059.4 L55.0,1059.1 L55.6,1059.2 L56.2,1058.5 L56.8,1057.4 L57.4,1057.3 L58.0,1056.6 L58.6,1056.5 L59.2,1055.7 L59.8,1054.0 L60.4,1053.9 L61.0,1053.5 L61.6,1051.9 L62.2,1051.6 L62.8,1049.4 L63.4,1048.0 L64.0,1047.3 L64.6,1045.6 L65.2,1042.8 L65.8,1041.0 L66.4,1039.1 L67.0,1034.0 L67.6,1033.3 L68.2,1030.9 L68.8,1025.4 L69.4,1023.4 L70.0,1020.1 L70.6,1017.3 L71.2,1010.1 L71.8,1009.7 L72.4,1003.4 L73.0,998.9 L73.6,994.0 L74.2,990.2 L74.8,988.9 L75.4,983.3 L76.0,979.0 L76.6,970.4 L77.2,965.7 L77.8,957.2 L78.4,956.4 L79.0,944.6 L79.6,927.7 L80.2,928.1 L80.8,919.2 L81.4,911.2 L82.0,900.2 L82.6,893.2 L83.2,887.0 L83.8,897.2 L84.4,884.9 L85.0,870.3 L85.6,861.0 L86.2,861.0 L86.8,861.0 L87.4,861.0 L88.0,869.8 L88.6,876.2 L89.2,873.6 L89.8,863.7 L90.4,863.4 L91.0,879.0 L91.6,869.6 L92.2,881.9 L92.8,885.7 L93.4,897.9 L94.0,902.5 L94.6,911.8 L95.2,923.2 L95.8,936.1 L96.4,942.8 L97.0,948.5 L97.6,956.1 L98.2,962.6 L98.8,974.6 L99.4,983.2 L100.0,989.5 L100.6,997.8 L101.2,1002.5 L101.8,1010.5 L102.4,1015.2 L103.0,1025.1 L103.6,1030.1 L104.2,1034.6 L104.8,1037.9 L105.4,1041.5 L106.0,1045.2 L106.6,1045.2 L107.2,1048.0 L107.8,1049.5 L108.4,1051.6 L109.0,1051.5 L109.6,1053.5 L110.2,1054.9 L110.8,1055.1 L111.4,1055.8 L112.0,1055.8 L112.6,1056.8 L113.2,1057.4 L113.8,1057.3 L114.4,1058.2 L115.0,1057.9 L115.6,1058.6 L116.2,1058.6 L116.8,1058.8 L117.4,1059.1 L118.0,1059.8 L118.6,1060.0 L119.2,1059.5 L119.8,1060.0 L120.4,1060.5 L121.0,1060.5 L121.6,1060.4 L122.2,1060.0 L122.8,1060.1 L123.4,1060.9 L124.0,1060.8 L124.6,1060.9 L125.2,1060.6 L125.8,1061.5 L126.4,1061.5 L127.0,1061.3 L127.6,1061.7 L128.2,1060.7 L128.8,1061.2 L129.4,1061.2 L130.0,1061.3 L130.6,1062.5 L131.2,1061.9 L131.8,1062.5 L132.4,1062.3 L133.0,1062.5 L133.6,1062.5 L134.2,1062.0 L134.8,1062.5 L135.4,1062.1 L136.0,1062.0 L136.6,1061.7 L137.2,1062.1 L137.8,1062.2 L138.4,1062.5 L139.0,1062.5 L139.6,1061.7 L140.2,1062.2 L140.8,1062.5 L141.4,1062.3 L142.0,1062.0 L142.6,1062.5 L143.2,1062.2 L143.8,1061.8 L144.4,1062.4 L145.0,1062.0 L145.6,1061.9 L146.2,1062.1 L146.8,1062.5 L147.4,1062.4 L148.0,1061.8 L148.6,1062.5 L149.2,1061.9 L149.8,1062.5 L150.4,1062.1 L151.0,1061.7 L151.6,1062.2 L152.2,1061.9 L152.8,1062.3 L153.4,1062.5 L154.0,1062.1 L154.6,1062.5 L155.2,1062.1 L155.8,1062.0 L156.4,1061.9 L157.0,1062.0 L157.6,1062.5 L158.2,1062.5 L158.8,1062.5 L159.4,1062.3 L160.0,1062.0 L160.6,1062.1 L161.2,1061.7 L161.8,1062.5 L162.4,1061.9 L163.0,1062.0 L163.6,1062.5 L164.2,1062.1 L164.8,1062.5 L165.4,1061.7 L166.0,1062.5 L166.6,1062.5 L167.2,1062.0 L167.8,1061.9 L168.4,1062.4 L169.0,1062.1 L169.6,1062.1 L170.2,1062.5 L170.8,1062.5 L171.4,1062.3 L172.0,1061.8 L172.6,1062.5 L173.2,1062.5 L173.8,1062.5 L174.4,1062.0 L175.0,1062.0 L175.6,1061.8 L176.2,1062.5 L176.8,1061.8 L177.4,1062.5 L178.0,1062.0 L178.6,1062.5 L179.2,1062.3 L179.8,1062.2 L180.4,1062.2 L181.0,1062.2 L181.6,1062.0 L182.2,1062.3 L182.8,1062.0 L183.4,1062.5 L184.0,1061.9 L184.6,1062.5 L185.2,1062.5 L185.8,1062.5 L186.4,1062.5 L187.0,1062.5 L187.6,1062.4 L188.2,1062.3 L188.8,1062.2 L189.4,1062.2 L190.0,1062.2 L190.6,1062.4 L191.2,1062.5 L191.8,1062.4 L192.4,1061.7 L193.0,1062.1 L193.6,1062.5 L194.2,1061.8 L194.8,1062.2 L195.4,1062.0 L196.0,1061.7 L196.6,1062.1 L197.2,1062.5 L197.8,1062.5 L198.4,1062.5 L199.0,1062.5 L199.6,1061.9 L200.2,1062.3 L200.8,1062.2 L201.4,1062.5 L202.0,1061.9 L202.6,1061.7 L203.2,1062.0 L203.8,1062.5 L204.4,1062.0 L205.0,1062.5 L205.6,1062.3 L206.2,1062.5 L206.8,1062.3 L207.4,1062.0 L208.0,1062.5 L208.6,1062.2 L209.2,1062.5 L209.8,1062.5 L210.4,1062.4 L211.0,1062.5 L211.6,1062.2 L212.2,1062.5 L212.8,1062.4 L213.4,1062.5 L214.0,1062.5 L214.6,1062.4 L215.2,1062.5 L215.8,1062.0 L216.4,1062.5 L217.0,1062.2 L217.6,1061.8 L218.2,1062.5 L218.8,1062.2 L219.4,1062.2 L220.0,1061.7 L220.6,1062.5 L221.2,1062.4 L221.8,1062.5 L222.4,1062.5 L223.0,1061.9 L223.6,1062.3 L224.2,1061.9 L224.8,1061.9 L225.4,1062.5 L226.0,1062.4 L226.6,1062.0 L227.2,1062.1 L227.8,1062.5 L228.4,1061.7 L229.0,1062.5 L229.6,1062.3 L230.2,1062.5 L230.8,1061.9 L231.4,1062.4 L232.0,1062.0 L232.6,1061.9 L233.2,1062.5 L233.8,1061.9 L234.4,1062.5 L235.0,1062.3 L235.6,1062.0 L236.2,1062.5 L236.8,1061.9 L237.4,1062.5 L238.0,1061.9 L238.6,1062.5 L239.2,1062.5 L239.8,1062.2 L240.4,1062.3 L241.0,1062.0 L241.6,1062.0 L242.2,1062.1 L242.8,1062.3 L243.4,1061.9 L244.0,1062.5" fill="none" stroke="#14e014" stroke-width="1.8" stroke-linejoin="round"/>
<path d="M35.2,1061.9 L35.8,1062.5 L36.4,1061.8 L37.0,1062.5 L37.6,1062.2 L38.2,1061.7 L38.8,1061.8 L39.4,1062.1 L40.0,1062.3 L40.6,1062.5 L41.2,1062.3 L41.8,1061.9 L42.4,1062.1 L43.0,1062.5 L43.6,1062.5 L44.2,1062.5 L44.8,1062.5 L45.4,1062.4 L46.0,1062.5 L46.6,1062.2 L47.2,1062.5 L47.8,1062.5 L48.4,1062.0 L49.0,1062.2 L49.6,1062.5 L50.2,1062.5 L50.8,1062.5 L51.4,1062.5 L52.0,1062.3 L52.6,1062.4 L53.2,1062.5 L53.8,1062.5 L54.4,1061.9 L55.0,1062.5 L55.6,1062.2 L56.2,1062.3 L56.8,1062.0 L57.4,1062.5 L58.0,1062.5 L58.6,1062.5 L59.2,1062.3 L59.8,1062.3 L60.4,1061.8 L61.0,1061.7 L61.6,1062.4 L62.2,1061.9 L62.8,1062.5 L63.4,1062.0 L64.0,1062.1 L64.6,1062.0 L65.2,1062.3 L65.8,1061.9 L66.4,1062.0 L67.0,1062.2 L67.6,1062.1 L68.2,1062.0 L68.8,1062.5 L69.4,1062.2 L70.0,1062.5 L70.6,1061.8 L71.2,1062.0 L71.8,1062.2 L72.4,1061.2 L73.0,1060.2 L73.6,1060.2 L74.2,1060.6 L74.8,1059.6 L75.4,1059.2 L76.0,1059.2 L76.6,1058.2 L77.2,1057.5 L77.8,1057.4 L78.4,1057.4 L79.0,1055.8 L79.6,1056.0 L80.2,1055.1 L80.8,1054.3 L81.4,1053.4 L82.0,1052.6 L82.6,1051.3 L83.2,1049.7 L83.8,1048.5 L84.4,1047.3 L85.0,1045.9 L85.6,1044.1 L86.2,1041.9 L86.8,1039.6 L87.4,1038.2 L88.0,1034.4 L88.6,1032.8 L89.2,1028.0 L89.8,1022.2 L90.4,1019.1 L91.0,1014.9 L91.6,1009.7 L92.2,1005.9 L92.8,999.6 L93.4,994.8 L94.0,983.1 L94.6,977.4 L95.2,970.5 L95.8,962.8 L96.4,962.4 L97.0,949.8 L97.6,935.0 L98.2,934.2 L98.8,921.5 L99.4,917.2 L100.0,909.9 L100.6,896.2 L101.2,890.5 L101.8,889.1 L102.4,878.3 L103.0,870.0 L103.6,868.7 L104.2,872.0 L104.8,869.6 L105.4,865.0 L106.0,869.2 L106.6,870.4 L107.2,865.0 L107.8,870.7 L108.4,882.9 L109.0,879.3 L109.6,879.3 L110.2,889.9 L110.8,892.9 L111.4,900.7 L112.0,908.3 L112.6,915.1 L113.2,926.4 L113.8,927.7 L114.4,942.4 L115.0,950.1 L115.6,955.1 L116.2,962.5 L116.8,979.4 L117.4,986.4 L118.0,995.2 L118.6,997.6 L119.2,1005.0 L119.8,1006.9 L120.4,1012.0 L121.0,1015.8 L121.6,1015.7 L122.2,1021.5 L122.8,1021.7 L123.4,1028.5 L124.0,1031.7 L124.6,1034.5 L125.2,1036.8 L125.8,1040.2 L126.4,1043.1 L127.0,1046.0 L127.6,1048.2 L128.2,1051.0 L128.8,1051.6 L129.4,1052.0 L130.0,1053.7 L130.6,1053.7 L131.2,1055.9 L131.8,1056.2 L132.4,1057.0 L133.0,1057.1 L133.6,1057.8 L134.2,1058.3 L134.8,1058.4 L135.4,1058.3 L136.0,1058.7 L136.6,1058.7 L137.2,1058.9 L137.8,1059.1 L138.4,1059.4 L139.0,1059.2 L139.6,1060.4 L140.2,1060.3 L140.8,1060.5 L141.4,1060.3 L142.0,1060.7 L142.6,1060.8 L143.2,1060.3 L143.8,1060.4 L144.4,1060.8 L145.0,1060.8 L145.6,1062.2 L146.2,1062.0 L146.8,1062.2 L147.4,1062.2 L148.0,1062.5 L148.6,1061.9 L149.2,1061.7 L149.8,1062.5 L150.4,1062.1 L151.0,1062.4 L151.6,1061.8 L152.2,1061.9 L152.8,1061.7 L153.4,1061.8 L154.0,1062.4 L154.6,1062.4 L155.2,1062.2 L155.8,1062.5 L156.4,1061.8 L157.0,1062.4 L157.6,1061.7 L158.2,1062.4 L158.8,1061.8 L159.4,1062.0 L160.0,1062.5 L160.6,1062.0 L161.2,1061.9 L161.8,1062.4 L162.4,1062.5 L163.0,1061.8 L163.6,1062.5 L164.2,1062.0 L164.8,1062.0 L165.4,1062.5 L166.0,1062.0 L166.6,1062.5 L167.2,1061.9 L167.8,1062.0 L168.4,1062.0 L169.0,1062.1 L169.6,1062.2 L170.2,1062.5 L170.8,1061.7 L171.4,1061.9 L172.0,1061.7 L172.6,1062.0 L173.2,1062.1 L173.8,1062.5 L174.4,1062.2 L175.0,1061.8 L175.6,1062.2 L176.2,1062.4 L176.8,1062.1 L177.4,1062.5 L178.0,1062.5 L178.6,1062.3 L179.2,1061.9 L179.8,1062.5 L180.4,1061.8 L181.0,1062.4 L181.6,1062.4 L182.2,1062.3 L182.8,1061.9 L183.4,1062.4 L184.0,1062.4 L184.6,1062.1 L185.2,1061.8 L185.8,1062.5 L186.4,1062.2 L187.0,1061.7 L187.6,1061.7 L188.2,1062.3 L188.8,1062.5 L189.4,1061.9 L190.0,1062.1 L190.6,1062.5 L191.2,1062.5 L191.8,1062.5 L192.4,1061.8 L193.0,1062.5 L193.6,1062.5 L194.2,1062.0 L194.8,1062.0 L195.4,1062.5 L196.0,1062.5 L196.6,1062.0 L197.2,1061.8 L197.8,1062.5 L198.4,1062.3 L199.0,1061.8 L199.6,1062.0 L200.2,1062.0 L200.8,1061.9 L201.4,1062.5 L202.0,1062.5 L202.6,1062.4 L203.2,1061.9 L203.8,1062.5 L204.4,1062.2 L205.0,1062.5 L205.6,1062.5 L206.2,1062.1 L206.8,1062.5 L207.4,1062.4 L208.0,1061.9 L208.6,1062.5 L209.2,1062.5 L209.8,1062.5 L210.4,1062.5 L211.0,1062.2 L211.6,1061.8 L212.2,1062.5 L212.8,1061.8 L213.4,1062.3 L214.0,1061.9 L214.6,1061.9 L215.2,1062.1 L215.8,1062.0 L216.4,1062.5 L217.0,1062.2 L217.6,1062.5 L218.2,1062.5 L218.8,1062.5 L219.4,1061.9 L220.0,1062.5 L220.6,1062.5 L221.2,1062.5 L221.8,1062.4 L222.4,1062.0 L223.0,1062.0 L223.6,1062.5 L224.2,1061.7 L224.8,1062.4 L225.4,1062.3 L226.0,1062.5 L226.6,1062.5 L227.2,1061.8 L227.8,1061.9 L228.4,1061.7 L229.0,1061.9 L229.6,1062.5 L230.2,1062.2 L230.8,1061.9 L231.4,1062.3 L232.0,1061.9 L232.6,1061.8 L233.2,1062.1 L233.8,1062.4 L234.4,1062.4 L235.0,1062.2 L235.6,1062.2 L236.2,1062.5 L236.8,1062.3 L237.4,1062.5 L238.0,1061.9 L238.6,1062.2 L239.2,1062.1 L239.8,1061.8 L240.4,1061.8 L241.0,1062.3 L241.6,1062.3 L242.2,1062.5 L242.8,1062.5 L243.4,1061.8 L244.0,1062.5 L244.0,1062.5 L35.2,1062.5 Z" fill="rgba(240,215,210,0.22)" stroke="none"/>
<path d="M35.2,1061.9 L35.8,1062.5 L36.4,1061.8 L37.0,1062.5 L37.6,1062.2 L38.2,1061.7 L38.8,1061.8 L39.4,1062.1 L40.0,1062.3 L40.6,1062.5 L41.2,1062.3 L41.8,1061.9 L42.4,1062.1 L43.0,1062.5 L43.6,1062.5 L44.2,1062.5 L44.8,1062.5 L45.4,1062.4 L46.0,1062.5 L46.6,1062.2 L47.2,1062.5 L47.8,1062.5 L48.4,1062.0 L49.0,1062.2 L49.6,1062.5 L50.2,1062.5 L50.8,1062.5 L51.4,1062.5 L52.0,1062.3 L52.6,1062.4 L53.2,1062.5 L53.8,1062.5 L54.4,1061.9 L55.0,1062.5 L55.6,1062.2 L56.2,1062.3 L56.8,1062.0 L57.4,1062.5 L58.0,1062.5 L58.6,1062.5 L59.2,1062.3 L59.8,1062.3 L60.4,1061.8 L61.0,1061.7 L61.6,1062.4 L62.2,1061.9 L62.8,1062.5 L63.4,1062.0 L64.0,1062.1 L64.6,1062.0 L65.2,1062.3 L65.8,1061.9 L66.4,1062.0 L67.0,1062.2 L67.6,1062.1 L68.2,1062.0 L68.8,1062.5 L69.4,1062.2 L70.0,1062.5 L70.6,1061.8 L71.2,1062.0 L71.8,1062.2 L72.4,1061.2 L73.0,1060.2 L73.6,1060.2 L74.2,1060.6 L74.8,1059.6 L75.4,1059.2 L76.0,1059.2 L76.6,1058.2 L77.2,1057.5 L77.8,1057.4 L78.4,1057.4 L79.0,1055.8 L79.6,1056.0 L80.2,1055.1 L80.8,1054.3 L81.4,1053.4 L82.0,1052.6 L82.6,1051.3 L83.2,1049.7 L83.8,1048.5 L84.4,1047.3 L85.0,1045.9 L85.6,1044.1 L86.2,1041.9 L86.8,1039.6 L87.4,1038.2 L88.0,1034.4 L88.6,1032.8 L89.2,1028.0 L89.8,1022.2 L90.4,1019.1 L91.0,1014.9 L91.6,1009.7 L92.2,1005.9 L92.8,999.6 L93.4,994.8 L94.0,983.1 L94.6,977.4 L95.2,970.5 L95.8,962.8 L96.4,962.4 L97.0,949.8 L97.6,935.0 L98.2,934.2 L98.8,921.5 L99.4,917.2 L100.0,909.9 L100.6,896.2 L101.2,890.5 L101.8,889.1 L102.4,878.3 L103.0,870.0 L103.6,868.7 L104.2,872.0 L104.8,869.6 L105.4,865.0 L106.0,869.2 L106.6,870.4 L107.2,865.0 L107.8,870.7 L108.4,882.9 L109.0,879.3 L109.6,879.3 L110.2,889.9 L110.8,892.9 L111.4,900.7 L112.0,908.3 L112.6,915.1 L113.2,926.4 L113.8,927.7 L114.4,942.4 L115.0,950.1 L115.6,955.1 L116.2,962.5 L116.8,979.4 L117.4,986.4 L118.0,995.2 L118.6,997.6 L119.2,1005.0 L119.8,1006.9 L120.4,1012.0 L121.0,1015.8 L121.6,1015.7 L122.2,1021.5 L122.8,1021.7 L123.4,1028.5 L124.0,1031.7 L124.6,1034.5 L125.2,1036.8 L125.8,1040.2 L126.4,1043.1 L127.0,1046.0 L127.6,1048.2 L128.2,1051.0 L128.8,1051.6 L129.4,1052.0 L130.0,1053.7 L130.6,1053.7 L131.2,1055.9 L131.8,1056.2 L132.4,1057.0 L133.0,1057.1 L133.6,1057.8 L134.2,1058.3 L134.8,1058.4 L135.4,1058.3 L136.0,1058.7 L136.6,1058.7 L137.2,1058.9 L137.8,1059.1 L138.4,1059.4 L139.0,1059.2 L139.6,1060.4 L140.2,1060.3 L140.8,1060.5 L141.4,1060.3 L142.0,1060.7 L142.6,1060.8 L143.2,1060.3 L143.8,1060.4 L144.4,1060.8 L145.0,1060.8 L145.6,1062.2 L146.2,1062.0 L146.8,1062.2 L147.4,1062.2 L148.0,1062.5 L148.6,1061.9 L149.2,1061.7 L149.8,1062.5 L150.4,1062.1 L151.0,1062.4 L151.6,1061.8 L152.2,1061.9 L152.8,1061.7 L153.4,1061.8 L154.0,1062.4 L154.6,1062.4 L155.2,1062.2 L155.8,1062.5 L156.4,1061.8 L157.0,1062.4 L157.6,1061.7 L158.2,1062.4 L158.8,1061.8 L159.4,1062.0 L160.0,1062.5 L160.6,1062.0 L161.2,1061.9 L161.8,1062.4 L162.4,1062.5 L163.0,1061.8 L163.6,1062.5 L164.2,1062.0 L164.8,1062.0 L165.4,1062.5 L166.0,1062.0 L166.6,1062.5 L167.2,1061.9 L167.8,1062.0 L168.4,1062.0 L169.0,1062.1 L169.6,1062.2 L170.2,1062.5 L170.8,1061.7 L171.4,1061.9 L172.0,1061.7 L172.6,1062.0 L173.2,1062.1 L173.8,1062.5 L174.4,1062.2 L175.0,1061.8 L175.6,1062.2 L176.2,1062.4 L176.8,1062.1 L177.4,1062.5 L178.0,1062.5 L178.6,1062.3 L179.2,1061.9 L179.8,1062.5 L180.4,1061.8 L181.0,1062.4 L181.6,1062.4 L182.2,1062.3 L182.8,1061.9 L183.4,1062.4 L184.0,1062.4 L184.6,1062.1 L185.2,1061.8 L185.8,1062.5 L186.4,1062.2 L187.0,1061.7 L187.6,1061.7 L188.2,1062.3 L188.8,1062.5 L189.4,1061.9 L190.0,1062.1 L190.6,1062.5 L191.2,1062.5 L191.8,1062.5 L192.4,1061.8 L193.0,1062.5 L193.6,1062.5 L194.2,1062.0 L194.8,1062.0 L195.4,1062.5 L196.0,1062.5 L196.6,1062.0 L197.2,1061.8 L197.8,1062.5 L198.4,1062.3 L199.0,1061.8 L199.6,1062.0 L200.2,1062.0 L200.8,1061.9 L201.4,1062.5 L202.0,1062.5 L202.6,1062.4 L203.2,1061.9 L203.8,1062.5 L204.4,1062.2 L205.0,1062.5 L205.6,1062.5 L206.2,1062.1 L206.8,1062.5 L207.4,1062.4 L208.0,1061.9 L208.6,1062.5 L209.2,1062.5 L209.8,1062.5 L210.4,1062.5 L211.0,1062.2 L211.6,1061.8 L212.2,1062.5 L212.8,1061.8 L213.4,1062.3 L214.0,1061.9 L214.6,1061.9 L215.2,1062.1 L215.8,1062.0 L216.4,1062.5 L217.0,1062.2 L217.6,1062.5 L218.2,1062.5 L218.8,1062.5 L219.4,1061.9 L220.0,1062.5 L220.6,1062.5 L221.2,1062.5 L221.8,1062.4 L222.4,1062.0 L223.0,1062.0 L223.6,1062.5 L224.2,1061.7 L224.8,1062.4 L225.4,1062.3 L226.0,1062.5 L226.6,1062.5 L227.2,1061.8 L227.8,1061.9 L228.4,1061.7 L229.0,1061.9 L229.6,1062.5 L230.2,1062.2 L230.8,1061.9 L231.4,1062.3 L232.0,1061.9 L232.6,1061.8 L233.2,1062.1 L233.8,1062.4 L234.4,1062.4 L235.0,1062.2 L235.6,1062.2 L236.2,1062.5 L236.8,1062.3 L237.4,1062.5 L238.0,1061.9 L238.6,1062.2 L239.2,1062.1 L239.8,1061.8 L240.4,1061.8 L241.0,1062.3 L241.6,1062.3 L242.2,1062.5 L242.8,1062.5 L243.4,1061.8 L244.0,1062.5" fill="none" stroke="#ec1c1c" stroke-width="1.8" stroke-linejoin="round"/>
<line x1="34.2" y1="828.9" x2="244.1" y2="828.9" stroke="#333" stroke-width="1.6"/>
<line x1="34.2" y1="828.9" x2="34.2" y2="1062.5" stroke="#ccc" stroke-width="1.0"/>
<line x1="34.2" y1="1062.5" x2="244.1" y2="1062.5" stroke="#14e014" stroke-width="1.2"/>
<line x1="32.2" y1="835.8" x2="34.2" y2="835.8" stroke="#444" stroke-width="1.2"/>
<line x1="32.2" y1="848.4" x2="34.2" y2="848.4" stroke="#444" stroke-width="1.2"/>
<line x1="32.2" y1="861.0" x2="34.2" y2="861.0" stroke="#444" stroke-width="1.2"/>
<line x1="32.2" y1="873.6" x2="34.2" y2="873.6" stroke="#444" stroke-width="1.2"/>
<line x1="32.2" y1="886.2" x2="34.2" y2="886.2" stroke="#444" stroke-width="1.2"/>
<line x1="32.2" y1="898.8" x2="34.2" y2="898.8" stroke="#444" stroke-width="1.2"/>
<line x1="32.2" y1="911.4" x2="34.2" y2="911.4" stroke="#444" stroke-width="1.2"/>
<line x1="32.2" y1="924.0" x2="34.2" y2="924.0" stroke="#444" stroke-width="1.2"/>
<line x1="32.2" y1="936.6" x2="34.2" y2="936.6" stroke="#444" stroke-width="1.2"/>
<line x1="32.2" y1="949.2" x2="34.2" y2="949.2" stroke="#444" stroke-width="1.2"/>
<line x1="32.2" y1="961.8" x2="34.2" y2="961.8" stroke="#444" stroke-width="1.2"/>
<line x1="32.2" y1="974.4" x2="34.2" y2="974.4" stroke="#444" stroke-width="1.2"/>
<line x1="32.2" y1="987.0" x2="34.2" y2="987.0" stroke="#444" stroke-width="1.2"/>
<line x1="32.2" y1="999.6" x2="34.2" y2="999.6" stroke="#444" stroke-width="1.2"/>
<line x1="32.2" y1="1012.2" x2="34.2" y2="1012.2" stroke="#444" stroke-width="1.2"/>
<line x1="32.2" y1="1024.8" x2="34.2" y2="1024.8" stroke="#444" stroke-width="1.2"/>
<line x1="32.2" y1="1037.4" x2="34.2" y2="1037.4" stroke="#444" stroke-width="1.2"/>
<line x1="32.2" y1="1050.0" x2="34.2" y2="1050.0" stroke="#444" stroke-width="1.2"/>
<line x1="46.3" y1="1062.5" x2="46.3" y2="1060.7" stroke="#777" stroke-width="1"/>
<line x1="55.6" y1="1062.5" x2="55.6" y2="1060.7" stroke="#777" stroke-width="1"/>
<line x1="62.3" y1="1062.5" x2="62.3" y2="1060.7" stroke="#777" stroke-width="1"/>
<line x1="67.4" y1="1062.5" x2="67.4" y2="1060.7" stroke="#777" stroke-width="1"/>
<line x1="71.6" y1="1062.5" x2="71.6" y2="1060.7" stroke="#777" stroke-width="1"/>
<line x1="75.2" y1="1062.5" x2="75.2" y2="1060.7" stroke="#777" stroke-width="1"/>
<line x1="78.3" y1="1062.5" x2="78.3" y2="1060.7" stroke="#777" stroke-width="1"/>
<line x1="81.0" y1="1062.5" x2="81.0" y2="1060.7" stroke="#777" stroke-width="1"/>
<line x1="83.4" y1="1062.5" x2="83.4" y2="1059.5" stroke="#777" stroke-width="1"/>
<line x1="99.3" y1="1062.5" x2="99.3" y2="1060.7" stroke="#777" stroke-width="1"/>
<line x1="108.6" y1="1062.5" x2="108.6" y2="1060.7" stroke="#777" stroke-width="1"/>
<line x1="115.2" y1="1062.5" x2="115.2" y2="1060.7" stroke="#777" stroke-width="1"/>
<line x1="120.4" y1="1062.5" x2="120.4" y2="1060.7" stroke="#777" stroke-width="1"/>
<line x1="124.6" y1="1062.5" x2="124.6" y2="1060.7" stroke="#777" stroke-width="1"/>
<line x1="128.1" y1="1062.5" x2="128.1" y2="1060.7" stroke="#777" stroke-width="1"/>
<line x1="131.2" y1="1062.5" x2="131.2" y2="1060.7" stroke="#777" stroke-width="1"/>
<line x1="133.9" y1="1062.5" x2="133.9" y2="1060.7" stroke="#777" stroke-width="1"/>
<line x1="136.3" y1="1062.5" x2="136.3" y2="1059.5" stroke="#777" stroke-width="1"/>
<line x1="152.6" y1="1062.5" x2="152.6" y2="1060.7" stroke="#777" stroke-width="1"/>
<line x1="162.1" y1="1062.5" x2="162.1" y2="1060.7" stroke="#777" stroke-width="1"/>
<line x1="168.8" y1="1062.5" x2="168.8" y2="1060.7" stroke="#777" stroke-width="1"/>
<line x1="174.0" y1="1062.5" x2="174.0" y2="1060.7" stroke="#777" stroke-width="1"/>
<line x1="178.3" y1="1062.5" x2="178.3" y2="1060.7" stroke="#777" stroke-width="1"/>
<line x1="181.9" y1="1062.5" x2="181.9" y2="1060.7" stroke="#777" stroke-width="1"/>
<line x1="185.1" y1="1062.5" x2="185.1" y2="1060.7" stroke="#777" stroke-width="1"/>
<line x1="187.8" y1="1062.5" x2="187.8" y2="1060.7" stroke="#777" stroke-width="1"/>
<line x1="190.3" y1="1062.5" x2="190.3" y2="1059.5" stroke="#777" stroke-width="1"/>
<line x1="206.1" y1="1062.5" x2="206.1" y2="1060.7" stroke="#777" stroke-width="1"/>
<line x1="215.3" y1="1062.5" x2="215.3" y2="1060.7" stroke="#777" stroke-width="1"/>
<line x1="221.8" y1="1062.5" x2="221.8" y2="1060.7" stroke="#777" stroke-width="1"/>
<line x1="226.9" y1="1062.5" x2="226.9" y2="1060.7" stroke="#777" stroke-width="1"/>
<line x1="231.1" y1="1062.5" x2="231.1" y2="1060.7" stroke="#777" stroke-width="1"/>
<line x1="234.6" y1="1062.5" x2="234.6" y2="1060.7" stroke="#777" stroke-width="1"/>
<line x1="237.6" y1="1062.5" x2="237.6" y2="1060.7" stroke="#777" stroke-width="1"/>
<line x1="240.3" y1="1062.5" x2="240.3" y2="1060.7" stroke="#777" stroke-width="1"/>
<text x="73.4" y="1083.4" font-size="13.5" fill="#333">10<tspan font-size="8.9" dy="-5.5">0</tspan></text>
<text x="126.3" y="1083.4" font-size="13.5" fill="#333">10<tspan font-size="8.9" dy="-5.5">1</tspan></text>
<text x="180.3" y="1083.4" font-size="13.5" fill="#333">10<tspan font-size="8.9" dy="-5.5">2</tspan></text>
<text x="232.7" y="1083.4" font-size="13.5" fill="#333">10<tspan font-size="8.9" dy="-5.5">3</tspan></text>
<path d="M133.4,982.5 L133.4,886.3 L243,886.3" fill="none" stroke="#e2e2e2" stroke-width="1"/>
<rect x="137.3" y="889" width="26.6" height="27.3" fill="#fff" stroke="#14e014" stroke-width="1.5"/>
<rect x="137.5" y="921" width="26.5" height="25.5" fill="#fff" stroke="#ec1c1c" stroke-width="1.5"/>
<rect x="137.5" y="951" width="26.5" height="28" fill="#fff" stroke="#999" stroke-width="1.5"/>
<text x="169.4" y="913.5" font-size="14" font-weight="bold" text-anchor="start" fill="#000" textLength="70.6" lengthAdjust="spacingAndGlyphs">MEK5 Inh</text>
<text x="169.6" y="938.2" font-size="14.7" font-weight="bold" text-anchor="start" fill="#000" textLength="32.4" lengthAdjust="spacingAndGlyphs">Cont</text>
<text x="169.6" y="965.6" font-size="14.7" font-weight="bold" text-anchor="start" fill="#000" textLength="21.8" lengthAdjust="spacingAndGlyphs">-Ve</text>
<text x="112.0" y="859.5" font-size="18" font-weight="bold" text-anchor="start" fill="#000" textLength="117.0" lengthAdjust="spacingAndGlyphs">LDLR Protein</text>
<path d="M10.599999999999998,877.0 L17.4,865.1 L24.2,877.0" fill="none" stroke="#000" stroke-width="3.1" stroke-linecap="round" stroke-linejoin="round"/>
<line x1="17.4" y1="864.5" x2="17.4" y2="927.6" stroke="#000" stroke-width="1.6"/>
<text transform="translate(21.599999999999998,969.2) rotate(-90)" font-size="18" font-weight="bold" text-anchor="middle" textLength="48" lengthAdjust="spacingAndGlyphs">Count</text>
<line x1="17.4" y1="1006.0" x2="17.4" y2="1055.0" stroke="#000" stroke-width="1.6"/>
<path d="M249.5,1064.2 L250.1,1058.6 L250.7,1058.3 L251.3,1056.8 L251.9,1053.9 L252.5,1051.5 L253.1,1048.3 L253.7,1044.6 L254.3,1041.9 L254.9,1036.8 L255.5,1031.7 L256.1,1024.2 L256.7,1017.4 L257.3,1012.2 L257.9,1004.1 L258.5,997.1 L259.1,989.1 L259.7,982.1 L260.3,968.6 L260.9,958.6 L261.5,948.4 L262.1,945.2 L262.7,925.6 L263.3,925.9 L263.9,905.2 L264.5,907.1 L265.1,893.7 L265.7,892.7 L266.3,899.0 L266.9,877.6 L267.5,872.9 L268.1,872.4 L268.7,855.7 L269.3,847.8 L269.9,843.0 L270.5,847.6 L271.1,856.1 L271.7,870.6 L272.3,901.6 L272.9,904.8 L273.5,907.8 L274.1,916.1 L274.7,926.5 L275.3,938.3 L275.9,945.1 L276.5,956.5 L277.1,972.9 L277.7,982.3 L278.3,992.0 L278.9,1000.1 L279.5,1004.0 L280.1,1014.7 L280.7,1018.4 L281.3,1027.2 L281.9,1032.1 L282.5,1037.8 L283.1,1042.7 L283.7,1047.2 L284.3,1048.5 L284.9,1050.8 L285.5,1052.2 L286.1,1053.1 L286.7,1054.6 L287.3,1056.1 L287.9,1056.7 L288.5,1056.8 L289.1,1058.0 L289.7,1058.6 L290.3,1059.2 L290.9,1059.8 L291.5,1059.4 L292.1,1060.6 L292.7,1059.9 L293.3,1060.9 L293.9,1061.0 L294.5,1060.8 L295.1,1061.9 L295.7,1062.0 L296.3,1061.3 L296.9,1062.2 L297.5,1061.5 L298.1,1061.8 L298.7,1062.0 L299.3,1062.1 L299.9,1062.2 L300.5,1064.2 L301.1,1064.2 L301.7,1064.2 L302.3,1064.1 L302.9,1064.2 L303.5,1064.2 L304.1,1064.2 L304.7,1064.2 L305.3,1063.5 L305.9,1064.1 L306.5,1063.5 L307.1,1063.8 L307.7,1063.8 L308.3,1063.6 L308.9,1064.2 L309.5,1064.0 L310.1,1063.7 L310.7,1064.0 L311.3,1063.6 L311.9,1064.2 L312.5,1064.1 L313.1,1063.7 L313.7,1063.5 L314.3,1063.7 L314.9,1063.7 L315.5,1064.2 L316.1,1063.7 L316.7,1064.1 L317.3,1063.5 L317.9,1063.8 L318.5,1063.5 L319.1,1063.5 L319.7,1064.1 L320.3,1063.7 L320.9,1063.9 L321.5,1063.7 L322.1,1064.2 L322.7,1063.5 L323.3,1063.8 L323.9,1063.7 L324.5,1064.2 L325.1,1063.8 L325.7,1064.2 L326.3,1064.1 L326.9,1064.2 L327.5,1064.2 L328.1,1064.2 L328.7,1064.2 L329.3,1064.2 L329.9,1064.1 L330.5,1064.2 L331.1,1064.2 L331.7,1064.2 L332.3,1064.2 L332.9,1064.2 L333.5,1064.2 L334.1,1064.0 L334.7,1063.6 L335.3,1064.0 L335.9,1063.6 L336.5,1063.8 L337.1,1064.2 L337.7,1064.2 L338.3,1064.2 L338.9,1064.0 L339.5,1064.2 L340.1,1064.2 L340.7,1063.6 L341.3,1063.4 L341.9,1063.8 L342.5,1063.8 L343.1,1063.7 L343.7,1064.0 L344.3,1064.0 L344.9,1063.7 L345.5,1063.8 L346.1,1063.9 L346.7,1063.8 L347.3,1064.2 L347.9,1063.6 L348.5,1064.2 L349.1,1064.2 L349.7,1064.2 L350.3,1064.2 L350.9,1064.1 L351.5,1064.2 L352.1,1063.6 L352.7,1063.7 L353.3,1063.5 L353.9,1063.6 L354.5,1064.2 L355.1,1064.2 L355.7,1064.0 L356.3,1063.9 L356.9,1064.2 L357.5,1064.2 L358.1,1064.1 L358.7,1063.9 L359.3,1063.8 L359.9,1063.6 L360.5,1064.1 L361.1,1063.5 L361.7,1064.2 L362.3,1064.2 L362.9,1064.2 L363.5,1063.9 L364.1,1063.8 L364.7,1064.2 L365.3,1063.8 L365.9,1064.2 L366.5,1063.4 L367.1,1064.2 L367.7,1063.6 L368.3,1063.5 L368.9,1064.1 L369.5,1064.2 L370.1,1063.4 L370.7,1064.2 L371.3,1064.1 L371.9,1063.6 L372.5,1064.2 L373.1,1064.0 L373.7,1064.0 L374.3,1064.2 L374.9,1063.4 L375.5,1063.8 L376.1,1063.6 L376.7,1064.2 L377.3,1063.5 L377.9,1063.9 L378.5,1064.2 L379.1,1063.7 L379.7,1063.8 L380.3,1063.8 L380.9,1064.2 L381.5,1064.2 L382.1,1064.2 L382.7,1064.2 L383.3,1064.2 L383.9,1064.2 L384.5,1064.2 L385.1,1063.5 L385.7,1064.0 L386.3,1063.8 L386.9,1063.8 L387.5,1063.5 L388.1,1063.6 L388.7,1064.2 L389.3,1064.0 L389.9,1063.8 L390.5,1063.4 L391.1,1063.4 L391.7,1063.7 L392.3,1063.9 L392.9,1063.9 L393.5,1064.0 L394.1,1064.1 L394.7,1063.6 L395.3,1064.2 L395.9,1064.1 L396.5,1063.4 L397.1,1063.7 L397.7,1064.2 L398.3,1063.6 L398.9,1063.8 L399.5,1064.1 L400.1,1063.4 L400.7,1063.6 L401.3,1063.5 L401.9,1063.9 L402.5,1063.7 L403.1,1064.2 L403.7,1064.1 L404.3,1063.7 L404.9,1063.9 L405.5,1064.2 L406.1,1063.5 L406.7,1063.8 L407.3,1064.2 L407.9,1064.2 L408.5,1064.2 L409.1,1063.5 L409.7,1064.0 L410.3,1064.2 L410.9,1063.5 L411.5,1063.5 L412.1,1064.0 L412.7,1064.1 L413.3,1063.9 L413.9,1063.5 L414.5,1063.5 L415.1,1064.2 L415.7,1063.5 L416.3,1064.1 L416.9,1064.2 L417.5,1064.2 L418.1,1063.8 L418.7,1064.0 L419.3,1063.6 L419.9,1063.5 L420.5,1063.9 L421.1,1063.5 L421.7,1063.6 L422.3,1064.1 L422.9,1064.2 L423.5,1064.2 L424.1,1063.5 L424.7,1064.1 L425.3,1064.2 L425.9,1064.2 L426.5,1063.5 L427.1,1063.9 L427.7,1063.8 L428.3,1063.6 L428.9,1063.8 L429.5,1063.7 L430.1,1063.6 L430.7,1064.2 L431.3,1064.1 L431.9,1063.4 L432.5,1064.1 L433.1,1063.4 L433.7,1064.0 L434.3,1064.2 L434.9,1063.8 L435.5,1063.6 L436.1,1064.2 L436.7,1063.8 L437.3,1063.7 L437.9,1063.5 L438.5,1064.2 L439.1,1063.4 L439.7,1063.8 L440.3,1064.0 L440.9,1064.2 L441.5,1064.1 L442.1,1063.9 L442.7,1064.2 L443.3,1063.9 L443.9,1064.1 L444.5,1063.5 L445.1,1063.5 L445.7,1063.8 L446.3,1064.2 L446.9,1064.0 L447.5,1064.0 L448.1,1064.2 L448.7,1064.1 L449.3,1064.2 L449.9,1063.5 L450.5,1064.0 L451.1,1064.0 L451.7,1064.2 L452.3,1063.5 L452.9,1064.2 L453.5,1064.1" fill="none" stroke="#aaaaaa" stroke-width="1.8" stroke-linejoin="round"/>
<path d="M249.5,1064.2 L250.1,1064.2 L250.7,1063.5 L251.3,1064.2 L251.9,1064.2 L252.5,1063.9 L253.1,1063.8 L253.7,1063.9 L254.3,1063.6 L254.9,1064.2 L255.5,1064.1 L256.1,1064.2 L256.7,1064.2 L257.3,1064.2 L257.9,1063.6 L258.5,1063.7 L259.1,1064.1 L259.7,1063.9 L260.3,1063.6 L260.9,1063.9 L261.5,1064.2 L262.1,1064.2 L262.7,1064.2 L263.3,1064.2 L263.9,1064.1 L264.5,1064.2 L265.1,1063.8 L265.7,1063.8 L266.3,1064.2 L266.9,1064.1 L267.5,1063.9 L268.1,1063.7 L268.7,1064.2 L269.3,1064.2 L269.9,1064.2 L270.5,1063.5 L271.1,1063.8 L271.7,1064.1 L272.3,1064.2 L272.9,1064.2 L273.5,1063.9 L274.1,1063.5 L274.7,1063.4 L275.3,1063.9 L275.9,1064.2 L276.5,1063.8 L277.1,1064.2 L277.7,1064.1 L278.3,1063.4 L278.9,1063.6 L279.5,1063.8 L280.1,1063.9 L280.7,1064.2 L281.3,1064.0 L281.9,1063.5 L282.5,1064.2 L283.1,1063.5 L283.7,1063.5 L284.3,1063.8 L284.9,1064.2 L285.5,1063.6 L286.1,1063.9 L286.7,1064.2 L287.3,1063.5 L287.9,1064.2 L288.5,1064.2 L289.1,1064.2 L289.7,1064.0 L290.3,1062.4 L290.9,1063.1 L291.5,1063.0 L292.1,1062.2 L292.7,1062.6 L293.3,1062.3 L293.9,1061.9 L294.5,1062.1 L295.1,1062.7 L295.7,1062.4 L296.3,1062.3 L296.9,1062.0 L297.5,1061.9 L298.1,1061.0 L298.7,1061.6 L299.3,1060.9 L299.9,1060.4 L300.5,1060.5 L301.1,1060.0 L301.7,1059.9 L302.3,1058.9 L302.9,1058.1 L303.5,1056.8 L304.1,1057.1 L304.7,1055.2 L305.3,1054.6 L305.9,1053.6 L306.5,1051.8 L307.1,1052.7 L307.7,1050.0 L308.3,1049.0 L308.9,1048.9 L309.5,1046.8 L310.1,1045.5 L310.7,1044.6 L311.3,1042.7 L311.9,1041.2 L312.5,1039.2 L313.1,1036.8 L313.7,1035.1 L314.3,1033.0 L314.9,1031.4 L315.5,1027.9 L316.1,1026.2 L316.7,1025.2 L317.3,1019.5 L317.9,1014.8 L318.5,1011.0 L319.1,1000.2 L319.7,1001.2 L320.3,996.0 L320.9,998.0 L321.5,997.8 L322.1,994.3 L322.7,990.3 L323.3,988.5 L323.9,981.1 L324.5,973.2 L325.1,978.2 L325.7,968.3 L326.3,960.8 L326.9,962.2 L327.5,959.2 L328.1,955.4 L328.7,949.4 L329.3,950.3 L329.9,942.3 L330.5,947.9 L331.1,937.4 L331.7,944.9 L332.3,937.4 L332.9,941.7 L333.5,943.7 L334.1,947.1 L334.7,939.6 L335.3,945.2 L335.9,948.8 L336.5,956.4 L337.1,957.6 L337.7,965.0 L338.3,960.8 L338.9,970.1 L339.5,976.3 L340.1,979.3 L340.7,977.1 L341.3,983.7 L341.9,986.1 L342.5,991.3 L343.1,992.2 L343.7,989.7 L344.3,997.5 L344.9,998.2 L345.5,1000.5 L346.1,1005.3 L346.7,1009.9 L347.3,1012.7 L347.9,1013.5 L348.5,1019.0 L349.1,1019.7 L349.7,1023.9 L350.3,1025.0 L350.9,1029.7 L351.5,1034.9 L352.1,1036.6 L352.7,1037.4 L353.3,1041.8 L353.9,1043.4 L354.5,1046.7 L355.1,1048.3 L355.7,1048.8 L356.3,1049.2 L356.9,1052.0 L357.5,1051.3 L358.1,1052.7 L358.7,1053.5 L359.3,1054.6 L359.9,1055.7 L360.5,1055.6 L361.1,1056.6 L361.7,1056.7 L362.3,1057.7 L362.9,1057.0 L363.5,1057.7 L364.1,1058.7 L364.7,1058.6 L365.3,1058.7 L365.9,1059.0 L366.5,1059.2 L367.1,1059.8 L367.7,1059.9 L368.3,1060.6 L368.9,1060.9 L369.5,1060.8 L370.1,1060.9 L370.7,1061.1 L371.3,1061.1 L371.9,1062.1 L372.5,1061.8 L373.1,1062.0 L373.7,1062.1 L374.3,1061.6 L374.9,1062.2 L375.5,1061.7 L376.1,1062.2 L376.7,1061.7 L377.3,1062.6 L377.9,1062.8 L378.5,1062.9 L379.1,1062.3 L379.7,1062.7 L380.3,1062.1 L380.9,1062.6 L381.5,1062.5 L382.1,1062.1 L382.7,1063.1 L383.3,1063.0 L383.9,1062.7 L384.5,1062.3 L385.1,1064.2 L385.7,1063.8 L386.3,1063.7 L386.9,1064.2 L387.5,1063.6 L388.1,1063.9 L388.7,1063.8 L389.3,1064.2 L389.9,1064.0 L390.5,1064.0 L391.1,1063.5 L391.7,1064.0 L392.3,1063.9 L392.9,1063.8 L393.5,1063.6 L394.1,1064.0 L394.7,1064.1 L395.3,1064.2 L395.9,1064.0 L396.5,1063.7 L397.1,1064.1 L397.7,1064.0 L398.3,1064.1 L398.9,1064.2 L399.5,1063.5 L400.1,1063.9 L400.7,1064.2 L401.3,1064.1 L401.9,1064.0 L402.5,1063.7 L403.1,1064.2 L403.7,1064.1 L404.3,1064.1 L404.9,1063.9 L405.5,1063.9 L406.1,1064.1 L406.7,1064.2 L407.3,1063.7 L407.9,1063.5 L408.5,1063.7 L409.1,1064.2 L409.7,1063.9 L410.3,1063.4 L410.9,1063.6 L411.5,1064.2 L412.1,1063.7 L412.7,1064.2 L413.3,1064.2 L413.9,1063.7 L414.5,1064.2 L415.1,1064.0 L415.7,1064.1 L416.3,1063.6 L416.9,1064.2 L417.5,1063.9 L418.1,1063.7 L418.7,1063.5 L419.3,1064.2 L419.9,1064.0 L420.5,1063.8 L421.1,1064.1 L421.7,1063.5 L422.3,1064.0 L422.9,1063.9 L423.5,1064.2 L424.1,1063.7 L424.7,1064.2 L425.3,1064.2 L425.9,1064.1 L426.5,1063.7 L427.1,1064.2 L427.7,1064.2 L428.3,1064.2 L428.9,1064.2 L429.5,1063.6 L430.1,1064.2 L430.7,1064.2 L431.3,1064.2 L431.9,1063.6 L432.5,1063.8 L433.1,1064.0 L433.7,1064.0 L434.3,1064.2 L434.9,1063.9 L435.5,1063.5 L436.1,1063.7 L436.7,1064.2 L437.3,1063.8 L437.9,1064.2 L438.5,1063.7 L439.1,1063.7 L439.7,1064.2 L440.3,1064.2 L440.9,1063.4 L441.5,1063.4 L442.1,1064.0 L442.7,1064.2 L443.3,1064.2 L443.9,1063.8 L444.5,1064.1 L445.1,1064.2 L445.7,1064.2 L446.3,1063.5 L446.9,1063.6 L447.5,1064.0 L448.1,1064.2 L448.7,1064.0 L449.3,1064.0 L449.9,1064.2 L450.5,1064.2 L451.1,1064.2 L451.7,1063.8 L452.3,1064.2 L452.9,1064.2 L453.5,1063.6" fill="none" stroke="#14e014" stroke-width="1.8" stroke-linejoin="round"/>
<path d="M249.5,1064.2 L250.1,1064.0 L250.7,1064.0 L251.3,1064.0 L251.9,1064.1 L252.5,1063.6 L253.1,1064.0 L253.7,1064.2 L254.3,1064.1 L254.9,1064.2 L255.5,1063.7 L256.1,1063.8 L256.7,1064.1 L257.3,1064.2 L257.9,1063.6 L258.5,1064.2 L259.1,1064.2 L259.7,1063.6 L260.3,1063.8 L260.9,1064.2 L261.5,1063.5 L262.1,1064.1 L262.7,1064.2 L263.3,1063.6 L263.9,1063.8 L264.5,1064.1 L265.1,1063.4 L265.7,1063.9 L266.3,1063.6 L266.9,1063.4 L267.5,1063.4 L268.1,1063.8 L268.7,1064.2 L269.3,1063.8 L269.9,1064.2 L270.5,1063.9 L271.1,1064.2 L271.7,1063.5 L272.3,1063.7 L272.9,1063.4 L273.5,1064.1 L274.1,1063.7 L274.7,1063.7 L275.3,1063.6 L275.9,1063.7 L276.5,1064.2 L277.1,1064.1 L277.7,1063.7 L278.3,1063.9 L278.9,1063.5 L279.5,1064.2 L280.1,1064.2 L280.7,1063.4 L281.3,1063.8 L281.9,1064.2 L282.5,1064.2 L283.1,1064.2 L283.7,1064.0 L284.3,1063.9 L284.9,1063.8 L285.5,1063.6 L286.1,1063.5 L286.7,1064.2 L287.3,1063.7 L287.9,1063.7 L288.5,1064.2 L289.1,1064.0 L289.7,1064.2 L290.3,1064.2 L290.9,1064.2 L291.5,1064.2 L292.1,1064.2 L292.7,1064.2 L293.3,1063.8 L293.9,1064.2 L294.5,1064.2 L295.1,1063.8 L295.7,1064.2 L296.3,1064.0 L296.9,1064.0 L297.5,1063.9 L298.1,1063.6 L298.7,1063.9 L299.3,1063.9 L299.9,1063.8 L300.5,1062.8 L301.1,1063.7 L301.7,1062.8 L302.3,1062.7 L302.9,1063.4 L303.5,1062.7 L304.1,1062.9 L304.7,1062.9 L305.3,1063.0 L305.9,1063.0 L306.5,1063.0 L307.1,1062.7 L307.7,1062.1 L308.3,1062.5 L308.9,1061.9 L309.5,1062.1 L310.1,1061.2 L310.7,1061.6 L311.3,1061.8 L311.9,1060.8 L312.5,1061.0 L313.1,1060.4 L313.7,1059.9 L314.3,1060.0 L314.9,1059.3 L315.5,1058.9 L316.1,1058.6 L316.7,1058.4 L317.3,1058.6 L317.9,1058.3 L318.5,1057.5 L319.1,1057.4 L319.7,1056.7 L320.3,1057.1 L320.9,1055.7 L321.5,1056.1 L322.1,1054.7 L322.7,1054.0 L323.3,1053.2 L323.9,1052.8 L324.5,1051.7 L325.1,1051.5 L325.7,1049.9 L326.3,1048.3 L326.9,1048.0 L327.5,1043.7 L328.1,1041.0 L328.7,1039.0 L329.3,1036.1 L329.9,1033.0 L330.5,1026.7 L331.1,1025.7 L331.7,1019.2 L332.3,1013.0 L332.9,1009.9 L333.5,1004.9 L334.1,1000.0 L334.7,997.2 L335.3,993.8 L335.9,986.7 L336.5,979.9 L337.1,973.2 L337.7,967.1 L338.3,957.9 L338.9,957.7 L339.5,952.0 L340.1,936.4 L340.7,941.2 L341.3,933.7 L341.9,934.1 L342.5,929.1 L343.1,933.0 L343.7,924.1 L344.3,924.6 L344.9,928.2 L345.5,923.5 L346.1,912.0 L346.7,917.1 L347.3,917.0 L347.9,913.9 L348.5,930.3 L349.1,930.3 L349.7,938.2 L350.3,943.6 L350.9,943.0 L351.5,949.2 L352.1,950.8 L352.7,951.9 L353.3,962.7 L353.9,975.0 L354.5,974.1 L355.1,980.7 L355.7,986.1 L356.3,989.2 L356.9,995.8 L357.5,994.5 L358.1,1001.5 L358.7,1008.5 L359.3,1012.0 L359.9,1015.8 L360.5,1022.7 L361.1,1027.2 L361.7,1032.2 L362.3,1034.9 L362.9,1039.0 L363.5,1040.6 L364.1,1041.3 L364.7,1044.0 L365.3,1044.2 L365.9,1046.1 L366.5,1046.9 L367.1,1048.7 L367.7,1049.4 L368.3,1049.3 L368.9,1050.8 L369.5,1051.1 L370.1,1052.4 L370.7,1053.8 L371.3,1053.6 L371.9,1055.7 L372.5,1056.6 L373.1,1056.6 L373.7,1056.8 L374.3,1057.5 L374.9,1058.1 L375.5,1058.5 L376.1,1059.0 L376.7,1058.3 L377.3,1058.4 L377.9,1059.1 L378.5,1060.0 L379.1,1060.2 L379.7,1059.9 L380.3,1060.0 L380.9,1060.1 L381.5,1060.6 L382.1,1060.0 L382.7,1060.1 L383.3,1060.6 L383.9,1061.0 L384.5,1061.3 L385.1,1060.5 L385.7,1061.3 L386.3,1061.5 L386.9,1060.8 L387.5,1061.6 L388.1,1061.2 L388.7,1062.0 L389.3,1061.7 L389.9,1061.8 L390.5,1062.4 L391.1,1062.0 L391.7,1062.7 L392.3,1062.1 L392.9,1062.3 L393.5,1062.4 L394.1,1061.9 L394.7,1062.4 L395.3,1062.9 L395.9,1063.0 L396.5,1063.0 L397.1,1062.5 L397.7,1062.7 L398.3,1063.3 L398.9,1063.2 L399.5,1062.5 L400.1,1063.4 L400.7,1063.9 L401.3,1063.8 L401.9,1063.6 L402.5,1064.2 L403.1,1064.1 L403.7,1063.8 L404.3,1064.2 L404.9,1064.1 L405.5,1064.2 L406.1,1063.6 L406.7,1064.1 L407.3,1064.1 L407.9,1063.6 L408.5,1063.5 L409.1,1063.8 L409.7,1064.2 L410.3,1063.6 L410.9,1064.1 L411.5,1063.7 L412.1,1063.8 L412.7,1063.6 L413.3,1064.1 L413.9,1063.6 L414.5,1064.2 L415.1,1064.2 L415.7,1063.7 L416.3,1064.1 L416.9,1063.7 L417.5,1064.2 L418.1,1064.2 L418.7,1064.2 L419.3,1063.6 L419.9,1064.2 L420.5,1063.4 L421.1,1064.2 L421.7,1064.2 L422.3,1063.4 L422.9,1063.6 L423.5,1063.9 L424.1,1064.2 L424.7,1063.9 L425.3,1063.7 L425.9,1063.5 L426.5,1064.2 L427.1,1064.1 L427.7,1064.0 L428.3,1063.7 L428.9,1064.2 L429.5,1063.9 L430.1,1063.7 L430.7,1063.8 L431.3,1064.2 L431.9,1063.7 L432.5,1064.2 L433.1,1063.5 L433.7,1064.2 L434.3,1063.4 L434.9,1064.1 L435.5,1063.9 L436.1,1063.7 L436.7,1063.8 L437.3,1064.2 L437.9,1064.1 L438.5,1064.2 L439.1,1063.7 L439.7,1063.7 L440.3,1064.2 L440.9,1064.2 L441.5,1063.7 L442.1,1063.5 L442.7,1063.7 L443.3,1063.4 L443.9,1063.7 L444.5,1063.6 L445.1,1063.9 L445.7,1063.4 L446.3,1063.4 L446.9,1063.9 L447.5,1064.2 L448.1,1063.9 L448.7,1064.2 L449.3,1064.2 L449.9,1063.8 L450.5,1063.6 L451.1,1063.9 L451.7,1064.2 L452.3,1063.9 L452.9,1064.1 L453.5,1063.6" fill="none" stroke="#ec1c1c" stroke-width="1.8" stroke-linejoin="round"/>
<line x1="248.5" y1="830.1" x2="455.0" y2="830.1" stroke="#777" stroke-width="1.4"/>
<line x1="248.5" y1="830.1" x2="248.5" y2="1064.2" stroke="#666" stroke-width="1.4"/>
<line x1="248.5" y1="1064.2" x2="455.0" y2="1064.2" stroke="#14e014" stroke-width="1.2"/>
<line x1="246.5" y1="842.6" x2="248.5" y2="842.6" stroke="#444" stroke-width="1.2"/>
<line x1="246.5" y1="858.2" x2="248.5" y2="858.2" stroke="#444" stroke-width="1.2"/>
<line x1="246.5" y1="873.8" x2="248.5" y2="873.8" stroke="#444" stroke-width="1.2"/>
<line x1="246.5" y1="889.4" x2="248.5" y2="889.4" stroke="#444" stroke-width="1.2"/>
<line x1="246.5" y1="905.0" x2="248.5" y2="905.0" stroke="#444" stroke-width="1.2"/>
<line x1="246.5" y1="920.6" x2="248.5" y2="920.6" stroke="#444" stroke-width="1.2"/>
<line x1="246.5" y1="936.2" x2="248.5" y2="936.2" stroke="#444" stroke-width="1.2"/>
<line x1="246.5" y1="951.8" x2="248.5" y2="951.8" stroke="#444" stroke-width="1.2"/>
<line x1="246.5" y1="967.4" x2="248.5" y2="967.4" stroke="#444" stroke-width="1.2"/>
<line x1="246.5" y1="983.0" x2="248.5" y2="983.0" stroke="#444" stroke-width="1.2"/>
<line x1="246.5" y1="998.6" x2="248.5" y2="998.6" stroke="#444" stroke-width="1.2"/>
<line x1="246.5" y1="1014.2" x2="248.5" y2="1014.2" stroke="#444" stroke-width="1.2"/>
<line x1="246.5" y1="1029.8" x2="248.5" y2="1029.8" stroke="#444" stroke-width="1.2"/>
<line x1="246.5" y1="1045.4" x2="248.5" y2="1045.4" stroke="#444" stroke-width="1.2"/>
<line x1="262.5" y1="1064.2" x2="262.5" y2="1062.4" stroke="#777" stroke-width="1"/>
<line x1="271.6" y1="1064.2" x2="271.6" y2="1062.4" stroke="#777" stroke-width="1"/>
<line x1="278.1" y1="1064.2" x2="278.1" y2="1062.4" stroke="#777" stroke-width="1"/>
<line x1="283.1" y1="1064.2" x2="283.1" y2="1062.4" stroke="#777" stroke-width="1"/>
<line x1="287.3" y1="1064.2" x2="287.3" y2="1062.4" stroke="#777" stroke-width="1"/>
<line x1="290.7" y1="1064.2" x2="290.7" y2="1062.4" stroke="#777" stroke-width="1"/>
<line x1="293.8" y1="1064.2" x2="293.8" y2="1062.4" stroke="#777" stroke-width="1"/>
<line x1="296.4" y1="1064.2" x2="296.4" y2="1062.4" stroke="#777" stroke-width="1"/>
<line x1="298.8" y1="1064.2" x2="298.8" y2="1061.2" stroke="#777" stroke-width="1"/>
<line x1="314.6" y1="1064.2" x2="314.6" y2="1062.4" stroke="#777" stroke-width="1"/>
<line x1="323.9" y1="1064.2" x2="323.9" y2="1062.4" stroke="#777" stroke-width="1"/>
<line x1="330.5" y1="1064.2" x2="330.5" y2="1062.4" stroke="#777" stroke-width="1"/>
<line x1="335.6" y1="1064.2" x2="335.6" y2="1062.4" stroke="#777" stroke-width="1"/>
<line x1="339.7" y1="1064.2" x2="339.7" y2="1062.4" stroke="#777" stroke-width="1"/>
<line x1="343.3" y1="1064.2" x2="343.3" y2="1062.4" stroke="#777" stroke-width="1"/>
<line x1="346.3" y1="1064.2" x2="346.3" y2="1062.4" stroke="#777" stroke-width="1"/>
<line x1="349.0" y1="1064.2" x2="349.0" y2="1062.4" stroke="#777" stroke-width="1"/>
<line x1="351.4" y1="1064.2" x2="351.4" y2="1061.2" stroke="#777" stroke-width="1"/>
<line x1="366.7" y1="1064.2" x2="366.7" y2="1062.4" stroke="#777" stroke-width="1"/>
<line x1="375.6" y1="1064.2" x2="375.6" y2="1062.4" stroke="#777" stroke-width="1"/>
<line x1="382.0" y1="1064.2" x2="382.0" y2="1062.4" stroke="#777" stroke-width="1"/>
<line x1="386.9" y1="1064.2" x2="386.9" y2="1062.4" stroke="#777" stroke-width="1"/>
<line x1="390.9" y1="1064.2" x2="390.9" y2="1062.4" stroke="#777" stroke-width="1"/>
<line x1="394.3" y1="1064.2" x2="394.3" y2="1062.4" stroke="#777" stroke-width="1"/>
<line x1="397.3" y1="1064.2" x2="397.3" y2="1062.4" stroke="#777" stroke-width="1"/>
<line x1="399.9" y1="1064.2" x2="399.9" y2="1062.4" stroke="#777" stroke-width="1"/>
<line x1="402.2" y1="1064.2" x2="402.2" y2="1061.2" stroke="#777" stroke-width="1"/>
<line x1="418.0" y1="1064.2" x2="418.0" y2="1062.4" stroke="#777" stroke-width="1"/>
<line x1="427.2" y1="1064.2" x2="427.2" y2="1062.4" stroke="#777" stroke-width="1"/>
<line x1="433.8" y1="1064.2" x2="433.8" y2="1062.4" stroke="#777" stroke-width="1"/>
<line x1="438.9" y1="1064.2" x2="438.9" y2="1062.4" stroke="#777" stroke-width="1"/>
<line x1="443.1" y1="1064.2" x2="443.1" y2="1062.4" stroke="#777" stroke-width="1"/>
<line x1="446.6" y1="1064.2" x2="446.6" y2="1062.4" stroke="#777" stroke-width="1"/>
<line x1="449.6" y1="1064.2" x2="449.6" y2="1062.4" stroke="#777" stroke-width="1"/>
<line x1="452.3" y1="1064.2" x2="452.3" y2="1062.4" stroke="#777" stroke-width="1"/>
<text x="289.8" y="1083.4" font-size="13.5" fill="#333">10<tspan font-size="8.9" dy="-5.5">0</tspan></text>
<text x="342.4" y="1083.4" font-size="13.5" fill="#333">10<tspan font-size="8.9" dy="-5.5">1</tspan></text>
<text x="393.2" y="1083.4" font-size="13.5" fill="#333">10<tspan font-size="8.9" dy="-5.5">2</tspan></text>
<text x="445.7" y="1083.4" font-size="13.5" fill="#333">10<tspan font-size="8.9" dy="-5.5">3</tspan></text>
<text x="348.2" y="860.3" font-size="17" font-weight="bold" text-anchor="start" fill="#000" textLength="95.0" lengthAdjust="spacingAndGlyphs">LDL Intake</text>
<path d="M457.1,1063.6 L457.7,1063.0 L458.3,1062.9 L458.9,1063.5 L459.5,1063.3 L460.1,1063.2 L460.7,1062.8 L461.3,1063.5 L461.9,1063.6 L462.5,1062.6 L463.1,1062.5 L463.7,1061.4 L464.3,1060.4 L464.9,1059.4 L465.5,1058.6 L466.1,1056.6 L466.7,1055.7 L467.3,1053.6 L467.9,1052.3 L468.5,1050.9 L469.1,1047.9 L469.7,1045.2 L470.3,1040.2 L470.9,1036.7 L471.5,1029.7 L472.1,1025.3 L472.7,1016.3 L473.3,1011.7 L473.9,999.4 L474.5,997.8 L475.1,983.3 L475.7,975.2 L476.3,965.7 L476.9,952.0 L477.5,940.6 L478.1,919.4 L478.7,911.6 L479.3,906.2 L479.9,891.1 L480.5,872.7 L481.1,856.0 L481.7,846.7 L482.3,845.2 L482.9,849.6 L483.5,852.8 L484.1,857.3 L484.7,862.8 L485.3,856.3 L485.9,872.0 L486.5,855.4 L487.1,857.4 L487.7,878.4 L488.3,887.5 L488.9,889.9 L489.5,898.5 L490.1,913.5 L490.7,909.9 L491.3,921.7 L491.9,926.1 L492.5,932.5 L493.1,939.1 L493.7,947.6 L494.3,953.3 L494.9,967.0 L495.5,977.3 L496.1,982.8 L496.7,988.8 L497.3,1000.2 L497.9,1001.2 L498.5,1010.0 L499.1,1015.4 L499.7,1019.8 L500.3,1026.3 L500.9,1030.4 L501.5,1034.3 L502.1,1037.6 L502.7,1038.8 L503.3,1042.2 L503.9,1045.3 L504.5,1046.8 L505.1,1048.2 L505.7,1050.0 L506.3,1050.6 L506.9,1052.5 L507.5,1052.8 L508.1,1055.1 L508.7,1055.7 L509.3,1055.7 L509.9,1056.5 L510.5,1057.2 L511.1,1057.9 L511.7,1057.8 L512.3,1058.4 L512.9,1058.8 L513.5,1059.0 L514.1,1059.2 L514.7,1060.2 L515.3,1059.8 L515.9,1060.8 L516.5,1060.7 L517.1,1060.2 L517.7,1060.7 L518.3,1060.9 L518.9,1061.8 L519.5,1061.4 L520.1,1061.8 L520.7,1062.1 L521.3,1062.2 L521.9,1061.6 L522.5,1062.5 L523.1,1062.4 L523.7,1062.6 L524.3,1061.9 L524.9,1062.6 L525.5,1063.2 L526.1,1063.6 L526.7,1063.3 L527.3,1062.9 L527.9,1063.1 L528.5,1063.6 L529.1,1063.6 L529.7,1063.6 L530.3,1063.5 L530.9,1063.1 L531.5,1063.3 L532.1,1063.6 L532.7,1063.2 L533.3,1063.6 L533.9,1063.6 L534.5,1063.3 L535.1,1062.9 L535.7,1062.8 L536.3,1063.6 L536.9,1063.4 L537.5,1062.8 L538.1,1063.4 L538.7,1062.9 L539.3,1063.0 L539.9,1063.4 L540.5,1063.1 L541.1,1063.1 L541.7,1063.5 L542.3,1063.6 L542.9,1063.6 L543.5,1063.1 L544.1,1063.5 L544.7,1063.5 L545.3,1063.1 L545.9,1063.0 L546.5,1063.6 L547.1,1063.0 L547.7,1062.9 L548.3,1063.6 L548.9,1063.6 L549.5,1063.6 L550.1,1063.0 L550.7,1063.2 L551.3,1063.1 L551.9,1063.6 L552.5,1063.5 L553.1,1063.3 L553.7,1063.0 L554.3,1063.6 L554.9,1063.5 L555.5,1062.8 L556.1,1063.6 L556.7,1063.6 L557.3,1062.9 L557.9,1063.5 L558.5,1063.0 L559.1,1063.0 L559.7,1062.9 L560.3,1063.2 L560.9,1063.1 L561.5,1063.4 L562.1,1062.8 L562.7,1062.8 L563.3,1063.4 L563.9,1063.6 L564.5,1063.3 L565.1,1063.4 L565.7,1063.2 L566.3,1063.0 L566.9,1063.6 L567.5,1062.9 L568.1,1062.9 L568.7,1062.9 L569.3,1063.6 L569.9,1063.2 L570.5,1063.6 L571.1,1063.6 L571.7,1062.9 L572.3,1063.6 L572.9,1063.6 L573.5,1063.6 L574.1,1063.6 L574.7,1063.6 L575.3,1063.6 L575.9,1063.5 L576.5,1063.6 L577.1,1063.1 L577.7,1063.6 L578.3,1062.9 L578.9,1063.2 L579.5,1063.6 L580.1,1063.6 L580.7,1063.4 L581.3,1063.5 L581.9,1063.4 L582.5,1063.0 L583.1,1063.2 L583.7,1063.0 L584.3,1062.9 L584.9,1063.0 L585.5,1063.3 L586.1,1063.5 L586.7,1063.6 L587.3,1063.1 L587.9,1063.6 L588.5,1063.1 L589.1,1063.2 L589.7,1063.3 L590.3,1063.6 L590.9,1063.3 L591.5,1062.8 L592.1,1063.5 L592.7,1063.6 L593.3,1063.1 L593.9,1063.6 L594.5,1063.4 L595.1,1063.6 L595.7,1063.6 L596.3,1063.1 L596.9,1063.5 L597.5,1063.0 L598.1,1063.6 L598.7,1063.6 L599.3,1062.8 L599.9,1063.3 L600.5,1063.6 L601.1,1063.4 L601.7,1063.6 L602.3,1063.6 L602.9,1063.2 L603.5,1063.2 L604.1,1063.5 L604.7,1063.4 L605.3,1063.0 L605.9,1063.4 L606.5,1063.6 L607.1,1063.4 L607.7,1063.6 L608.3,1063.6 L608.9,1063.1 L609.5,1062.9 L610.1,1063.1 L610.7,1063.4 L611.3,1063.3 L611.9,1063.6 L612.5,1062.9 L613.1,1062.9 L613.7,1063.6 L614.3,1063.6 L614.9,1063.4 L615.5,1063.1 L616.1,1063.0 L616.7,1063.2 L617.3,1063.1 L617.9,1063.3 L618.5,1063.5 L619.1,1063.3 L619.7,1063.3 L620.3,1063.6 L620.9,1063.3 L621.5,1062.9 L622.1,1063.4 L622.7,1063.1 L623.3,1063.6 L623.9,1063.6 L624.5,1063.1 L625.1,1063.3 L625.7,1062.8 L626.3,1062.8 L626.9,1063.6 L627.5,1063.4 L628.1,1063.0 L628.7,1063.6 L629.3,1063.6 L629.9,1063.5 L630.5,1062.9 L631.1,1063.3 L631.7,1063.6 L632.3,1063.1 L632.9,1063.6 L633.5,1063.3 L634.1,1063.4 L634.7,1063.6 L635.3,1062.9 L635.9,1062.9 L636.5,1063.3 L637.1,1063.4 L637.7,1063.6 L638.3,1063.6 L638.9,1063.6 L639.5,1063.4 L640.1,1063.5 L640.7,1063.6 L641.3,1063.2 L641.9,1062.9 L642.5,1063.3 L643.1,1063.4 L643.7,1063.4 L644.3,1063.2 L644.9,1063.1 L645.5,1063.4 L646.1,1063.6 L646.7,1063.3 L647.3,1063.4 L647.9,1062.8 L648.5,1063.6 L649.1,1062.9 L649.7,1063.6 L650.3,1063.1 L650.9,1063.4 L651.5,1063.4 L652.1,1063.3 L652.7,1063.6 L653.3,1063.6 L653.9,1063.3 L654.5,1063.0 L655.1,1063.6 L655.7,1063.6 L656.3,1062.9 L656.9,1063.4 L657.5,1063.4 L658.1,1063.2 L658.7,1063.6 L659.3,1063.5 L659.9,1063.4 L660.5,1063.6 L661.1,1063.6 L661.7,1063.0 L662.3,1063.3 L662.9,1063.2 L663.5,1062.9 L664.1,1063.0 L664.7,1063.6 L665.3,1063.5 L665.9,1063.0 L666.5,1063.6 L667.1,1063.6 L667.7,1063.0 L668.3,1063.2 L668.9,1063.6 L669.5,1063.4 L670.1,1063.6 L670.7,1063.3 L671.3,1063.4 L671.9,1063.6 L672.5,1063.1 L673.1,1063.6 L673.7,1062.9" fill="none" stroke="#aaaaaa" stroke-width="1.8" stroke-linejoin="round"/>
<path d="M457.1,1063.1 L457.7,1063.4 L458.3,1062.9 L458.9,1063.6 L459.5,1063.6 L460.1,1063.5 L460.7,1063.5 L461.3,1063.6 L461.9,1063.6 L462.5,1063.6 L463.1,1063.0 L463.7,1062.9 L464.3,1063.3 L464.9,1063.2 L465.5,1063.6 L466.1,1063.3 L466.7,1063.6 L467.3,1063.6 L467.9,1063.2 L468.5,1063.4 L469.1,1063.2 L469.7,1063.3 L470.3,1063.6 L470.9,1063.6 L471.5,1063.6 L472.1,1063.3 L472.7,1063.1 L473.3,1063.0 L473.9,1063.0 L474.5,1063.0 L475.1,1063.0 L475.7,1063.6 L476.3,1063.1 L476.9,1062.9 L477.5,1063.6 L478.1,1063.2 L478.7,1062.9 L479.3,1063.5 L479.9,1063.3 L480.5,1063.6 L481.1,1063.3 L481.7,1063.2 L482.3,1063.6 L482.9,1063.3 L483.5,1063.1 L484.1,1062.8 L484.7,1063.6 L485.3,1063.0 L485.9,1063.6 L486.5,1063.1 L487.1,1063.6 L487.7,1063.3 L488.3,1063.6 L488.9,1063.6 L489.5,1063.6 L490.1,1063.1 L490.7,1062.9 L491.3,1063.6 L491.9,1063.3 L492.5,1063.2 L493.1,1063.1 L493.7,1063.6 L494.3,1062.9 L494.9,1063.6 L495.5,1063.6 L496.1,1063.1 L496.7,1063.6 L497.3,1063.0 L497.9,1063.0 L498.5,1063.6 L499.1,1063.5 L499.7,1063.6 L500.3,1063.6 L500.9,1063.3 L501.5,1063.6 L502.1,1063.3 L502.7,1062.8 L503.3,1062.9 L503.9,1063.6 L504.5,1063.3 L505.1,1063.3 L505.7,1062.7 L506.3,1063.4 L506.9,1062.7 L507.5,1062.4 L508.1,1063.0 L508.7,1062.9 L509.3,1062.5 L509.9,1062.6 L510.5,1062.0 L511.1,1062.0 L511.7,1061.9 L512.3,1061.5 L512.9,1061.7 L513.5,1060.8 L514.1,1059.4 L514.7,1058.6 L515.3,1057.3 L515.9,1056.0 L516.5,1053.9 L517.1,1053.4 L517.7,1050.9 L518.3,1049.6 L518.9,1047.5 L519.5,1045.5 L520.1,1043.5 L520.7,1040.5 L521.3,1036.2 L521.9,1035.8 L522.5,1029.6 L523.1,1027.0 L523.7,1024.9 L524.3,1019.7 L524.9,1017.2 L525.5,1012.8 L526.1,1005.1 L526.7,999.8 L527.3,992.1 L527.9,985.9 L528.5,983.7 L529.1,977.4 L529.7,973.0 L530.3,968.6 L530.9,957.6 L531.5,953.9 L532.1,944.4 L532.7,935.6 L533.3,925.9 L533.9,918.6 L534.5,910.2 L535.1,902.2 L535.7,900.9 L536.3,902.9 L536.9,885.5 L537.5,880.4 L538.1,888.0 L538.7,870.0 L539.3,877.0 L539.9,874.0 L540.5,875.2 L541.1,870.0 L541.7,873.6 L542.3,871.8 L542.9,876.0 L543.5,884.0 L544.1,879.7 L544.7,892.0 L545.3,894.2 L545.9,902.2 L546.5,912.7 L547.1,927.4 L547.7,929.7 L548.3,935.4 L548.9,937.0 L549.5,956.8 L550.1,952.1 L550.7,953.8 L551.3,966.6 L551.9,969.8 L552.5,978.5 L553.1,979.2 L553.7,985.5 L554.3,990.2 L554.9,999.2 L555.5,1001.9 L556.1,1001.6 L556.7,1006.9 L557.3,1011.1 L557.9,1015.0 L558.5,1015.5 L559.1,1021.9 L559.7,1023.5 L560.3,1026.6 L560.9,1028.2 L561.5,1031.5 L562.1,1033.0 L562.7,1035.5 L563.3,1035.6 L563.9,1038.7 L564.5,1038.0 L565.1,1039.2 L565.7,1040.5 L566.3,1042.4 L566.9,1043.7 L567.5,1043.2 L568.1,1044.5 L568.7,1045.1 L569.3,1045.4 L569.9,1045.7 L570.5,1046.8 L571.1,1047.1 L571.7,1047.7 L572.3,1048.4 L572.9,1048.5 L573.5,1049.2 L574.1,1048.8 L574.7,1048.4 L575.3,1048.7 L575.9,1049.9 L576.5,1049.7 L577.1,1051.1 L577.7,1050.4 L578.3,1050.3 L578.9,1050.2 L579.5,1051.4 L580.1,1051.7 L580.7,1051.4 L581.3,1052.9 L581.9,1052.4 L582.5,1052.0 L583.1,1053.0 L583.7,1053.3 L584.3,1055.0 L584.9,1053.5 L585.5,1054.7 L586.1,1054.7 L586.7,1055.0 L587.3,1054.8 L587.9,1055.6 L588.5,1056.0 L589.1,1056.5 L589.7,1056.5 L590.3,1056.5 L590.9,1057.3 L591.5,1057.6 L592.1,1058.0 L592.7,1057.6 L593.3,1058.8 L593.9,1058.6 L594.5,1059.1 L595.1,1058.8 L595.7,1058.8 L596.3,1058.9 L596.9,1059.4 L597.5,1060.1 L598.1,1060.0 L598.7,1060.7 L599.3,1060.0 L599.9,1059.8 L600.5,1061.1 L601.1,1060.7 L601.7,1061.5 L602.3,1061.4 L602.9,1061.2 L603.5,1061.8 L604.1,1061.6 L604.7,1061.7 L605.3,1061.4 L605.9,1062.2 L606.5,1062.1 L607.1,1061.8 L607.7,1062.5 L608.3,1062.7 L608.9,1062.5 L609.5,1062.9 L610.1,1062.7 L610.7,1062.4 L611.3,1062.6 L611.9,1062.4 L612.5,1063.1 L613.1,1063.1 L613.7,1062.9 L614.3,1063.1 L614.9,1063.0 L615.5,1063.3 L616.1,1062.9 L616.7,1062.5 L617.3,1063.2 L617.9,1062.9 L618.5,1062.8 L619.1,1063.5 L619.7,1062.8 L620.3,1063.2 L620.9,1063.0 L621.5,1063.6 L622.1,1062.9 L622.7,1062.9 L623.3,1063.2 L623.9,1063.4 L624.5,1063.1 L625.1,1063.0 L625.7,1062.9 L626.3,1063.2 L626.9,1063.6 L627.5,1063.1 L628.1,1062.9 L628.7,1063.6 L629.3,1062.8 L629.9,1062.9 L630.5,1062.9 L631.1,1063.5 L631.7,1063.3 L632.3,1062.8 L632.9,1063.2 L633.5,1063.1 L634.1,1063.6 L634.7,1063.0 L635.3,1063.5 L635.9,1063.1 L636.5,1063.6 L637.1,1063.0 L637.7,1063.6 L638.3,1063.0 L638.9,1063.6 L639.5,1063.1 L640.1,1062.8 L640.7,1063.6 L641.3,1063.6 L641.9,1062.8 L642.5,1062.9 L643.1,1063.0 L643.7,1063.0 L644.3,1063.6 L644.9,1062.9 L645.5,1063.6 L646.1,1063.6 L646.7,1063.5 L647.3,1062.8 L647.9,1063.6 L648.5,1063.6 L649.1,1063.4 L649.7,1063.0 L650.3,1063.1 L650.9,1063.6 L651.5,1063.6 L652.1,1063.6 L652.7,1062.9 L653.3,1063.5 L653.9,1063.1 L654.5,1063.6 L655.1,1063.6 L655.7,1063.6 L656.3,1063.6 L656.9,1063.6 L657.5,1063.2 L658.1,1063.6 L658.7,1062.9 L659.3,1063.1 L659.9,1063.6 L660.5,1063.4 L661.1,1063.6 L661.7,1063.5 L662.3,1063.6 L662.9,1062.8 L663.5,1063.6 L664.1,1063.4 L664.7,1063.5 L665.3,1063.5 L665.9,1063.6 L666.5,1063.6 L667.1,1063.6 L667.7,1063.6 L668.3,1063.5 L668.9,1063.6 L669.5,1063.6 L670.1,1063.4 L670.7,1063.3 L671.3,1063.6 L671.9,1062.9 L672.5,1063.6 L673.1,1062.8 L673.7,1063.3" fill="none" stroke="#14e014" stroke-width="1.8" stroke-linejoin="round"/>
<path d="M457.1,1063.4 L457.7,1063.1 L458.3,1063.1 L458.9,1063.1 L459.5,1063.6 L460.1,1062.8 L460.7,1063.1 L461.3,1063.6 L461.9,1063.6 L462.5,1063.6 L463.1,1063.5 L463.7,1063.2 L464.3,1063.6 L464.9,1063.6 L465.5,1063.4 L466.1,1063.6 L466.7,1063.4 L467.3,1063.0 L467.9,1062.8 L468.5,1063.6 L469.1,1063.2 L469.7,1063.0 L470.3,1063.5 L470.9,1063.5 L471.5,1063.6 L472.1,1062.9 L472.7,1063.2 L473.3,1063.2 L473.9,1062.9 L474.5,1063.6 L475.1,1063.1 L475.7,1063.4 L476.3,1063.6 L476.9,1063.2 L477.5,1063.6 L478.1,1063.6 L478.7,1063.2 L479.3,1063.4 L479.9,1063.3 L480.5,1063.6 L481.1,1063.5 L481.7,1063.4 L482.3,1063.6 L482.9,1063.3 L483.5,1063.5 L484.1,1063.6 L484.7,1063.2 L485.3,1062.8 L485.9,1063.2 L486.5,1063.6 L487.1,1063.5 L487.7,1063.6 L488.3,1063.0 L488.9,1063.1 L489.5,1063.4 L490.1,1063.2 L490.7,1063.6 L491.3,1063.0 L491.9,1063.3 L492.5,1063.6 L493.1,1063.5 L493.7,1063.6 L494.3,1063.6 L494.9,1063.0 L495.5,1063.3 L496.1,1063.0 L496.7,1063.4 L497.3,1063.3 L497.9,1063.0 L498.5,1063.2 L499.1,1062.8 L499.7,1063.4 L500.3,1063.2 L500.9,1063.0 L501.5,1063.6 L502.1,1063.3 L502.7,1063.2 L503.3,1063.6 L503.9,1063.2 L504.5,1063.1 L505.1,1063.2 L505.7,1063.4 L506.3,1063.4 L506.9,1063.4 L507.5,1063.4 L508.1,1063.3 L508.7,1063.4 L509.3,1063.6 L509.9,1063.5 L510.5,1063.0 L511.1,1063.1 L511.7,1062.9 L512.3,1062.4 L512.9,1063.4 L513.5,1063.0 L514.1,1063.0 L514.7,1062.5 L515.3,1063.1 L515.9,1062.6 L516.5,1062.6 L517.1,1062.5 L517.7,1062.4 L518.3,1061.6 L518.9,1062.0 L519.5,1060.7 L520.1,1059.9 L520.7,1059.9 L521.3,1059.2 L521.9,1058.3 L522.5,1056.6 L523.1,1056.3 L523.7,1054.4 L524.3,1053.4 L524.9,1051.9 L525.5,1049.6 L526.1,1048.1 L526.7,1045.3 L527.3,1041.9 L527.9,1038.8 L528.5,1034.7 L529.1,1030.5 L529.7,1028.0 L530.3,1019.7 L530.9,1014.8 L531.5,1010.8 L532.1,1003.2 L532.7,996.8 L533.3,991.6 L533.9,985.1 L534.5,983.5 L535.1,970.1 L535.7,973.0 L536.3,964.7 L536.9,958.1 L537.5,951.2 L538.1,956.0 L538.7,939.2 L539.3,934.4 L539.9,934.6 L540.5,930.6 L541.1,913.3 L541.7,918.9 L542.3,909.7 L542.9,917.8 L543.5,916.8 L544.1,909.6 L544.7,911.1 L545.3,914.4 L545.9,902.6 L546.5,897.8 L547.1,897.0 L547.7,890.9 L548.3,889.0 L548.9,895.1 L549.5,898.9 L550.1,910.1 L550.7,907.6 L551.3,910.5 L551.9,919.0 L552.5,925.3 L553.1,930.5 L553.7,936.7 L554.3,939.4 L554.9,943.0 L555.5,946.2 L556.1,954.6 L556.7,960.3 L557.3,960.5 L557.9,963.1 L558.5,967.3 L559.1,970.0 L559.7,980.8 L560.3,989.9 L560.9,986.2 L561.5,999.6 L562.1,1001.7 L562.7,1003.4 L563.3,1012.1 L563.9,1015.3 L564.5,1020.8 L565.1,1024.0 L565.7,1027.0 L566.3,1030.0 L566.9,1032.0 L567.5,1033.9 L568.1,1036.1 L568.7,1040.3 L569.3,1041.6 L569.9,1043.1 L570.5,1045.0 L571.1,1045.5 L571.7,1048.0 L572.3,1050.0 L572.9,1050.3 L573.5,1051.1 L574.1,1052.6 L574.7,1052.3 L575.3,1053.6 L575.9,1053.3 L576.5,1054.7 L577.1,1055.3 L577.7,1055.2 L578.3,1056.2 L578.9,1056.6 L579.5,1056.1 L580.1,1057.6 L580.7,1056.9 L581.3,1057.1 L581.9,1057.8 L582.5,1058.8 L583.1,1058.1 L583.7,1058.7 L584.3,1059.2 L584.9,1059.7 L585.5,1058.8 L586.1,1059.8 L586.7,1059.3 L587.3,1060.2 L587.9,1060.1 L588.5,1059.8 L589.1,1060.9 L589.7,1060.1 L590.3,1060.4 L590.9,1060.6 L591.5,1060.5 L592.1,1061.4 L592.7,1060.8 L593.3,1060.8 L593.9,1060.8 L594.5,1061.0 L595.1,1061.9 L595.7,1061.4 L596.3,1061.6 L596.9,1061.5 L597.5,1061.2 L598.1,1061.9 L598.7,1062.1 L599.3,1062.4 L599.9,1062.1 L600.5,1061.7 L601.1,1062.6 L601.7,1061.9 L602.3,1062.8 L602.9,1062.3 L603.5,1062.5 L604.1,1062.9 L604.7,1062.0 L605.3,1062.2 L605.9,1062.1 L606.5,1063.1 L607.1,1062.3 L607.7,1062.3 L608.3,1063.0 L608.9,1062.7 L609.5,1062.2 L610.1,1063.4 L610.7,1063.0 L611.3,1063.3 L611.9,1063.3 L612.5,1062.9 L613.1,1063.6 L613.7,1063.6 L614.3,1063.2 L614.9,1062.9 L615.5,1063.6 L616.1,1063.0 L616.7,1063.3 L617.3,1063.4 L617.9,1063.4 L618.5,1063.4 L619.1,1063.1 L619.7,1063.6 L620.3,1063.3 L620.9,1063.2 L621.5,1063.3 L622.1,1063.2 L622.7,1063.2 L623.3,1063.1 L623.9,1063.6 L624.5,1063.2 L625.1,1063.0 L625.7,1063.6 L626.3,1062.9 L626.9,1063.0 L627.5,1063.3 L628.1,1063.2 L628.7,1063.6 L629.3,1063.3 L629.9,1063.6 L630.5,1063.3 L631.1,1063.5 L631.7,1062.9 L632.3,1063.6 L632.9,1063.6 L633.5,1063.6 L634.1,1062.8 L634.7,1062.8 L635.3,1063.1 L635.9,1063.5 L636.5,1063.1 L637.1,1063.5 L637.7,1063.6 L638.3,1063.1 L638.9,1063.6 L639.5,1063.6 L640.1,1063.4 L640.7,1063.3 L641.3,1063.6 L641.9,1063.4 L642.5,1063.2 L643.1,1062.9 L643.7,1063.5 L644.3,1063.6 L644.9,1063.3 L645.5,1062.9 L646.1,1063.1 L646.7,1063.2 L647.3,1063.3 L647.9,1063.2 L648.5,1063.4 L649.1,1063.6 L649.7,1062.9 L650.3,1063.6 L650.9,1063.6 L651.5,1063.6 L652.1,1063.3 L652.7,1063.6 L653.3,1063.6 L653.9,1063.2 L654.5,1063.6 L655.1,1063.1 L655.7,1063.1 L656.3,1063.5 L656.9,1062.9 L657.5,1062.9 L658.1,1062.9 L658.7,1063.6 L659.3,1062.9 L659.9,1063.3 L660.5,1063.1 L661.1,1063.6 L661.7,1062.9 L662.3,1063.1 L662.9,1063.6 L663.5,1063.6 L664.1,1063.6 L664.7,1063.1 L665.3,1063.0 L665.9,1063.0 L666.5,1063.6 L667.1,1063.2 L667.7,1063.2 L668.3,1063.0 L668.9,1063.3 L669.5,1062.9 L670.1,1063.6 L670.7,1063.0 L671.3,1063.6 L671.9,1063.6 L672.5,1063.6 L673.1,1063.2 L673.7,1063.1" fill="none" stroke="#ec1c1c" stroke-width="1.8" stroke-linejoin="round"/>
<line x1="456.1" y1="829.3" x2="675.0" y2="829.3" stroke="#666" stroke-width="1.4"/>
<line x1="455.7" y1="829.3" x2="455.7" y2="1063.6" stroke="#8a8a8a" stroke-width="2.6"/>
<line x1="455.7" y1="1039.0" x2="455.7" y2="1063.6" stroke="#f0a0a0" stroke-width="2.6"/>
<line x1="675.0" y1="829.3" x2="675.0" y2="1063.6" stroke="#777" stroke-width="1.4"/>
<line x1="675.0" y1="1034.5" x2="675.0" y2="1046.4" stroke="#f08a8a" stroke-width="1.5"/>
<line x1="675.0" y1="1046.4" x2="675.0" y2="1063.6" stroke="#70e070" stroke-width="1.5"/>
<line x1="456.1" y1="1063.6" x2="675.0" y2="1063.6" stroke="#14e014" stroke-width="1.2"/>
<line x1="454.8" y1="841.5" x2="456.6" y2="841.5" stroke="#444" stroke-width="1.2"/>
<line x1="454.8" y1="860.2" x2="456.6" y2="860.2" stroke="#444" stroke-width="1.2"/>
<line x1="454.8" y1="878.9" x2="456.6" y2="878.9" stroke="#444" stroke-width="1.2"/>
<line x1="454.8" y1="897.6" x2="456.6" y2="897.6" stroke="#444" stroke-width="1.2"/>
<line x1="454.8" y1="916.3" x2="456.6" y2="916.3" stroke="#444" stroke-width="1.2"/>
<line x1="454.8" y1="935.0" x2="456.6" y2="935.0" stroke="#444" stroke-width="1.2"/>
<line x1="454.8" y1="953.7" x2="456.6" y2="953.7" stroke="#444" stroke-width="1.2"/>
<line x1="454.8" y1="972.4" x2="456.6" y2="972.4" stroke="#444" stroke-width="1.2"/>
<line x1="454.8" y1="991.1" x2="456.6" y2="991.1" stroke="#444" stroke-width="1.2"/>
<line x1="454.8" y1="1009.8" x2="456.6" y2="1009.8" stroke="#444" stroke-width="1.2"/>
<line x1="454.8" y1="1028.5" x2="456.6" y2="1028.5" stroke="#444" stroke-width="1.2"/>
<line x1="454.8" y1="1047.2" x2="456.6" y2="1047.2" stroke="#444" stroke-width="1.2"/>
<line x1="472.0" y1="1063.6" x2="472.0" y2="1061.8" stroke="#777" stroke-width="1"/>
<line x1="481.6" y1="1063.6" x2="481.6" y2="1061.8" stroke="#777" stroke-width="1"/>
<line x1="488.4" y1="1063.6" x2="488.4" y2="1061.8" stroke="#777" stroke-width="1"/>
<line x1="493.7" y1="1063.6" x2="493.7" y2="1061.8" stroke="#777" stroke-width="1"/>
<line x1="498.0" y1="1063.6" x2="498.0" y2="1061.8" stroke="#777" stroke-width="1"/>
<line x1="501.6" y1="1063.6" x2="501.6" y2="1061.8" stroke="#777" stroke-width="1"/>
<line x1="504.7" y1="1063.6" x2="504.7" y2="1061.8" stroke="#777" stroke-width="1"/>
<line x1="507.5" y1="1063.6" x2="507.5" y2="1061.8" stroke="#777" stroke-width="1"/>
<line x1="510.0" y1="1063.6" x2="510.0" y2="1060.6" stroke="#777" stroke-width="1"/>
<line x1="526.4" y1="1063.6" x2="526.4" y2="1061.8" stroke="#777" stroke-width="1"/>
<line x1="536.0" y1="1063.6" x2="536.0" y2="1061.8" stroke="#777" stroke-width="1"/>
<line x1="542.8" y1="1063.6" x2="542.8" y2="1061.8" stroke="#777" stroke-width="1"/>
<line x1="548.0" y1="1063.6" x2="548.0" y2="1061.8" stroke="#777" stroke-width="1"/>
<line x1="552.3" y1="1063.6" x2="552.3" y2="1061.8" stroke="#777" stroke-width="1"/>
<line x1="556.0" y1="1063.6" x2="556.0" y2="1061.8" stroke="#777" stroke-width="1"/>
<line x1="559.1" y1="1063.6" x2="559.1" y2="1061.8" stroke="#777" stroke-width="1"/>
<line x1="561.9" y1="1063.6" x2="561.9" y2="1061.8" stroke="#777" stroke-width="1"/>
<line x1="564.4" y1="1063.6" x2="564.4" y2="1060.6" stroke="#777" stroke-width="1"/>
<line x1="580.7" y1="1063.6" x2="580.7" y2="1061.8" stroke="#777" stroke-width="1"/>
<line x1="590.3" y1="1063.6" x2="590.3" y2="1061.8" stroke="#777" stroke-width="1"/>
<line x1="597.1" y1="1063.6" x2="597.1" y2="1061.8" stroke="#777" stroke-width="1"/>
<line x1="602.4" y1="1063.6" x2="602.4" y2="1061.8" stroke="#777" stroke-width="1"/>
<line x1="606.7" y1="1063.6" x2="606.7" y2="1061.8" stroke="#777" stroke-width="1"/>
<line x1="610.3" y1="1063.6" x2="610.3" y2="1061.8" stroke="#777" stroke-width="1"/>
<line x1="613.4" y1="1063.6" x2="613.4" y2="1061.8" stroke="#777" stroke-width="1"/>
<line x1="616.2" y1="1063.6" x2="616.2" y2="1061.8" stroke="#777" stroke-width="1"/>
<line x1="618.7" y1="1063.6" x2="618.7" y2="1060.6" stroke="#777" stroke-width="1"/>
<line x1="635.0" y1="1063.6" x2="635.0" y2="1061.8" stroke="#777" stroke-width="1"/>
<line x1="644.6" y1="1063.6" x2="644.6" y2="1061.8" stroke="#777" stroke-width="1"/>
<line x1="651.4" y1="1063.6" x2="651.4" y2="1061.8" stroke="#777" stroke-width="1"/>
<line x1="656.7" y1="1063.6" x2="656.7" y2="1061.8" stroke="#777" stroke-width="1"/>
<line x1="661.0" y1="1063.6" x2="661.0" y2="1061.8" stroke="#777" stroke-width="1"/>
<line x1="664.6" y1="1063.6" x2="664.6" y2="1061.8" stroke="#777" stroke-width="1"/>
<line x1="667.7" y1="1063.6" x2="667.7" y2="1061.8" stroke="#777" stroke-width="1"/>
<line x1="670.5" y1="1063.6" x2="670.5" y2="1061.8" stroke="#777" stroke-width="1"/>
<text x="501" y="1083.4" font-size="13.5" fill="#333">10<tspan font-size="8.9" dy="-5.5">0</tspan></text>
<text x="555.4" y="1083.4" font-size="13.5" fill="#333">10<tspan font-size="8.9" dy="-5.5">1</tspan></text>
<text x="609.7" y="1083.4" font-size="13.5" fill="#333">10<tspan font-size="8.9" dy="-5.5">2</tspan></text>
<text x="664" y="1083.4" font-size="13.5" fill="#333">10<tspan font-size="8.9" dy="-5.5">3</tspan></text>
<text x="563.5" y="859.7" font-size="17" font-weight="bold" text-anchor="start" fill="#000" textLength="95.7" lengthAdjust="spacingAndGlyphs">LDL Intake</text>
<line x1="160.4" y1="1096.9" x2="259.3" y2="1096.9" stroke="#333" stroke-width="1.4"/>
<text x="272.7" y="1099.5" font-size="14" font-weight="bold" text-anchor="start" fill="#000" textLength="144.7" lengthAdjust="spacingAndGlyphs">Fluorescence Intensity</text>
<line x1="437.8" y1="1096.5" x2="542.0" y2="1096.5" stroke="#222" stroke-width="1.4"/>
<path d="M530.2,1090.2 L543.8,1096.6 L530.2,1103.4" fill="none" stroke="#000" stroke-width="3.1" stroke-linecap="round" stroke-linejoin="round"/>
</svg>
</body></html>
